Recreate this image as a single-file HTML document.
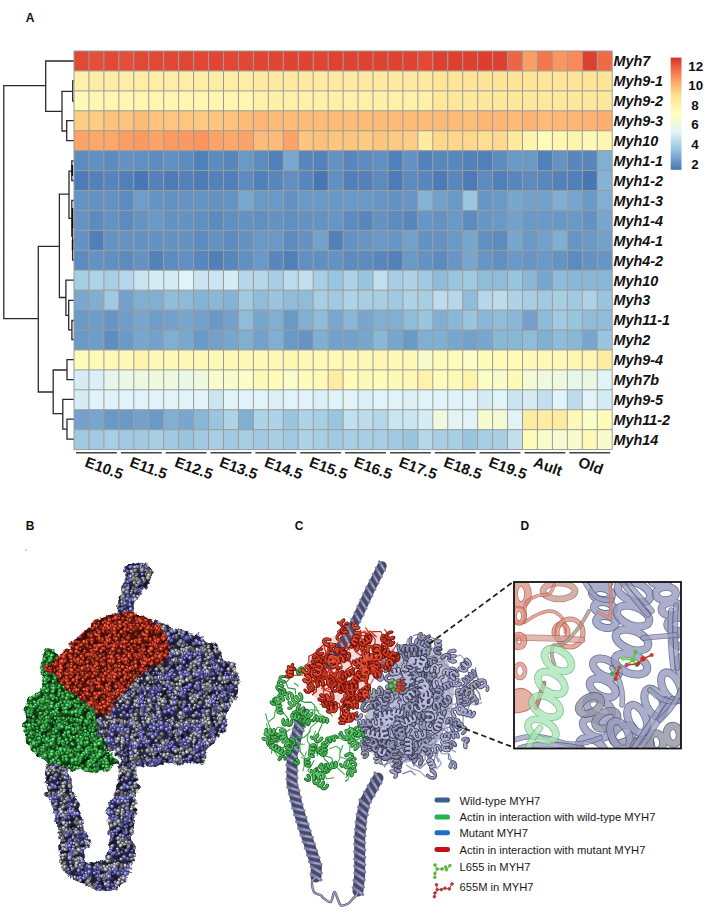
<!DOCTYPE html>
<html><head><meta charset="utf-8"><style>
html,body{margin:0;padding:0;background:#fff;}
body{width:708px;height:918px;overflow:hidden;font-family:"Liberation Sans",sans-serif;}
svg{display:block;}
</style></head><body>
<svg width="708" height="918" viewBox="0 0 708 918">
<rect width="708" height="918" fill="#fff"/>
<path d="M3.8 85.7V318.6 M3.8 85.7H45.7 M3.8 318.6H38.3 M45.7 61V111.3 M45.7 61H74 M45.7 111.3H62 M62 91.4V131 M62 91.4H72.7 M72.7 81V101 M72.7 81H74 M72.7 101H74 M62 131H66.7 M66.7 120.7V140.6 M66.7 120.7H74 M66.7 140.6H74 M38.3 246.4V392 M38.3 246.4H59.4 M59.4 194.2V297.5 M59.4 194.2H69 M69 171.2V218.4 M69 171.2H71.8 M71.8 160.9V180.5 M71.8 160.9H74 M71.8 180.5H74 M69 218.4H71.8 M71.8 200.5V236 M71.8 200.5H74 M72.6 220.2V260 M72.6 240H74 M72.6 260H74 M59.4 297.5H65.9 M65.9 280.2V315.4 M65.9 280.2H74 M65.9 315.4H68.7 M68.7 300.3V329.8 M68.7 300.3H74 M68.7 329.8H71.9 M71.9 320.5V339.5 M71.9 320.5H74 M71.9 339.5H74 M38.3 392H53.2 M53.2 370V413.7 M53.2 370H67 M67 359.7V379.6 M67 359.7H74 M67 379.6H74 M53.2 413.7H62.8 M62.8 399.3V429.2 M62.8 399.3H74 M62.8 429.2H67 M67 419.2V439.1 M67 419.2H74 M67 439.1H74" stroke="#2a2a2a" stroke-width="1.3" fill="none" stroke-linecap="square"/><path d="M72.6 208V228 M72.6 240V250 M72.3 165V176" stroke="#111" stroke-width="1.6"/>
<rect x="74.00" y="51.00" width="14.95" height="19.93" fill="#e14935"/>
<rect x="88.95" y="51.00" width="14.95" height="19.93" fill="#e34f38"/>
<rect x="103.90" y="51.00" width="14.95" height="19.93" fill="#e14935"/>
<rect x="118.85" y="51.00" width="14.95" height="19.93" fill="#e34f38"/>
<rect x="133.80" y="51.00" width="14.95" height="19.93" fill="#e14935"/>
<rect x="148.75" y="51.00" width="14.95" height="19.93" fill="#e14935"/>
<rect x="163.70" y="51.00" width="14.95" height="19.93" fill="#e04734"/>
<rect x="178.65" y="51.00" width="14.95" height="19.93" fill="#e04633"/>
<rect x="193.60" y="51.00" width="14.95" height="19.93" fill="#e04734"/>
<rect x="208.55" y="51.00" width="14.95" height="19.93" fill="#e04633"/>
<rect x="223.50" y="51.00" width="14.95" height="19.93" fill="#e04734"/>
<rect x="238.45" y="51.00" width="14.95" height="19.93" fill="#e04734"/>
<rect x="253.40" y="51.00" width="14.95" height="19.93" fill="#df4532"/>
<rect x="268.35" y="51.00" width="14.95" height="19.93" fill="#df4532"/>
<rect x="283.30" y="51.00" width="14.95" height="19.93" fill="#df4432"/>
<rect x="298.25" y="51.00" width="14.95" height="19.93" fill="#df4432"/>
<rect x="313.20" y="51.00" width="14.95" height="19.93" fill="#df4532"/>
<rect x="328.15" y="51.00" width="14.95" height="19.93" fill="#de4231"/>
<rect x="343.10" y="51.00" width="14.95" height="19.93" fill="#df4432"/>
<rect x="358.05" y="51.00" width="14.95" height="19.93" fill="#de4231"/>
<rect x="373.00" y="51.00" width="14.95" height="19.93" fill="#df4432"/>
<rect x="387.95" y="51.00" width="14.95" height="19.93" fill="#de4231"/>
<rect x="402.90" y="51.00" width="14.95" height="19.93" fill="#df4432"/>
<rect x="417.85" y="51.00" width="14.95" height="19.93" fill="#e14935"/>
<rect x="432.80" y="51.00" width="14.95" height="19.93" fill="#dd402f"/>
<rect x="447.75" y="51.00" width="14.95" height="19.93" fill="#dd402f"/>
<rect x="462.70" y="51.00" width="14.95" height="19.93" fill="#dd402f"/>
<rect x="477.65" y="51.00" width="14.95" height="19.93" fill="#dd3e2f"/>
<rect x="492.60" y="51.00" width="14.95" height="19.93" fill="#dd402f"/>
<rect x="507.55" y="51.00" width="14.95" height="19.93" fill="#ec6544"/>
<rect x="522.50" y="51.00" width="14.95" height="19.93" fill="#fc9e64"/>
<rect x="537.45" y="51.00" width="14.95" height="19.93" fill="#f3764c"/>
<rect x="552.40" y="51.00" width="14.95" height="19.93" fill="#fc965f"/>
<rect x="567.35" y="51.00" width="14.95" height="19.93" fill="#fb8957"/>
<rect x="582.30" y="51.00" width="14.95" height="19.93" fill="#dd402f"/>
<rect x="597.25" y="51.00" width="14.95" height="19.93" fill="#ee6b46"/>
<rect x="74.00" y="70.93" width="14.95" height="19.93" fill="#fff0a8"/>
<rect x="88.95" y="70.93" width="14.95" height="19.93" fill="#feeda4"/>
<rect x="103.90" y="70.93" width="14.95" height="19.93" fill="#feeda4"/>
<rect x="118.85" y="70.93" width="14.95" height="19.93" fill="#feeda4"/>
<rect x="133.80" y="70.93" width="14.95" height="19.93" fill="#feeda4"/>
<rect x="148.75" y="70.93" width="14.95" height="19.93" fill="#feeda4"/>
<rect x="163.70" y="70.93" width="14.95" height="19.93" fill="#feeda4"/>
<rect x="178.65" y="70.93" width="14.95" height="19.93" fill="#feeda4"/>
<rect x="193.60" y="70.93" width="14.95" height="19.93" fill="#feeda4"/>
<rect x="208.55" y="70.93" width="14.95" height="19.93" fill="#feeda4"/>
<rect x="223.50" y="70.93" width="14.95" height="19.93" fill="#feeda4"/>
<rect x="238.45" y="70.93" width="14.95" height="19.93" fill="#feeda4"/>
<rect x="253.40" y="70.93" width="14.95" height="19.93" fill="#feeba1"/>
<rect x="268.35" y="70.93" width="14.95" height="19.93" fill="#feeba1"/>
<rect x="283.30" y="70.93" width="14.95" height="19.93" fill="#feeba1"/>
<rect x="298.25" y="70.93" width="14.95" height="19.93" fill="#feeba1"/>
<rect x="313.20" y="70.93" width="14.95" height="19.93" fill="#feeba1"/>
<rect x="328.15" y="70.93" width="14.95" height="19.93" fill="#feeba1"/>
<rect x="343.10" y="70.93" width="14.95" height="19.93" fill="#feeba1"/>
<rect x="358.05" y="70.93" width="14.95" height="19.93" fill="#feeba1"/>
<rect x="373.00" y="70.93" width="14.95" height="19.93" fill="#feeba1"/>
<rect x="387.95" y="70.93" width="14.95" height="19.93" fill="#feeba1"/>
<rect x="402.90" y="70.93" width="14.95" height="19.93" fill="#feeba1"/>
<rect x="417.85" y="70.93" width="14.95" height="19.93" fill="#feeba1"/>
<rect x="432.80" y="70.93" width="14.95" height="19.93" fill="#fee598"/>
<rect x="447.75" y="70.93" width="14.95" height="19.93" fill="#fee598"/>
<rect x="462.70" y="70.93" width="14.95" height="19.93" fill="#fee598"/>
<rect x="477.65" y="70.93" width="14.95" height="19.93" fill="#fee598"/>
<rect x="492.60" y="70.93" width="14.95" height="19.93" fill="#fee598"/>
<rect x="507.55" y="70.93" width="14.95" height="19.93" fill="#fee598"/>
<rect x="522.50" y="70.93" width="14.95" height="19.93" fill="#fee598"/>
<rect x="537.45" y="70.93" width="14.95" height="19.93" fill="#fee598"/>
<rect x="552.40" y="70.93" width="14.95" height="19.93" fill="#fee598"/>
<rect x="567.35" y="70.93" width="14.95" height="19.93" fill="#fee598"/>
<rect x="582.30" y="70.93" width="14.95" height="19.93" fill="#fee598"/>
<rect x="597.25" y="70.93" width="14.95" height="19.93" fill="#fee598"/>
<rect x="74.00" y="90.86" width="14.95" height="19.93" fill="#fff9b7"/>
<rect x="88.95" y="90.86" width="14.95" height="19.93" fill="#fff6b1"/>
<rect x="103.90" y="90.86" width="14.95" height="19.93" fill="#fff6b1"/>
<rect x="118.85" y="90.86" width="14.95" height="19.93" fill="#fff6b1"/>
<rect x="133.80" y="90.86" width="14.95" height="19.93" fill="#fff6b1"/>
<rect x="148.75" y="90.86" width="14.95" height="19.93" fill="#fff6b1"/>
<rect x="163.70" y="90.86" width="14.95" height="19.93" fill="#fff6b1"/>
<rect x="178.65" y="90.86" width="14.95" height="19.93" fill="#fff6b1"/>
<rect x="193.60" y="90.86" width="14.95" height="19.93" fill="#fff6b1"/>
<rect x="208.55" y="90.86" width="14.95" height="19.93" fill="#fff6b1"/>
<rect x="223.50" y="90.86" width="14.95" height="19.93" fill="#fff6b1"/>
<rect x="238.45" y="90.86" width="14.95" height="19.93" fill="#fff6b1"/>
<rect x="253.40" y="90.86" width="14.95" height="19.93" fill="#fff0a8"/>
<rect x="268.35" y="90.86" width="14.95" height="19.93" fill="#fff0a8"/>
<rect x="283.30" y="90.86" width="14.95" height="19.93" fill="#fff0a8"/>
<rect x="298.25" y="90.86" width="14.95" height="19.93" fill="#fff0a8"/>
<rect x="313.20" y="90.86" width="14.95" height="19.93" fill="#fff0a8"/>
<rect x="328.15" y="90.86" width="14.95" height="19.93" fill="#fff0a8"/>
<rect x="343.10" y="90.86" width="14.95" height="19.93" fill="#fff0a8"/>
<rect x="358.05" y="90.86" width="14.95" height="19.93" fill="#fff0a8"/>
<rect x="373.00" y="90.86" width="14.95" height="19.93" fill="#fff0a8"/>
<rect x="387.95" y="90.86" width="14.95" height="19.93" fill="#fff0a8"/>
<rect x="402.90" y="90.86" width="14.95" height="19.93" fill="#fff0a8"/>
<rect x="417.85" y="90.86" width="14.95" height="19.93" fill="#fff0a8"/>
<rect x="432.80" y="90.86" width="14.95" height="19.93" fill="#fee89c"/>
<rect x="447.75" y="90.86" width="14.95" height="19.93" fill="#fee89c"/>
<rect x="462.70" y="90.86" width="14.95" height="19.93" fill="#fee89c"/>
<rect x="477.65" y="90.86" width="14.95" height="19.93" fill="#fee89c"/>
<rect x="492.60" y="90.86" width="14.95" height="19.93" fill="#fee89c"/>
<rect x="507.55" y="90.86" width="14.95" height="19.93" fill="#fee89c"/>
<rect x="522.50" y="90.86" width="14.95" height="19.93" fill="#fee89c"/>
<rect x="537.45" y="90.86" width="14.95" height="19.93" fill="#fee89c"/>
<rect x="552.40" y="90.86" width="14.95" height="19.93" fill="#fee89c"/>
<rect x="567.35" y="90.86" width="14.95" height="19.93" fill="#fee89c"/>
<rect x="582.30" y="90.86" width="14.95" height="19.93" fill="#fee89c"/>
<rect x="597.25" y="90.86" width="14.95" height="19.93" fill="#fee89c"/>
<rect x="74.00" y="110.79" width="14.95" height="19.93" fill="#fecd83"/>
<rect x="88.95" y="110.79" width="14.95" height="19.93" fill="#fecd83"/>
<rect x="103.90" y="110.79" width="14.95" height="19.93" fill="#fdc37d"/>
<rect x="118.85" y="110.79" width="14.95" height="19.93" fill="#fdc37d"/>
<rect x="133.80" y="110.79" width="14.95" height="19.93" fill="#fdbb78"/>
<rect x="148.75" y="110.79" width="14.95" height="19.93" fill="#fdc37d"/>
<rect x="163.70" y="110.79" width="14.95" height="19.93" fill="#fdc57e"/>
<rect x="178.65" y="110.79" width="14.95" height="19.93" fill="#fdc57e"/>
<rect x="193.60" y="110.79" width="14.95" height="19.93" fill="#fdca82"/>
<rect x="208.55" y="110.79" width="14.95" height="19.93" fill="#fdc57e"/>
<rect x="223.50" y="110.79" width="14.95" height="19.93" fill="#fdc37d"/>
<rect x="238.45" y="110.79" width="14.95" height="19.93" fill="#fdbb78"/>
<rect x="253.40" y="110.79" width="14.95" height="19.93" fill="#fdb674"/>
<rect x="268.35" y="110.79" width="14.95" height="19.93" fill="#fdbb78"/>
<rect x="283.30" y="110.79" width="14.95" height="19.93" fill="#fdbb78"/>
<rect x="298.25" y="110.79" width="14.95" height="19.93" fill="#fdbb78"/>
<rect x="313.20" y="110.79" width="14.95" height="19.93" fill="#fdbb78"/>
<rect x="328.15" y="110.79" width="14.95" height="19.93" fill="#fdbb78"/>
<rect x="343.10" y="110.79" width="14.95" height="19.93" fill="#fdbb78"/>
<rect x="358.05" y="110.79" width="14.95" height="19.93" fill="#fdbb78"/>
<rect x="373.00" y="110.79" width="14.95" height="19.93" fill="#fdbb78"/>
<rect x="387.95" y="110.79" width="14.95" height="19.93" fill="#fdbb78"/>
<rect x="402.90" y="110.79" width="14.95" height="19.93" fill="#fdbb78"/>
<rect x="417.85" y="110.79" width="14.95" height="19.93" fill="#fdbb78"/>
<rect x="432.80" y="110.79" width="14.95" height="19.93" fill="#fdb976"/>
<rect x="447.75" y="110.79" width="14.95" height="19.93" fill="#fdbb78"/>
<rect x="462.70" y="110.79" width="14.95" height="19.93" fill="#fdbe79"/>
<rect x="477.65" y="110.79" width="14.95" height="19.93" fill="#fdb674"/>
<rect x="492.60" y="110.79" width="14.95" height="19.93" fill="#fdb674"/>
<rect x="507.55" y="110.79" width="14.95" height="19.93" fill="#fdbb78"/>
<rect x="522.50" y="110.79" width="14.95" height="19.93" fill="#fdb271"/>
<rect x="537.45" y="110.79" width="14.95" height="19.93" fill="#fdbb78"/>
<rect x="552.40" y="110.79" width="14.95" height="19.93" fill="#fdb674"/>
<rect x="567.35" y="110.79" width="14.95" height="19.93" fill="#fdb674"/>
<rect x="582.30" y="110.79" width="14.95" height="19.93" fill="#fdb271"/>
<rect x="597.25" y="110.79" width="14.95" height="19.93" fill="#fdad6e"/>
<rect x="74.00" y="130.72" width="14.95" height="19.93" fill="#fda367"/>
<rect x="88.95" y="130.72" width="14.95" height="19.93" fill="#fda86b"/>
<rect x="103.90" y="130.72" width="14.95" height="19.93" fill="#fda86b"/>
<rect x="118.85" y="130.72" width="14.95" height="19.93" fill="#fc9e64"/>
<rect x="133.80" y="130.72" width="14.95" height="19.93" fill="#fc9961"/>
<rect x="148.75" y="130.72" width="14.95" height="19.93" fill="#fda367"/>
<rect x="163.70" y="130.72" width="14.95" height="19.93" fill="#fc9961"/>
<rect x="178.65" y="130.72" width="14.95" height="19.93" fill="#fc9961"/>
<rect x="193.60" y="130.72" width="14.95" height="19.93" fill="#fc945d"/>
<rect x="208.55" y="130.72" width="14.95" height="19.93" fill="#fda367"/>
<rect x="223.50" y="130.72" width="14.95" height="19.93" fill="#fda86b"/>
<rect x="238.45" y="130.72" width="14.95" height="19.93" fill="#fda367"/>
<rect x="253.40" y="130.72" width="14.95" height="19.93" fill="#fdbb78"/>
<rect x="268.35" y="130.72" width="14.95" height="19.93" fill="#fdbb78"/>
<rect x="283.30" y="130.72" width="14.95" height="19.93" fill="#fda367"/>
<rect x="298.25" y="130.72" width="14.95" height="19.93" fill="#fdc57e"/>
<rect x="313.20" y="130.72" width="14.95" height="19.93" fill="#fdc07b"/>
<rect x="328.15" y="130.72" width="14.95" height="19.93" fill="#fdc57e"/>
<rect x="343.10" y="130.72" width="14.95" height="19.93" fill="#fdc57e"/>
<rect x="358.05" y="130.72" width="14.95" height="19.93" fill="#fdca82"/>
<rect x="373.00" y="130.72" width="14.95" height="19.93" fill="#fdc57e"/>
<rect x="387.95" y="130.72" width="14.95" height="19.93" fill="#fdca82"/>
<rect x="402.90" y="130.72" width="14.95" height="19.93" fill="#fecd83"/>
<rect x="417.85" y="130.72" width="14.95" height="19.93" fill="#feeba0"/>
<rect x="432.80" y="130.72" width="14.95" height="19.93" fill="#fed78a"/>
<rect x="447.75" y="130.72" width="14.95" height="19.93" fill="#fed78a"/>
<rect x="462.70" y="130.72" width="14.95" height="19.93" fill="#fed98c"/>
<rect x="477.65" y="130.72" width="14.95" height="19.93" fill="#fede8f"/>
<rect x="492.60" y="130.72" width="14.95" height="19.93" fill="#fed98c"/>
<rect x="507.55" y="130.72" width="14.95" height="19.93" fill="#fee99d"/>
<rect x="522.50" y="130.72" width="14.95" height="19.93" fill="#fff4ae"/>
<rect x="537.45" y="130.72" width="14.95" height="19.93" fill="#fffbb9"/>
<rect x="552.40" y="130.72" width="14.95" height="19.93" fill="#fff6b1"/>
<rect x="567.35" y="130.72" width="14.95" height="19.93" fill="#fff4ae"/>
<rect x="582.30" y="130.72" width="14.95" height="19.93" fill="#fff9b7"/>
<rect x="597.25" y="130.72" width="14.95" height="19.93" fill="#fff6b1"/>
<rect x="74.00" y="150.65" width="14.95" height="19.93" fill="#5c8bc0"/>
<rect x="88.95" y="150.65" width="14.95" height="19.93" fill="#6090c2"/>
<rect x="103.90" y="150.65" width="14.95" height="19.93" fill="#5c8bc0"/>
<rect x="118.85" y="150.65" width="14.95" height="19.93" fill="#6392c3"/>
<rect x="133.80" y="150.65" width="14.95" height="19.93" fill="#6090c2"/>
<rect x="148.75" y="150.65" width="14.95" height="19.93" fill="#5c8bc0"/>
<rect x="163.70" y="150.65" width="14.95" height="19.93" fill="#6090c2"/>
<rect x="178.65" y="150.65" width="14.95" height="19.93" fill="#5c8bc0"/>
<rect x="193.60" y="150.65" width="14.95" height="19.93" fill="#5080ba"/>
<rect x="208.55" y="150.65" width="14.95" height="19.93" fill="#5c8bc0"/>
<rect x="223.50" y="150.65" width="14.95" height="19.93" fill="#5787bd"/>
<rect x="238.45" y="150.65" width="14.95" height="19.93" fill="#6999c7"/>
<rect x="253.40" y="150.65" width="14.95" height="19.93" fill="#5c8bc0"/>
<rect x="268.35" y="150.65" width="14.95" height="19.93" fill="#5080ba"/>
<rect x="283.30" y="150.65" width="14.95" height="19.93" fill="#79a8cf"/>
<rect x="298.25" y="150.65" width="14.95" height="19.93" fill="#5787bd"/>
<rect x="313.20" y="150.65" width="14.95" height="19.93" fill="#5382bb"/>
<rect x="328.15" y="150.65" width="14.95" height="19.93" fill="#6392c3"/>
<rect x="343.10" y="150.65" width="14.95" height="19.93" fill="#5787bd"/>
<rect x="358.05" y="150.65" width="14.95" height="19.93" fill="#5c8bc0"/>
<rect x="373.00" y="150.65" width="14.95" height="19.93" fill="#6090c2"/>
<rect x="387.95" y="150.65" width="14.95" height="19.93" fill="#5080ba"/>
<rect x="402.90" y="150.65" width="14.95" height="19.93" fill="#6392c3"/>
<rect x="417.85" y="150.65" width="14.95" height="19.93" fill="#5382bb"/>
<rect x="432.80" y="150.65" width="14.95" height="19.93" fill="#5787bd"/>
<rect x="447.75" y="150.65" width="14.95" height="19.93" fill="#5787bd"/>
<rect x="462.70" y="150.65" width="14.95" height="19.93" fill="#5382bb"/>
<rect x="477.65" y="150.65" width="14.95" height="19.93" fill="#5080ba"/>
<rect x="492.60" y="150.65" width="14.95" height="19.93" fill="#5c8bc0"/>
<rect x="507.55" y="150.65" width="14.95" height="19.93" fill="#6999c7"/>
<rect x="522.50" y="150.65" width="14.95" height="19.93" fill="#6999c7"/>
<rect x="537.45" y="150.65" width="14.95" height="19.93" fill="#5080ba"/>
<rect x="552.40" y="150.65" width="14.95" height="19.93" fill="#6392c3"/>
<rect x="567.35" y="150.65" width="14.95" height="19.93" fill="#5787bd"/>
<rect x="582.30" y="150.65" width="14.95" height="19.93" fill="#5787bd"/>
<rect x="597.25" y="150.65" width="14.95" height="19.93" fill="#80afd2"/>
<rect x="74.00" y="170.58" width="14.95" height="19.93" fill="#4c7cb8"/>
<rect x="88.95" y="170.58" width="14.95" height="19.93" fill="#5382bb"/>
<rect x="103.90" y="170.58" width="14.95" height="19.93" fill="#5585bc"/>
<rect x="118.85" y="170.58" width="14.95" height="19.93" fill="#5080ba"/>
<rect x="133.80" y="170.58" width="14.95" height="19.93" fill="#4777b5"/>
<rect x="148.75" y="170.58" width="14.95" height="19.93" fill="#5382bb"/>
<rect x="163.70" y="170.58" width="14.95" height="19.93" fill="#4c7cb8"/>
<rect x="178.65" y="170.58" width="14.95" height="19.93" fill="#5382bb"/>
<rect x="193.60" y="170.58" width="14.95" height="19.93" fill="#4c7cb8"/>
<rect x="208.55" y="170.58" width="14.95" height="19.93" fill="#5382bb"/>
<rect x="223.50" y="170.58" width="14.95" height="19.93" fill="#5080ba"/>
<rect x="238.45" y="170.58" width="14.95" height="19.93" fill="#5c8bc0"/>
<rect x="253.40" y="170.58" width="14.95" height="19.93" fill="#5080ba"/>
<rect x="268.35" y="170.58" width="14.95" height="19.93" fill="#5787bd"/>
<rect x="283.30" y="170.58" width="14.95" height="19.93" fill="#6090c2"/>
<rect x="298.25" y="170.58" width="14.95" height="19.93" fill="#5787bd"/>
<rect x="313.20" y="170.58" width="14.95" height="19.93" fill="#4777b5"/>
<rect x="328.15" y="170.58" width="14.95" height="19.93" fill="#6090c2"/>
<rect x="343.10" y="170.58" width="14.95" height="19.93" fill="#5080ba"/>
<rect x="358.05" y="170.58" width="14.95" height="19.93" fill="#5382bb"/>
<rect x="373.00" y="170.58" width="14.95" height="19.93" fill="#5c8bc0"/>
<rect x="387.95" y="170.58" width="14.95" height="19.93" fill="#4c7cb8"/>
<rect x="402.90" y="170.58" width="14.95" height="19.93" fill="#5c8bc0"/>
<rect x="417.85" y="170.58" width="14.95" height="19.93" fill="#5787bd"/>
<rect x="432.80" y="170.58" width="14.95" height="19.93" fill="#4c7cb8"/>
<rect x="447.75" y="170.58" width="14.95" height="19.93" fill="#5787bd"/>
<rect x="462.70" y="170.58" width="14.95" height="19.93" fill="#4c7cb8"/>
<rect x="477.65" y="170.58" width="14.95" height="19.93" fill="#5c8bc0"/>
<rect x="492.60" y="170.58" width="14.95" height="19.93" fill="#5080ba"/>
<rect x="507.55" y="170.58" width="14.95" height="19.93" fill="#5787bd"/>
<rect x="522.50" y="170.58" width="14.95" height="19.93" fill="#5c8bc0"/>
<rect x="537.45" y="170.58" width="14.95" height="19.93" fill="#5787bd"/>
<rect x="552.40" y="170.58" width="14.95" height="19.93" fill="#5382bb"/>
<rect x="567.35" y="170.58" width="14.95" height="19.93" fill="#5080ba"/>
<rect x="582.30" y="170.58" width="14.95" height="19.93" fill="#4777b5"/>
<rect x="597.25" y="170.58" width="14.95" height="19.93" fill="#85b3d5"/>
<rect x="74.00" y="190.51" width="14.95" height="19.93" fill="#6594c4"/>
<rect x="88.95" y="190.51" width="14.95" height="19.93" fill="#6392c3"/>
<rect x="103.90" y="190.51" width="14.95" height="19.93" fill="#6392c3"/>
<rect x="118.85" y="190.51" width="14.95" height="19.93" fill="#5c8bc0"/>
<rect x="133.80" y="190.51" width="14.95" height="19.93" fill="#6e9dc9"/>
<rect x="148.75" y="190.51" width="14.95" height="19.93" fill="#6594c4"/>
<rect x="163.70" y="190.51" width="14.95" height="19.93" fill="#6392c3"/>
<rect x="178.65" y="190.51" width="14.95" height="19.93" fill="#6594c4"/>
<rect x="193.60" y="190.51" width="14.95" height="19.93" fill="#6594c4"/>
<rect x="208.55" y="190.51" width="14.95" height="19.93" fill="#6392c3"/>
<rect x="223.50" y="190.51" width="14.95" height="19.93" fill="#6594c4"/>
<rect x="238.45" y="190.51" width="14.95" height="19.93" fill="#79a8cf"/>
<rect x="253.40" y="190.51" width="14.95" height="19.93" fill="#6999c7"/>
<rect x="268.35" y="190.51" width="14.95" height="19.93" fill="#6999c7"/>
<rect x="283.30" y="190.51" width="14.95" height="19.93" fill="#6392c3"/>
<rect x="298.25" y="190.51" width="14.95" height="19.93" fill="#6999c7"/>
<rect x="313.20" y="190.51" width="14.95" height="19.93" fill="#6999c7"/>
<rect x="328.15" y="190.51" width="14.95" height="19.93" fill="#6999c7"/>
<rect x="343.10" y="190.51" width="14.95" height="19.93" fill="#6999c7"/>
<rect x="358.05" y="190.51" width="14.95" height="19.93" fill="#6999c7"/>
<rect x="373.00" y="190.51" width="14.95" height="19.93" fill="#6796c6"/>
<rect x="387.95" y="190.51" width="14.95" height="19.93" fill="#6392c3"/>
<rect x="402.90" y="190.51" width="14.95" height="19.93" fill="#6796c6"/>
<rect x="417.85" y="190.51" width="14.95" height="19.93" fill="#85b3d5"/>
<rect x="432.80" y="190.51" width="14.95" height="19.93" fill="#73a1cb"/>
<rect x="447.75" y="190.51" width="14.95" height="19.93" fill="#6999c7"/>
<rect x="462.70" y="190.51" width="14.95" height="19.93" fill="#9cc6df"/>
<rect x="477.65" y="190.51" width="14.95" height="19.93" fill="#6796c6"/>
<rect x="492.60" y="190.51" width="14.95" height="19.93" fill="#6999c7"/>
<rect x="507.55" y="190.51" width="14.95" height="19.93" fill="#77a6ce"/>
<rect x="522.50" y="190.51" width="14.95" height="19.93" fill="#73a1cb"/>
<rect x="537.45" y="190.51" width="14.95" height="19.93" fill="#73a1cb"/>
<rect x="552.40" y="190.51" width="14.95" height="19.93" fill="#80afd2"/>
<rect x="567.35" y="190.51" width="14.95" height="19.93" fill="#77a6ce"/>
<rect x="582.30" y="190.51" width="14.95" height="19.93" fill="#6999c7"/>
<rect x="597.25" y="190.51" width="14.95" height="19.93" fill="#80afd2"/>
<rect x="74.00" y="210.44" width="14.95" height="19.93" fill="#6594c4"/>
<rect x="88.95" y="210.44" width="14.95" height="19.93" fill="#5c8bc0"/>
<rect x="103.90" y="210.44" width="14.95" height="19.93" fill="#6392c3"/>
<rect x="118.85" y="210.44" width="14.95" height="19.93" fill="#5c8bc0"/>
<rect x="133.80" y="210.44" width="14.95" height="19.93" fill="#6594c4"/>
<rect x="148.75" y="210.44" width="14.95" height="19.93" fill="#6999c7"/>
<rect x="163.70" y="210.44" width="14.95" height="19.93" fill="#6392c3"/>
<rect x="178.65" y="210.44" width="14.95" height="19.93" fill="#6392c3"/>
<rect x="193.60" y="210.44" width="14.95" height="19.93" fill="#6090c2"/>
<rect x="208.55" y="210.44" width="14.95" height="19.93" fill="#5c8bc0"/>
<rect x="223.50" y="210.44" width="14.95" height="19.93" fill="#6090c2"/>
<rect x="238.45" y="210.44" width="14.95" height="19.93" fill="#6392c3"/>
<rect x="253.40" y="210.44" width="14.95" height="19.93" fill="#6090c2"/>
<rect x="268.35" y="210.44" width="14.95" height="19.93" fill="#6392c3"/>
<rect x="283.30" y="210.44" width="14.95" height="19.93" fill="#6090c2"/>
<rect x="298.25" y="210.44" width="14.95" height="19.93" fill="#6392c3"/>
<rect x="313.20" y="210.44" width="14.95" height="19.93" fill="#6392c3"/>
<rect x="328.15" y="210.44" width="14.95" height="19.93" fill="#6796c6"/>
<rect x="343.10" y="210.44" width="14.95" height="19.93" fill="#5c8bc0"/>
<rect x="358.05" y="210.44" width="14.95" height="19.93" fill="#5787bd"/>
<rect x="373.00" y="210.44" width="14.95" height="19.93" fill="#6392c3"/>
<rect x="387.95" y="210.44" width="14.95" height="19.93" fill="#5c8bc0"/>
<rect x="402.90" y="210.44" width="14.95" height="19.93" fill="#5787bd"/>
<rect x="417.85" y="210.44" width="14.95" height="19.93" fill="#6796c6"/>
<rect x="432.80" y="210.44" width="14.95" height="19.93" fill="#6392c3"/>
<rect x="447.75" y="210.44" width="14.95" height="19.93" fill="#6999c7"/>
<rect x="462.70" y="210.44" width="14.95" height="19.93" fill="#5c8bc0"/>
<rect x="477.65" y="210.44" width="14.95" height="19.93" fill="#6796c6"/>
<rect x="492.60" y="210.44" width="14.95" height="19.93" fill="#6999c7"/>
<rect x="507.55" y="210.44" width="14.95" height="19.93" fill="#73a1cb"/>
<rect x="522.50" y="210.44" width="14.95" height="19.93" fill="#6999c7"/>
<rect x="537.45" y="210.44" width="14.95" height="19.93" fill="#6999c7"/>
<rect x="552.40" y="210.44" width="14.95" height="19.93" fill="#6999c7"/>
<rect x="567.35" y="210.44" width="14.95" height="19.93" fill="#6999c7"/>
<rect x="582.30" y="210.44" width="14.95" height="19.93" fill="#6392c3"/>
<rect x="597.25" y="210.44" width="14.95" height="19.93" fill="#77a6ce"/>
<rect x="74.00" y="230.37" width="14.95" height="19.93" fill="#6392c3"/>
<rect x="88.95" y="230.37" width="14.95" height="19.93" fill="#5080ba"/>
<rect x="103.90" y="230.37" width="14.95" height="19.93" fill="#6392c3"/>
<rect x="118.85" y="230.37" width="14.95" height="19.93" fill="#6594c4"/>
<rect x="133.80" y="230.37" width="14.95" height="19.93" fill="#6392c3"/>
<rect x="148.75" y="230.37" width="14.95" height="19.93" fill="#6392c3"/>
<rect x="163.70" y="230.37" width="14.95" height="19.93" fill="#6392c3"/>
<rect x="178.65" y="230.37" width="14.95" height="19.93" fill="#6392c3"/>
<rect x="193.60" y="230.37" width="14.95" height="19.93" fill="#5c8bc0"/>
<rect x="208.55" y="230.37" width="14.95" height="19.93" fill="#6392c3"/>
<rect x="223.50" y="230.37" width="14.95" height="19.93" fill="#5c8bc0"/>
<rect x="238.45" y="230.37" width="14.95" height="19.93" fill="#6392c3"/>
<rect x="253.40" y="230.37" width="14.95" height="19.93" fill="#6999c7"/>
<rect x="268.35" y="230.37" width="14.95" height="19.93" fill="#6999c7"/>
<rect x="283.30" y="230.37" width="14.95" height="19.93" fill="#5c8bc0"/>
<rect x="298.25" y="230.37" width="14.95" height="19.93" fill="#6392c3"/>
<rect x="313.20" y="230.37" width="14.95" height="19.93" fill="#73a1cb"/>
<rect x="328.15" y="230.37" width="14.95" height="19.93" fill="#5080ba"/>
<rect x="343.10" y="230.37" width="14.95" height="19.93" fill="#6392c3"/>
<rect x="358.05" y="230.37" width="14.95" height="19.93" fill="#6796c6"/>
<rect x="373.00" y="230.37" width="14.95" height="19.93" fill="#6999c7"/>
<rect x="387.95" y="230.37" width="14.95" height="19.93" fill="#6796c6"/>
<rect x="402.90" y="230.37" width="14.95" height="19.93" fill="#73a1cb"/>
<rect x="417.85" y="230.37" width="14.95" height="19.93" fill="#6392c3"/>
<rect x="432.80" y="230.37" width="14.95" height="19.93" fill="#6392c3"/>
<rect x="447.75" y="230.37" width="14.95" height="19.93" fill="#6999c7"/>
<rect x="462.70" y="230.37" width="14.95" height="19.93" fill="#77a6ce"/>
<rect x="477.65" y="230.37" width="14.95" height="19.93" fill="#6090c2"/>
<rect x="492.60" y="230.37" width="14.95" height="19.93" fill="#5c8bc0"/>
<rect x="507.55" y="230.37" width="14.95" height="19.93" fill="#77a6ce"/>
<rect x="522.50" y="230.37" width="14.95" height="19.93" fill="#6999c7"/>
<rect x="537.45" y="230.37" width="14.95" height="19.93" fill="#73a1cb"/>
<rect x="552.40" y="230.37" width="14.95" height="19.93" fill="#80afd2"/>
<rect x="567.35" y="230.37" width="14.95" height="19.93" fill="#6796c6"/>
<rect x="582.30" y="230.37" width="14.95" height="19.93" fill="#6999c7"/>
<rect x="597.25" y="230.37" width="14.95" height="19.93" fill="#73a1cb"/>
<rect x="74.00" y="250.30" width="14.95" height="19.93" fill="#5c8bc0"/>
<rect x="88.95" y="250.30" width="14.95" height="19.93" fill="#6392c3"/>
<rect x="103.90" y="250.30" width="14.95" height="19.93" fill="#6090c2"/>
<rect x="118.85" y="250.30" width="14.95" height="19.93" fill="#5c8bc0"/>
<rect x="133.80" y="250.30" width="14.95" height="19.93" fill="#6392c3"/>
<rect x="148.75" y="250.30" width="14.95" height="19.93" fill="#5382bb"/>
<rect x="163.70" y="250.30" width="14.95" height="19.93" fill="#5c8bc0"/>
<rect x="178.65" y="250.30" width="14.95" height="19.93" fill="#6090c2"/>
<rect x="193.60" y="250.30" width="14.95" height="19.93" fill="#5787bd"/>
<rect x="208.55" y="250.30" width="14.95" height="19.93" fill="#5080ba"/>
<rect x="223.50" y="250.30" width="14.95" height="19.93" fill="#5787bd"/>
<rect x="238.45" y="250.30" width="14.95" height="19.93" fill="#6090c2"/>
<rect x="253.40" y="250.30" width="14.95" height="19.93" fill="#6999c7"/>
<rect x="268.35" y="250.30" width="14.95" height="19.93" fill="#5787bd"/>
<rect x="283.30" y="250.30" width="14.95" height="19.93" fill="#5080ba"/>
<rect x="298.25" y="250.30" width="14.95" height="19.93" fill="#6090c2"/>
<rect x="313.20" y="250.30" width="14.95" height="19.93" fill="#6090c2"/>
<rect x="328.15" y="250.30" width="14.95" height="19.93" fill="#6392c3"/>
<rect x="343.10" y="250.30" width="14.95" height="19.93" fill="#5c8bc0"/>
<rect x="358.05" y="250.30" width="14.95" height="19.93" fill="#5c8bc0"/>
<rect x="373.00" y="250.30" width="14.95" height="19.93" fill="#5787bd"/>
<rect x="387.95" y="250.30" width="14.95" height="19.93" fill="#5382bb"/>
<rect x="402.90" y="250.30" width="14.95" height="19.93" fill="#6999c7"/>
<rect x="417.85" y="250.30" width="14.95" height="19.93" fill="#6392c3"/>
<rect x="432.80" y="250.30" width="14.95" height="19.93" fill="#5c8bc0"/>
<rect x="447.75" y="250.30" width="14.95" height="19.93" fill="#6796c6"/>
<rect x="462.70" y="250.30" width="14.95" height="19.93" fill="#77a6ce"/>
<rect x="477.65" y="250.30" width="14.95" height="19.93" fill="#6796c6"/>
<rect x="492.60" y="250.30" width="14.95" height="19.93" fill="#6090c2"/>
<rect x="507.55" y="250.30" width="14.95" height="19.93" fill="#6999c7"/>
<rect x="522.50" y="250.30" width="14.95" height="19.93" fill="#6796c6"/>
<rect x="537.45" y="250.30" width="14.95" height="19.93" fill="#6999c7"/>
<rect x="552.40" y="250.30" width="14.95" height="19.93" fill="#6392c3"/>
<rect x="567.35" y="250.30" width="14.95" height="19.93" fill="#5c8bc0"/>
<rect x="582.30" y="250.30" width="14.95" height="19.93" fill="#6392c3"/>
<rect x="597.25" y="250.30" width="14.95" height="19.93" fill="#6796c6"/>
<rect x="74.00" y="270.23" width="14.95" height="19.93" fill="#a8cee3"/>
<rect x="88.95" y="270.23" width="14.95" height="19.93" fill="#afd3e6"/>
<rect x="103.90" y="270.23" width="14.95" height="19.93" fill="#a8cee3"/>
<rect x="118.85" y="270.23" width="14.95" height="19.93" fill="#b6d7e9"/>
<rect x="133.80" y="270.23" width="14.95" height="19.93" fill="#cbe5f0"/>
<rect x="148.75" y="270.23" width="14.95" height="19.93" fill="#d5ecf4"/>
<rect x="163.70" y="270.23" width="14.95" height="19.93" fill="#d5ecf4"/>
<rect x="178.65" y="270.23" width="14.95" height="19.93" fill="#e0f3f8"/>
<rect x="193.60" y="270.23" width="14.95" height="19.93" fill="#cbe5f0"/>
<rect x="208.55" y="270.23" width="14.95" height="19.93" fill="#cbe5f0"/>
<rect x="223.50" y="270.23" width="14.95" height="19.93" fill="#d5ecf4"/>
<rect x="238.45" y="270.23" width="14.95" height="19.93" fill="#b6d7e9"/>
<rect x="253.40" y="270.23" width="14.95" height="19.93" fill="#b6d7e9"/>
<rect x="268.35" y="270.23" width="14.95" height="19.93" fill="#a8cee3"/>
<rect x="283.30" y="270.23" width="14.95" height="19.93" fill="#bddceb"/>
<rect x="298.25" y="270.23" width="14.95" height="19.93" fill="#c2dfed"/>
<rect x="313.20" y="270.23" width="14.95" height="19.93" fill="#a8cee3"/>
<rect x="328.15" y="270.23" width="14.95" height="19.93" fill="#9ac5de"/>
<rect x="343.10" y="270.23" width="14.95" height="19.93" fill="#afd3e6"/>
<rect x="358.05" y="270.23" width="14.95" height="19.93" fill="#9ac5de"/>
<rect x="373.00" y="270.23" width="14.95" height="19.93" fill="#c2dfed"/>
<rect x="387.95" y="270.23" width="14.95" height="19.93" fill="#a8cee3"/>
<rect x="402.90" y="270.23" width="14.95" height="19.93" fill="#afd3e6"/>
<rect x="417.85" y="270.23" width="14.95" height="19.93" fill="#a1c9e1"/>
<rect x="432.80" y="270.23" width="14.95" height="19.93" fill="#8ebcd9"/>
<rect x="447.75" y="270.23" width="14.95" height="19.93" fill="#9ac5de"/>
<rect x="462.70" y="270.23" width="14.95" height="19.93" fill="#a1c9e1"/>
<rect x="477.65" y="270.23" width="14.95" height="19.93" fill="#8ebcd9"/>
<rect x="492.60" y="270.23" width="14.95" height="19.93" fill="#8ebcd9"/>
<rect x="507.55" y="270.23" width="14.95" height="19.93" fill="#9ac5de"/>
<rect x="522.50" y="270.23" width="14.95" height="19.93" fill="#89b8d7"/>
<rect x="537.45" y="270.23" width="14.95" height="19.93" fill="#77a6ce"/>
<rect x="552.40" y="270.23" width="14.95" height="19.93" fill="#8ebcd9"/>
<rect x="567.35" y="270.23" width="14.95" height="19.93" fill="#89b8d7"/>
<rect x="582.30" y="270.23" width="14.95" height="19.93" fill="#89b8d7"/>
<rect x="597.25" y="270.23" width="14.95" height="19.93" fill="#89b8d7"/>
<rect x="74.00" y="290.16" width="14.95" height="19.93" fill="#79a8cf"/>
<rect x="88.95" y="290.16" width="14.95" height="19.93" fill="#80afd2"/>
<rect x="103.90" y="290.16" width="14.95" height="19.93" fill="#a1c9e1"/>
<rect x="118.85" y="290.16" width="14.95" height="19.93" fill="#73a1cb"/>
<rect x="133.80" y="290.16" width="14.95" height="19.93" fill="#80afd2"/>
<rect x="148.75" y="290.16" width="14.95" height="19.93" fill="#80afd2"/>
<rect x="163.70" y="290.16" width="14.95" height="19.93" fill="#8ebcd9"/>
<rect x="178.65" y="290.16" width="14.95" height="19.93" fill="#8cbad8"/>
<rect x="193.60" y="290.16" width="14.95" height="19.93" fill="#85b3d5"/>
<rect x="208.55" y="290.16" width="14.95" height="19.93" fill="#89b8d7"/>
<rect x="223.50" y="290.16" width="14.95" height="19.93" fill="#85b3d5"/>
<rect x="238.45" y="290.16" width="14.95" height="19.93" fill="#a1c9e1"/>
<rect x="253.40" y="290.16" width="14.95" height="19.93" fill="#8ebcd9"/>
<rect x="268.35" y="290.16" width="14.95" height="19.93" fill="#9ac5de"/>
<rect x="283.30" y="290.16" width="14.95" height="19.93" fill="#8ebcd9"/>
<rect x="298.25" y="290.16" width="14.95" height="19.93" fill="#8ebcd9"/>
<rect x="313.20" y="290.16" width="14.95" height="19.93" fill="#a8cee3"/>
<rect x="328.15" y="290.16" width="14.95" height="19.93" fill="#a1c9e1"/>
<rect x="343.10" y="290.16" width="14.95" height="19.93" fill="#afd3e6"/>
<rect x="358.05" y="290.16" width="14.95" height="19.93" fill="#a8cee3"/>
<rect x="373.00" y="290.16" width="14.95" height="19.93" fill="#a8cee3"/>
<rect x="387.95" y="290.16" width="14.95" height="19.93" fill="#a1c9e1"/>
<rect x="402.90" y="290.16" width="14.95" height="19.93" fill="#afd3e6"/>
<rect x="417.85" y="290.16" width="14.95" height="19.93" fill="#a8cee3"/>
<rect x="432.80" y="290.16" width="14.95" height="19.93" fill="#bddceb"/>
<rect x="447.75" y="290.16" width="14.95" height="19.93" fill="#b6d7e9"/>
<rect x="462.70" y="290.16" width="14.95" height="19.93" fill="#8ebcd9"/>
<rect x="477.65" y="290.16" width="14.95" height="19.93" fill="#b6d7e9"/>
<rect x="492.60" y="290.16" width="14.95" height="19.93" fill="#bddceb"/>
<rect x="507.55" y="290.16" width="14.95" height="19.93" fill="#afd3e6"/>
<rect x="522.50" y="290.16" width="14.95" height="19.93" fill="#a8cee3"/>
<rect x="537.45" y="290.16" width="14.95" height="19.93" fill="#a1c9e1"/>
<rect x="552.40" y="290.16" width="14.95" height="19.93" fill="#a8cee3"/>
<rect x="567.35" y="290.16" width="14.95" height="19.93" fill="#a1c9e1"/>
<rect x="582.30" y="290.16" width="14.95" height="19.93" fill="#afd3e6"/>
<rect x="597.25" y="290.16" width="14.95" height="19.93" fill="#9ac5de"/>
<rect x="74.00" y="310.09" width="14.95" height="19.93" fill="#6999c7"/>
<rect x="88.95" y="310.09" width="14.95" height="19.93" fill="#6e9dc9"/>
<rect x="103.90" y="310.09" width="14.95" height="19.93" fill="#6796c6"/>
<rect x="118.85" y="310.09" width="14.95" height="19.93" fill="#6e9dc9"/>
<rect x="133.80" y="310.09" width="14.95" height="19.93" fill="#77a6ce"/>
<rect x="148.75" y="310.09" width="14.95" height="19.93" fill="#6e9dc9"/>
<rect x="163.70" y="310.09" width="14.95" height="19.93" fill="#73a1cb"/>
<rect x="178.65" y="310.09" width="14.95" height="19.93" fill="#77a6ce"/>
<rect x="193.60" y="310.09" width="14.95" height="19.93" fill="#73a1cb"/>
<rect x="208.55" y="310.09" width="14.95" height="19.93" fill="#6999c7"/>
<rect x="223.50" y="310.09" width="14.95" height="19.93" fill="#73a1cb"/>
<rect x="238.45" y="310.09" width="14.95" height="19.93" fill="#8ebcd9"/>
<rect x="253.40" y="310.09" width="14.95" height="19.93" fill="#77a6ce"/>
<rect x="268.35" y="310.09" width="14.95" height="19.93" fill="#80afd2"/>
<rect x="283.30" y="310.09" width="14.95" height="19.93" fill="#6999c7"/>
<rect x="298.25" y="310.09" width="14.95" height="19.93" fill="#80afd2"/>
<rect x="313.20" y="310.09" width="14.95" height="19.93" fill="#8ebcd9"/>
<rect x="328.15" y="310.09" width="14.95" height="19.93" fill="#77a6ce"/>
<rect x="343.10" y="310.09" width="14.95" height="19.93" fill="#89b8d7"/>
<rect x="358.05" y="310.09" width="14.95" height="19.93" fill="#77a6ce"/>
<rect x="373.00" y="310.09" width="14.95" height="19.93" fill="#80afd2"/>
<rect x="387.95" y="310.09" width="14.95" height="19.93" fill="#80afd2"/>
<rect x="402.90" y="310.09" width="14.95" height="19.93" fill="#8ebcd9"/>
<rect x="417.85" y="310.09" width="14.95" height="19.93" fill="#9ac5de"/>
<rect x="432.80" y="310.09" width="14.95" height="19.93" fill="#80afd2"/>
<rect x="447.75" y="310.09" width="14.95" height="19.93" fill="#89b8d7"/>
<rect x="462.70" y="310.09" width="14.95" height="19.93" fill="#9ac5de"/>
<rect x="477.65" y="310.09" width="14.95" height="19.93" fill="#89b8d7"/>
<rect x="492.60" y="310.09" width="14.95" height="19.93" fill="#8ebcd9"/>
<rect x="507.55" y="310.09" width="14.95" height="19.93" fill="#89b8d7"/>
<rect x="522.50" y="310.09" width="14.95" height="19.93" fill="#73a1cb"/>
<rect x="537.45" y="310.09" width="14.95" height="19.93" fill="#8ebcd9"/>
<rect x="552.40" y="310.09" width="14.95" height="19.93" fill="#a1c9e1"/>
<rect x="567.35" y="310.09" width="14.95" height="19.93" fill="#9ac5de"/>
<rect x="582.30" y="310.09" width="14.95" height="19.93" fill="#8ebcd9"/>
<rect x="597.25" y="310.09" width="14.95" height="19.93" fill="#8ebcd9"/>
<rect x="74.00" y="330.02" width="14.95" height="19.93" fill="#6999c7"/>
<rect x="88.95" y="330.02" width="14.95" height="19.93" fill="#6e9dc9"/>
<rect x="103.90" y="330.02" width="14.95" height="19.93" fill="#5e8dc1"/>
<rect x="118.85" y="330.02" width="14.95" height="19.93" fill="#6999c7"/>
<rect x="133.80" y="330.02" width="14.95" height="19.93" fill="#77a6ce"/>
<rect x="148.75" y="330.02" width="14.95" height="19.93" fill="#73a1cb"/>
<rect x="163.70" y="330.02" width="14.95" height="19.93" fill="#80afd2"/>
<rect x="178.65" y="330.02" width="14.95" height="19.93" fill="#79a8cf"/>
<rect x="193.60" y="330.02" width="14.95" height="19.93" fill="#6999c7"/>
<rect x="208.55" y="330.02" width="14.95" height="19.93" fill="#73a1cb"/>
<rect x="223.50" y="330.02" width="14.95" height="19.93" fill="#77a6ce"/>
<rect x="238.45" y="330.02" width="14.95" height="19.93" fill="#80afd2"/>
<rect x="253.40" y="330.02" width="14.95" height="19.93" fill="#73a1cb"/>
<rect x="268.35" y="330.02" width="14.95" height="19.93" fill="#80afd2"/>
<rect x="283.30" y="330.02" width="14.95" height="19.93" fill="#6999c7"/>
<rect x="298.25" y="330.02" width="14.95" height="19.93" fill="#6594c4"/>
<rect x="313.20" y="330.02" width="14.95" height="19.93" fill="#80afd2"/>
<rect x="328.15" y="330.02" width="14.95" height="19.93" fill="#73a1cb"/>
<rect x="343.10" y="330.02" width="14.95" height="19.93" fill="#73a1cb"/>
<rect x="358.05" y="330.02" width="14.95" height="19.93" fill="#77a6ce"/>
<rect x="373.00" y="330.02" width="14.95" height="19.93" fill="#89b8d7"/>
<rect x="387.95" y="330.02" width="14.95" height="19.93" fill="#77a6ce"/>
<rect x="402.90" y="330.02" width="14.95" height="19.93" fill="#6999c7"/>
<rect x="417.85" y="330.02" width="14.95" height="19.93" fill="#80afd2"/>
<rect x="432.80" y="330.02" width="14.95" height="19.93" fill="#80afd2"/>
<rect x="447.75" y="330.02" width="14.95" height="19.93" fill="#77a6ce"/>
<rect x="462.70" y="330.02" width="14.95" height="19.93" fill="#73a1cb"/>
<rect x="477.65" y="330.02" width="14.95" height="19.93" fill="#77a6ce"/>
<rect x="492.60" y="330.02" width="14.95" height="19.93" fill="#89b8d7"/>
<rect x="507.55" y="330.02" width="14.95" height="19.93" fill="#89b8d7"/>
<rect x="522.50" y="330.02" width="14.95" height="19.93" fill="#8ebcd9"/>
<rect x="537.45" y="330.02" width="14.95" height="19.93" fill="#80afd2"/>
<rect x="552.40" y="330.02" width="14.95" height="19.93" fill="#8ebcd9"/>
<rect x="567.35" y="330.02" width="14.95" height="19.93" fill="#89b8d7"/>
<rect x="582.30" y="330.02" width="14.95" height="19.93" fill="#77a6ce"/>
<rect x="597.25" y="330.02" width="14.95" height="19.93" fill="#9ac5de"/>
<rect x="74.00" y="349.95" width="14.95" height="19.93" fill="#fffbb9"/>
<rect x="88.95" y="349.95" width="14.95" height="19.93" fill="#fff9b7"/>
<rect x="103.90" y="349.95" width="14.95" height="19.93" fill="#fff9b7"/>
<rect x="118.85" y="349.95" width="14.95" height="19.93" fill="#fff9b7"/>
<rect x="133.80" y="349.95" width="14.95" height="19.93" fill="#fff2ab"/>
<rect x="148.75" y="349.95" width="14.95" height="19.93" fill="#fff9b7"/>
<rect x="163.70" y="349.95" width="14.95" height="19.93" fill="#fff9b7"/>
<rect x="178.65" y="349.95" width="14.95" height="19.93" fill="#fff9b7"/>
<rect x="193.60" y="349.95" width="14.95" height="19.93" fill="#fff9b7"/>
<rect x="208.55" y="349.95" width="14.95" height="19.93" fill="#fff9b7"/>
<rect x="223.50" y="349.95" width="14.95" height="19.93" fill="#fff9b7"/>
<rect x="238.45" y="349.95" width="14.95" height="19.93" fill="#fff9b7"/>
<rect x="253.40" y="349.95" width="14.95" height="19.93" fill="#fff9b7"/>
<rect x="268.35" y="349.95" width="14.95" height="19.93" fill="#fff9b7"/>
<rect x="283.30" y="349.95" width="14.95" height="19.93" fill="#fff6b1"/>
<rect x="298.25" y="349.95" width="14.95" height="19.93" fill="#fff9b7"/>
<rect x="313.20" y="349.95" width="14.95" height="19.93" fill="#fff9b7"/>
<rect x="328.15" y="349.95" width="14.95" height="19.93" fill="#fff9b7"/>
<rect x="343.10" y="349.95" width="14.95" height="19.93" fill="#fff9b7"/>
<rect x="358.05" y="349.95" width="14.95" height="19.93" fill="#fff9b7"/>
<rect x="373.00" y="349.95" width="14.95" height="19.93" fill="#fff6b1"/>
<rect x="387.95" y="349.95" width="14.95" height="19.93" fill="#fff9b7"/>
<rect x="402.90" y="349.95" width="14.95" height="19.93" fill="#fff9b7"/>
<rect x="417.85" y="349.95" width="14.95" height="19.93" fill="#f8fccd"/>
<rect x="432.80" y="349.95" width="14.95" height="19.93" fill="#fff9b7"/>
<rect x="447.75" y="349.95" width="14.95" height="19.93" fill="#fffbb9"/>
<rect x="462.70" y="349.95" width="14.95" height="19.93" fill="#fbfec6"/>
<rect x="477.65" y="349.95" width="14.95" height="19.93" fill="#fffbb9"/>
<rect x="492.60" y="349.95" width="14.95" height="19.93" fill="#fffbb9"/>
<rect x="507.55" y="349.95" width="14.95" height="19.93" fill="#fffbb9"/>
<rect x="522.50" y="349.95" width="14.95" height="19.93" fill="#fff9b7"/>
<rect x="537.45" y="349.95" width="14.95" height="19.93" fill="#fff9b7"/>
<rect x="552.40" y="349.95" width="14.95" height="19.93" fill="#fff9b7"/>
<rect x="567.35" y="349.95" width="14.95" height="19.93" fill="#fff6b1"/>
<rect x="582.30" y="349.95" width="14.95" height="19.93" fill="#fff6b1"/>
<rect x="597.25" y="349.95" width="14.95" height="19.93" fill="#feeca3"/>
<rect x="74.00" y="369.88" width="14.95" height="19.93" fill="#d5ecf4"/>
<rect x="88.95" y="369.88" width="14.95" height="19.93" fill="#daeff6"/>
<rect x="103.90" y="369.88" width="14.95" height="19.93" fill="#e7f6eb"/>
<rect x="118.85" y="369.88" width="14.95" height="19.93" fill="#ebf7e5"/>
<rect x="133.80" y="369.88" width="14.95" height="19.93" fill="#ecf8e1"/>
<rect x="148.75" y="369.88" width="14.95" height="19.93" fill="#eef9de"/>
<rect x="163.70" y="369.88" width="14.95" height="19.93" fill="#eef9de"/>
<rect x="178.65" y="369.88" width="14.95" height="19.93" fill="#ebf7e5"/>
<rect x="193.60" y="369.88" width="14.95" height="19.93" fill="#eef9de"/>
<rect x="208.55" y="369.88" width="14.95" height="19.93" fill="#f8fccd"/>
<rect x="223.50" y="369.88" width="14.95" height="19.93" fill="#f8fccd"/>
<rect x="238.45" y="369.88" width="14.95" height="19.93" fill="#fbfec6"/>
<rect x="253.40" y="369.88" width="14.95" height="19.93" fill="#fff9b7"/>
<rect x="268.35" y="369.88" width="14.95" height="19.93" fill="#fffbb9"/>
<rect x="283.30" y="369.88" width="14.95" height="19.93" fill="#f9fdc9"/>
<rect x="298.25" y="369.88" width="14.95" height="19.93" fill="#fffbb9"/>
<rect x="313.20" y="369.88" width="14.95" height="19.93" fill="#fff9b7"/>
<rect x="328.15" y="369.88" width="14.95" height="19.93" fill="#feeca3"/>
<rect x="343.10" y="369.88" width="14.95" height="19.93" fill="#fffbb9"/>
<rect x="358.05" y="369.88" width="14.95" height="19.93" fill="#fff9b7"/>
<rect x="373.00" y="369.88" width="14.95" height="19.93" fill="#fffbb9"/>
<rect x="387.95" y="369.88" width="14.95" height="19.93" fill="#fff9b7"/>
<rect x="402.90" y="369.88" width="14.95" height="19.93" fill="#fff9b7"/>
<rect x="417.85" y="369.88" width="14.95" height="19.93" fill="#fff2ab"/>
<rect x="432.80" y="369.88" width="14.95" height="19.93" fill="#fffbb9"/>
<rect x="447.75" y="369.88" width="14.95" height="19.93" fill="#fff9b7"/>
<rect x="462.70" y="369.88" width="14.95" height="19.93" fill="#fff2ab"/>
<rect x="477.65" y="369.88" width="14.95" height="19.93" fill="#fbfec6"/>
<rect x="492.60" y="369.88" width="14.95" height="19.93" fill="#f8fccd"/>
<rect x="507.55" y="369.88" width="14.95" height="19.93" fill="#fff9b7"/>
<rect x="522.50" y="369.88" width="14.95" height="19.93" fill="#f4fbd4"/>
<rect x="537.45" y="369.88" width="14.95" height="19.93" fill="#eef9de"/>
<rect x="552.40" y="369.88" width="14.95" height="19.93" fill="#eef9de"/>
<rect x="567.35" y="369.88" width="14.95" height="19.93" fill="#e7f6eb"/>
<rect x="582.30" y="369.88" width="14.95" height="19.93" fill="#ebf7e5"/>
<rect x="597.25" y="369.88" width="14.95" height="19.93" fill="#e0f3f7"/>
<rect x="74.00" y="389.81" width="14.95" height="19.93" fill="#d5ecf4"/>
<rect x="88.95" y="389.81" width="14.95" height="19.93" fill="#e0f3f8"/>
<rect x="103.90" y="389.81" width="14.95" height="19.93" fill="#e0f3f8"/>
<rect x="118.85" y="389.81" width="14.95" height="19.93" fill="#e0f3f8"/>
<rect x="133.80" y="389.81" width="14.95" height="19.93" fill="#e0f3f8"/>
<rect x="148.75" y="389.81" width="14.95" height="19.93" fill="#e0f3f8"/>
<rect x="163.70" y="389.81" width="14.95" height="19.93" fill="#e0f3f8"/>
<rect x="178.65" y="389.81" width="14.95" height="19.93" fill="#e0f3f8"/>
<rect x="193.60" y="389.81" width="14.95" height="19.93" fill="#e0f3f8"/>
<rect x="208.55" y="389.81" width="14.95" height="19.93" fill="#cbe5f0"/>
<rect x="223.50" y="389.81" width="14.95" height="19.93" fill="#e0f3f8"/>
<rect x="238.45" y="389.81" width="14.95" height="19.93" fill="#e0f3f8"/>
<rect x="253.40" y="389.81" width="14.95" height="19.93" fill="#e0f3f8"/>
<rect x="268.35" y="389.81" width="14.95" height="19.93" fill="#daeff6"/>
<rect x="283.30" y="389.81" width="14.95" height="19.93" fill="#e0f3f8"/>
<rect x="298.25" y="389.81" width="14.95" height="19.93" fill="#e0f3f8"/>
<rect x="313.20" y="389.81" width="14.95" height="19.93" fill="#daeff6"/>
<rect x="328.15" y="389.81" width="14.95" height="19.93" fill="#e0f3f8"/>
<rect x="343.10" y="389.81" width="14.95" height="19.93" fill="#e0f3f8"/>
<rect x="358.05" y="389.81" width="14.95" height="19.93" fill="#daeff6"/>
<rect x="373.00" y="389.81" width="14.95" height="19.93" fill="#e0f3f8"/>
<rect x="387.95" y="389.81" width="14.95" height="19.93" fill="#e0f3f8"/>
<rect x="402.90" y="389.81" width="14.95" height="19.93" fill="#daeff6"/>
<rect x="417.85" y="389.81" width="14.95" height="19.93" fill="#e0f3f8"/>
<rect x="432.80" y="389.81" width="14.95" height="19.93" fill="#e0f3f8"/>
<rect x="447.75" y="389.81" width="14.95" height="19.93" fill="#e0f3f8"/>
<rect x="462.70" y="389.81" width="14.95" height="19.93" fill="#e0f3f8"/>
<rect x="477.65" y="389.81" width="14.95" height="19.93" fill="#d5ecf4"/>
<rect x="492.60" y="389.81" width="14.95" height="19.93" fill="#e0f3f8"/>
<rect x="507.55" y="389.81" width="14.95" height="19.93" fill="#cbe5f0"/>
<rect x="522.50" y="389.81" width="14.95" height="19.93" fill="#d5ecf4"/>
<rect x="537.45" y="389.81" width="14.95" height="19.93" fill="#c2dfed"/>
<rect x="552.40" y="389.81" width="14.95" height="19.93" fill="#e0f3f8"/>
<rect x="567.35" y="389.81" width="14.95" height="19.93" fill="#bddceb"/>
<rect x="582.30" y="389.81" width="14.95" height="19.93" fill="#e0f3f8"/>
<rect x="597.25" y="389.81" width="14.95" height="19.93" fill="#d5ecf4"/>
<rect x="74.00" y="409.74" width="14.95" height="19.93" fill="#73a1cb"/>
<rect x="88.95" y="409.74" width="14.95" height="19.93" fill="#77a6ce"/>
<rect x="103.90" y="409.74" width="14.95" height="19.93" fill="#6999c7"/>
<rect x="118.85" y="409.74" width="14.95" height="19.93" fill="#6999c7"/>
<rect x="133.80" y="409.74" width="14.95" height="19.93" fill="#73a1cb"/>
<rect x="148.75" y="409.74" width="14.95" height="19.93" fill="#6999c7"/>
<rect x="163.70" y="409.74" width="14.95" height="19.93" fill="#80afd2"/>
<rect x="178.65" y="409.74" width="14.95" height="19.93" fill="#77a6ce"/>
<rect x="193.60" y="409.74" width="14.95" height="19.93" fill="#89b8d7"/>
<rect x="208.55" y="409.74" width="14.95" height="19.93" fill="#9ac5de"/>
<rect x="223.50" y="409.74" width="14.95" height="19.93" fill="#afd3e6"/>
<rect x="238.45" y="409.74" width="14.95" height="19.93" fill="#80afd2"/>
<rect x="253.40" y="409.74" width="14.95" height="19.93" fill="#afd3e6"/>
<rect x="268.35" y="409.74" width="14.95" height="19.93" fill="#afd3e6"/>
<rect x="283.30" y="409.74" width="14.95" height="19.93" fill="#9ac5de"/>
<rect x="298.25" y="409.74" width="14.95" height="19.93" fill="#afd3e6"/>
<rect x="313.20" y="409.74" width="14.95" height="19.93" fill="#a8cee3"/>
<rect x="328.15" y="409.74" width="14.95" height="19.93" fill="#9ac5de"/>
<rect x="343.10" y="409.74" width="14.95" height="19.93" fill="#c2dfed"/>
<rect x="358.05" y="409.74" width="14.95" height="19.93" fill="#bddceb"/>
<rect x="373.00" y="409.74" width="14.95" height="19.93" fill="#b6d7e9"/>
<rect x="387.95" y="409.74" width="14.95" height="19.93" fill="#cbe5f0"/>
<rect x="402.90" y="409.74" width="14.95" height="19.93" fill="#cbe5f0"/>
<rect x="417.85" y="409.74" width="14.95" height="19.93" fill="#d5ecf4"/>
<rect x="432.80" y="409.74" width="14.95" height="19.93" fill="#eef9de"/>
<rect x="447.75" y="409.74" width="14.95" height="19.93" fill="#e3f4f2"/>
<rect x="462.70" y="409.74" width="14.95" height="19.93" fill="#e0f3f8"/>
<rect x="477.65" y="409.74" width="14.95" height="19.93" fill="#f8fccd"/>
<rect x="492.60" y="409.74" width="14.95" height="19.93" fill="#f4fbd4"/>
<rect x="507.55" y="409.74" width="14.95" height="19.93" fill="#e0f3f7"/>
<rect x="522.50" y="409.74" width="14.95" height="19.93" fill="#feeca3"/>
<rect x="537.45" y="409.74" width="14.95" height="19.93" fill="#feeca3"/>
<rect x="552.40" y="409.74" width="14.95" height="19.93" fill="#feeba0"/>
<rect x="567.35" y="409.74" width="14.95" height="19.93" fill="#fff9b7"/>
<rect x="582.30" y="409.74" width="14.95" height="19.93" fill="#fbfec6"/>
<rect x="597.25" y="409.74" width="14.95" height="19.93" fill="#fffbb9"/>
<rect x="74.00" y="429.67" width="14.95" height="19.93" fill="#a1c9e1"/>
<rect x="88.95" y="429.67" width="14.95" height="19.93" fill="#a1c9e1"/>
<rect x="103.90" y="429.67" width="14.95" height="19.93" fill="#a8cee3"/>
<rect x="118.85" y="429.67" width="14.95" height="19.93" fill="#a1c9e1"/>
<rect x="133.80" y="429.67" width="14.95" height="19.93" fill="#a1c9e1"/>
<rect x="148.75" y="429.67" width="14.95" height="19.93" fill="#a8cee3"/>
<rect x="163.70" y="429.67" width="14.95" height="19.93" fill="#a1c9e1"/>
<rect x="178.65" y="429.67" width="14.95" height="19.93" fill="#9ac5de"/>
<rect x="193.60" y="429.67" width="14.95" height="19.93" fill="#a1c9e1"/>
<rect x="208.55" y="429.67" width="14.95" height="19.93" fill="#a8cee3"/>
<rect x="223.50" y="429.67" width="14.95" height="19.93" fill="#a1c9e1"/>
<rect x="238.45" y="429.67" width="14.95" height="19.93" fill="#a8cee3"/>
<rect x="253.40" y="429.67" width="14.95" height="19.93" fill="#a1c9e1"/>
<rect x="268.35" y="429.67" width="14.95" height="19.93" fill="#a8cee3"/>
<rect x="283.30" y="429.67" width="14.95" height="19.93" fill="#a1c9e1"/>
<rect x="298.25" y="429.67" width="14.95" height="19.93" fill="#afd3e6"/>
<rect x="313.20" y="429.67" width="14.95" height="19.93" fill="#a8cee3"/>
<rect x="328.15" y="429.67" width="14.95" height="19.93" fill="#a1c9e1"/>
<rect x="343.10" y="429.67" width="14.95" height="19.93" fill="#a8cee3"/>
<rect x="358.05" y="429.67" width="14.95" height="19.93" fill="#a8cee3"/>
<rect x="373.00" y="429.67" width="14.95" height="19.93" fill="#a8cee3"/>
<rect x="387.95" y="429.67" width="14.95" height="19.93" fill="#a1c9e1"/>
<rect x="402.90" y="429.67" width="14.95" height="19.93" fill="#9ac5de"/>
<rect x="417.85" y="429.67" width="14.95" height="19.93" fill="#b6d7e9"/>
<rect x="432.80" y="429.67" width="14.95" height="19.93" fill="#a8cee3"/>
<rect x="447.75" y="429.67" width="14.95" height="19.93" fill="#a8cee3"/>
<rect x="462.70" y="429.67" width="14.95" height="19.93" fill="#9ac5de"/>
<rect x="477.65" y="429.67" width="14.95" height="19.93" fill="#a8cee3"/>
<rect x="492.60" y="429.67" width="14.95" height="19.93" fill="#a8cee3"/>
<rect x="507.55" y="429.67" width="14.95" height="19.93" fill="#c2dfed"/>
<rect x="522.50" y="429.67" width="14.95" height="19.93" fill="#fffbb9"/>
<rect x="537.45" y="429.67" width="14.95" height="19.93" fill="#f8fccd"/>
<rect x="552.40" y="429.67" width="14.95" height="19.93" fill="#f4fbd4"/>
<rect x="567.35" y="429.67" width="14.95" height="19.93" fill="#f8fccd"/>
<rect x="582.30" y="429.67" width="14.95" height="19.93" fill="#fff9b7"/>
<rect x="597.25" y="429.67" width="14.95" height="19.93" fill="#f8fccd"/>
<path d="M74.00 51.00V449.60 M88.95 51.00V449.60 M103.90 51.00V449.60 M118.85 51.00V449.60 M133.80 51.00V449.60 M148.75 51.00V449.60 M163.70 51.00V449.60 M178.65 51.00V449.60 M193.60 51.00V449.60 M208.55 51.00V449.60 M223.50 51.00V449.60 M238.45 51.00V449.60 M253.40 51.00V449.60 M268.35 51.00V449.60 M283.30 51.00V449.60 M298.25 51.00V449.60 M313.20 51.00V449.60 M328.15 51.00V449.60 M343.10 51.00V449.60 M358.05 51.00V449.60 M373.00 51.00V449.60 M387.95 51.00V449.60 M402.90 51.00V449.60 M417.85 51.00V449.60 M432.80 51.00V449.60 M447.75 51.00V449.60 M462.70 51.00V449.60 M477.65 51.00V449.60 M492.60 51.00V449.60 M507.55 51.00V449.60 M522.50 51.00V449.60 M537.45 51.00V449.60 M552.40 51.00V449.60 M567.35 51.00V449.60 M582.30 51.00V449.60 M597.25 51.00V449.60 M612.20 51.00V449.60 M74.00 51.00H612.20 M74.00 70.93H612.20 M74.00 90.86H612.20 M74.00 110.79H612.20 M74.00 130.72H612.20 M74.00 150.65H612.20 M74.00 170.58H612.20 M74.00 190.51H612.20 M74.00 210.44H612.20 M74.00 230.37H612.20 M74.00 250.30H612.20 M74.00 270.23H612.20 M74.00 290.16H612.20 M74.00 310.09H612.20 M74.00 330.02H612.20 M74.00 349.95H612.20 M74.00 369.88H612.20 M74.00 389.81H612.20 M74.00 409.74H612.20 M74.00 429.67H612.20 M74.00 449.60H612.20" stroke="#9a9a9a" stroke-width="1" fill="none"/>
<g font-family="Liberation Sans" font-weight="bold" font-style="italic" font-size="14.4" fill="#111"><text x="613.5" y="66.27">Myh7</text><text x="613.5" y="86.20">Myh9-1</text><text x="613.5" y="106.12">Myh9-2</text><text x="613.5" y="126.05">Myh9-3</text><text x="613.5" y="145.99">Myh10</text><text x="613.5" y="165.92">Myh1-1</text><text x="613.5" y="185.84">Myh1-2</text><text x="613.5" y="205.78">Myh1-3</text><text x="613.5" y="225.71">Myh1-4</text><text x="613.5" y="245.64">Myh4-1</text><text x="613.5" y="265.56">Myh4-2</text><text x="613.5" y="285.50">Myh10</text><text x="613.5" y="305.42">Myh3</text><text x="613.5" y="325.35">Myh11-1</text><text x="613.5" y="345.28">Myh2</text><text x="613.5" y="365.21">Myh9-4</text><text x="613.5" y="385.14">Myh7b</text><text x="613.5" y="405.07">Myh9-5</text><text x="613.5" y="425.00">Myh11-2</text><text x="613.5" y="444.94">Myh14</text></g>
<defs><linearGradient id="cb" x1="0" y1="0" x2="0" y2="1"><stop offset="0.000" stop-color="#d73027"/><stop offset="0.167" stop-color="#fc8d59"/><stop offset="0.333" stop-color="#fee090"/><stop offset="0.500" stop-color="#ffffbf"/><stop offset="0.667" stop-color="#e0f3f8"/><stop offset="0.833" stop-color="#91bfdb"/><stop offset="1.000" stop-color="#4575b4"/></linearGradient></defs><rect x="670.7" y="57.6" width="10.8" height="112.2" fill="url(#cb)"/>
<g font-family="Liberation Sans" font-weight="bold" font-size="13.4" fill="#111"><text x="688.2" y="70.60">12</text><text x="688.2" y="90.20">10</text><text x="691.2" y="109.80">8</text><text x="691.2" y="129.40">6</text><text x="691.2" y="149.00">4</text><text x="691.2" y="168.60">2</text></g>
<path d="M76.00 452.8H116.85 M120.85 452.8H161.70 M165.70 452.8H206.55 M210.55 452.8H251.40 M255.40 452.8H296.25 M300.25 452.8H341.10 M345.10 452.8H385.95 M389.95 452.8H430.80 M434.80 452.8H475.65 M479.65 452.8H520.50 M524.50 452.8H565.35 M569.35 452.8H610.20" stroke="#444" stroke-width="1.6" fill="none"/>
<g font-family="Liberation Sans" font-weight="bold" font-size="15" fill="#111"><text transform="translate(84.00 466.30) rotate(20)">E10.5</text><text transform="translate(128.85 466.30) rotate(20)">E11.5</text><text transform="translate(173.70 466.30) rotate(20)">E12.5</text><text transform="translate(218.55 466.30) rotate(20)">E13.5</text><text transform="translate(263.40 466.30) rotate(20)">E14.5</text><text transform="translate(308.25 466.30) rotate(20)">E15.5</text><text transform="translate(353.10 466.30) rotate(20)">E16.5</text><text transform="translate(397.95 466.30) rotate(20)">E17.5</text><text transform="translate(442.80 466.30) rotate(20)">E18.5</text><text transform="translate(487.65 466.30) rotate(20)">E19.5</text><text transform="translate(532.50 466.30) rotate(20)">Ault</text><text transform="translate(577.35 466.30) rotate(20)">Old</text></g>
<defs>
  <filter id="blur2" x="-20%" y="-20%" width="140%" height="140%"><feGaussianBlur stdDeviation="2"/></filter>
  <filter id="rough" x="-10%" y="-10%" width="120%" height="120%">
    <feTurbulence type="fractalNoise" baseFrequency="0.04" numOctaves="1" seed="3" result="dn0"/>
    <feDisplacementMap in="SourceGraphic" in2="dn0" scale="12" xChannelSelector="R" yChannelSelector="G" result="d0"/>
    <feTurbulence type="fractalNoise" baseFrequency="0.13" numOctaves="2" seed="1" result="dn"/>
    <feDisplacementMap in="d0" in2="dn" scale="8" xChannelSelector="R" yChannelSelector="G"/>
  </filter>
  <filter id="rough2" x="-10%" y="-10%" width="120%" height="120%">
    <feTurbulence type="fractalNoise" baseFrequency="0.13" numOctaves="2" seed="1" result="dn"/>
    <feDisplacementMap in="SourceGraphic" in2="dn" scale="8" xChannelSelector="R" yChannelSelector="G"/>
  </filter>
<radialGradient id="gR" cx="0.5" cy="0.5" r="0.55" fx="0.35" fy="0.3"><stop offset="0" stop-color="#ff8c68"/><stop offset="0.45" stop-color="#dc4228"/><stop offset="1" stop-color="#4a0a06"/></radialGradient><radialGradient id="gG" cx="0.5" cy="0.5" r="0.55" fx="0.35" fy="0.3"><stop offset="0" stop-color="#98f4a0"/><stop offset="0.45" stop-color="#3cbc50"/><stop offset="1" stop-color="#0c4014"/></radialGradient><radialGradient id="gL" cx="0.5" cy="0.5" r="0.55" fx="0.35" fy="0.3"><stop offset="0" stop-color="#d0d0fa"/><stop offset="0.45" stop-color="#7878cc"/><stop offset="1" stop-color="#22224a"/></radialGradient><radialGradient id="gY" cx="0.5" cy="0.5" r="0.55" fx="0.35" fy="0.3"><stop offset="0" stop-color="#ececec"/><stop offset="0.45" stop-color="#a6a6ac"/><stop offset="1" stop-color="#2c2c34"/></radialGradient><pattern id="pR" width="48" height="48" patternUnits="userSpaceOnUse"><rect width="48" height="48" fill="#5a1008"/><g fill="url(#gR)"><circle cx="14.2" cy="5.6" r="2"/><circle cx="35.7" cy="4" r="1.9"/><circle cx="19.4" cy="7" r="1.9"/><circle cx="43.2" cy="9.6" r="2.4"/><circle cx="13.2" cy="37.6" r="2.3"/><circle cx="4.9" cy="3.1" r="1.6"/><circle cx="11.4" cy="32" r="1.5"/><circle cx="13.8" cy="11.3" r="2"/><circle cx="27.2" cy="10" r="1.9"/><circle cx="12.8" cy="7.4" r="2.6"/><circle cx="33" cy="40.2" r="2.3"/><circle cx="6.8" cy="28.6" r="2.1"/><circle cx="14.9" cy="39.3" r="2"/><circle cx="1.7" cy="49.1" r="2.3"/><circle cx="4.4" cy="16.4" r="2.1"/><circle cx="14.8" cy="21.6" r="2.4"/><circle cx="49.7" cy="49.1" r="2.3"/><circle cx="37.5" cy="43.7" r="1.6"/><circle cx="36.8" cy="44.9" r="2"/><circle cx="14" cy="44.1" r="1.6"/><circle cx="27.5" cy="48.6" r="1.7"/><circle cx="28.5" cy="31" r="2.2"/><circle cx="23.8" cy="-1.8" r="2.5"/><circle cx="33.4" cy="37.9" r="2.1"/><circle cx="-1.6" cy="42.9" r="1.8"/><circle cx="35.1" cy="8.2" r="2.3"/><circle cx="29.3" cy="38.1" r="1.5"/><circle cx="23.6" cy="44.9" r="1.5"/><circle cx="12.2" cy="13.3" r="1.6"/><circle cx="1.4" cy="22.3" r="2.5"/><circle cx="23.6" cy="13.7" r="2"/><circle cx="12.6" cy="39.8" r="2.2"/><circle cx="13.4" cy="45.8" r="2.2"/><circle cx="22.6" cy="10.9" r="1.5"/><circle cx="41.3" cy="49.8" r="2.5"/><circle cx="37.5" cy="20.3" r="2.6"/><circle cx="10.8" cy="3" r="2.1"/><circle cx="-1.5" cy="28.6" r="1.5"/><circle cx="14.4" cy="26.5" r="2.4"/><circle cx="39" cy="30.8" r="1.8"/><circle cx="38.9" cy="0.2" r="2.3"/><circle cx="42.1" cy="23.1" r="1.8"/><circle cx="39.3" cy="38" r="2.2"/><circle cx="33.3" cy="31.9" r="2.3"/><circle cx="21.2" cy="22.7" r="1.5"/><circle cx="41.8" cy="10.1" r="1.7"/><circle cx="32.6" cy="25.1" r="1.7"/><circle cx="2.7" cy="44" r="1.4"/><circle cx="23.1" cy="36.5" r="1.4"/><circle cx="21.8" cy="48" r="2.4"/><circle cx="25.4" cy="18.7" r="2.5"/><circle cx="29.1" cy="46.4" r="1.6"/><circle cx="14.2" cy="16.2" r="2.4"/><circle cx="7.7" cy="38.3" r="1.6"/><circle cx="9.7" cy="1.9" r="2.5"/><circle cx="45.9" cy="24.9" r="2"/><circle cx="-0.8" cy="40.3" r="2.4"/><circle cx="9.8" cy="45.2" r="2.2"/><circle cx="45" cy="-2.4" r="2.6"/><circle cx="49.4" cy="22.3" r="2.5"/><circle cx="31" cy="20.7" r="2.6"/><circle cx="15.1" cy="5.2" r="2.1"/><circle cx="35.1" cy="45.6" r="2.2"/><circle cx="34.4" cy="3.5" r="2.3"/><circle cx="37" cy="20.1" r="2"/><circle cx="-0.8" cy="41.9" r="1.7"/><circle cx="37.8" cy="17.6" r="2.1"/><circle cx="43.4" cy="14.5" r="1.7"/><circle cx="26.6" cy="34.3" r="1.8"/><circle cx="39.2" cy="31.5" r="2.5"/><circle cx="34.9" cy="33.7" r="1.7"/><circle cx="35.8" cy="28.4" r="1.4"/><circle cx="27.9" cy="31.9" r="1.9"/><circle cx="-0.3" cy="10.4" r="1.9"/><circle cx="45.9" cy="-1.5" r="2.1"/><circle cx="49.2" cy="11.1" r="1.5"/><circle cx="12.6" cy="42.1" r="1.9"/><circle cx="10.3" cy="48.8" r="2"/><circle cx="26.1" cy="18.9" r="1.4"/><circle cx="42.6" cy="10.2" r="1.8"/><circle cx="6.7" cy="30" r="1.8"/><circle cx="48.4" cy="2.2" r="1.6"/><circle cx="14" cy="-1.3" r="1.9"/><circle cx="22.6" cy="45.4" r="1.5"/><circle cx="30" cy="34.8" r="2.5"/><circle cx="39.9" cy="31.1" r="2.4"/><circle cx="46.2" cy="25.9" r="2.2"/><circle cx="47.5" cy="24.9" r="1.8"/><circle cx="26.2" cy="16.3" r="2.1"/><circle cx="1.7" cy="29.5" r="1.5"/><circle cx="19.3" cy="25.5" r="1.5"/><circle cx="22.5" cy="11.8" r="2.1"/><circle cx="22" cy="3.5" r="1.9"/><circle cx="12.5" cy="-0.9" r="2"/><circle cx="1.7" cy="1.1" r="2.3"/><circle cx="23.3" cy="36.9" r="2.2"/><circle cx="25.4" cy="22.3" r="1.8"/><circle cx="35.2" cy="34.5" r="1.6"/><circle cx="32.1" cy="14" r="2.2"/><circle cx="10.8" cy="5.6" r="1.8"/><circle cx="-0.1" cy="33.7" r="1.5"/><circle cx="45.2" cy="35.5" r="2.5"/><circle cx="28.4" cy="27.5" r="2.3"/><circle cx="-2.1" cy="46.5" r="2.1"/><circle cx="-1.1" cy="1.6" r="2.1"/><circle cx="-0.8" cy="39.1" r="2.5"/><circle cx="27.6" cy="35.6" r="2.5"/><circle cx="4.2" cy="37.1" r="2.4"/><circle cx="26.2" cy="35.1" r="1.6"/><circle cx="17.4" cy="33.8" r="1.7"/><circle cx="19.5" cy="13.4" r="1.9"/><circle cx="33.6" cy="2.3" r="1.6"/><circle cx="14.5" cy="8" r="2.5"/><circle cx="38.9" cy="48.2" r="2.3"/><circle cx="1.5" cy="44.4" r="1.8"/><circle cx="19.3" cy="46.7" r="1.8"/><circle cx="24.9" cy="2.4" r="1.9"/><circle cx="5.7" cy="36.5" r="1.8"/><circle cx="41.3" cy="1.8" r="2.5"/><circle cx="34.6" cy="49.3" r="1.6"/><circle cx="4.5" cy="3.4" r="2.5"/><circle cx="17.8" cy="25.4" r="2.3"/><circle cx="44.1" cy="16.3" r="2.5"/><circle cx="6.9" cy="-1.6" r="1.7"/><circle cx="22.9" cy="4.8" r="1.6"/><circle cx="11.8" cy="4" r="1.9"/><circle cx="50.6" cy="10.5" r="2.6"/><circle cx="11" cy="33.4" r="2.4"/><circle cx="11.5" cy="32.3" r="2.5"/><circle cx="2.4" cy="6.2" r="1.8"/><circle cx="47.2" cy="40.3" r="2.4"/><circle cx="5.5" cy="39.9" r="1.8"/><circle cx="21.4" cy="45" r="2.4"/><circle cx="39.8" cy="16.8" r="2.4"/><circle cx="15.9" cy="48.6" r="2.1"/><circle cx="-0.7" cy="26" r="1.9"/><circle cx="2.6" cy="10.5" r="2.6"/><circle cx="39.2" cy="31.1" r="2.4"/><circle cx="-1.8" cy="25.9" r="2.2"/><circle cx="21.2" cy="31.2" r="1.7"/><circle cx="2.9" cy="4.2" r="1.8"/><circle cx="49.3" cy="15" r="1.9"/><circle cx="25.6" cy="16.1" r="1.8"/><circle cx="37.4" cy="20.9" r="2.1"/><circle cx="20" cy="20.4" r="2"/><circle cx="15.9" cy="0.6" r="2.1"/><circle cx="43.9" cy="18.2" r="2.6"/><circle cx="-2.2" cy="9.4" r="2.3"/><circle cx="49.2" cy="34.7" r="2.6"/><circle cx="10.3" cy="0.8" r="2"/><circle cx="35" cy="7.8" r="1.6"/><circle cx="38.3" cy="17.4" r="2.1"/><circle cx="13.1" cy="37.5" r="2.4"/><circle cx="29.3" cy="19.9" r="1.6"/><circle cx="18.3" cy="13.9" r="2"/><circle cx="48.3" cy="2.9" r="2.3"/><circle cx="31" cy="29" r="2.3"/><circle cx="8.5" cy="3.8" r="1.6"/><circle cx="5.7" cy="15.2" r="2.5"/><circle cx="36" cy="24.8" r="1.6"/><circle cx="9.7" cy="49.9" r="2.5"/><circle cx="19.9" cy="15.3" r="2.6"/><circle cx="3.7" cy="21.5" r="2.3"/><circle cx="17" cy="35.4" r="2.5"/><circle cx="6.6" cy="16.8" r="2"/><circle cx="8.1" cy="4.7" r="2.3"/><circle cx="32.2" cy="-2.1" r="2.5"/><circle cx="49.5" cy="44.4" r="1.8"/><circle cx="23.1" cy="33.9" r="1.4"/><circle cx="14.1" cy="37.5" r="2.4"/><circle cx="1.3" cy="15" r="1.9"/><circle cx="13.4" cy="-2.2" r="2.2"/><circle cx="-0.5" cy="24.9" r="1.8"/><circle cx="1.5" cy="5.5" r="2.1"/><circle cx="24" cy="49.8" r="1.9"/><circle cx="45.9" cy="46.5" r="2.1"/><circle cx="44.9" cy="37.5" r="1.7"/><circle cx="2.9" cy="12.3" r="1.9"/><circle cx="23.8" cy="46.2" r="2.5"/><circle cx="12.8" cy="29.9" r="2.5"/><circle cx="33.1" cy="-0.2" r="1.6"/><circle cx="12" cy="32.2" r="2"/><circle cx="17.3" cy="37.7" r="2.3"/><circle cx="7.5" cy="4.5" r="1.6"/><circle cx="0.3" cy="2.9" r="2.3"/><circle cx="45.7" cy="34.2" r="1.6"/><circle cx="29.7" cy="19.2" r="1.6"/><circle cx="7.3" cy="24.9" r="2.6"/><circle cx="1.2" cy="11.1" r="1.5"/><circle cx="29.6" cy="5" r="2.3"/><circle cx="38.2" cy="1.4" r="2.3"/><circle cx="16.6" cy="1" r="1.8"/><circle cx="39.9" cy="23.5" r="1.4"/><circle cx="27" cy="17.1" r="2.3"/><circle cx="25.5" cy="8.2" r="2.3"/><circle cx="29.1" cy="-1.6" r="1.6"/><circle cx="7.4" cy="7.6" r="1.8"/><circle cx="34.6" cy="1.3" r="1.6"/><circle cx="0.5" cy="24.6" r="2.1"/><circle cx="19.5" cy="11.4" r="2.1"/><circle cx="6" cy="28.5" r="1.7"/><circle cx="48.5" cy="24.6" r="2.1"/><circle cx="33.7" cy="4.3" r="1.5"/><circle cx="8.9" cy="20.6" r="1.7"/><circle cx="34" cy="30.3" r="2"/><circle cx="21.8" cy="-0" r="2.4"/><circle cx="17.3" cy="0.8" r="1.7"/><circle cx="14" cy="46.7" r="1.9"/><circle cx="5.9" cy="29.8" r="1.9"/><circle cx="1.2" cy="34.7" r="2.6"/><circle cx="8" cy="40.2" r="2.5"/><circle cx="14.1" cy="45.4" r="2.2"/><circle cx="40.1" cy="45.9" r="1.8"/><circle cx="46.1" cy="43.9" r="2.1"/><circle cx="20.2" cy="15.1" r="2.3"/><circle cx="41.3" cy="45.6" r="2.1"/><circle cx="46.7" cy="31.9" r="2.4"/><circle cx="32.7" cy="10.7" r="1.5"/><circle cx="32" cy="5.9" r="1.6"/><circle cx="43.1" cy="42.5" r="1.6"/><circle cx="18.7" cy="30.2" r="1.7"/><circle cx="12.6" cy="26.5" r="1.7"/><circle cx="0.4" cy="2.2" r="1.6"/><circle cx="47.4" cy="46.1" r="2.2"/><circle cx="47.2" cy="39.1" r="2.5"/><circle cx="33.1" cy="47.8" r="1.6"/><circle cx="46.5" cy="28.6" r="1.5"/><circle cx="46" cy="39.3" r="1.9"/><circle cx="48.6" cy="25.6" r="1.7"/><circle cx="17.3" cy="8" r="1.6"/><circle cx="10.3" cy="13.3" r="1.6"/><circle cx="29.9" cy="37.2" r="2.2"/><circle cx="37.4" cy="20.5" r="2.1"/><circle cx="20.8" cy="40.9" r="2"/><circle cx="36" cy="40.6" r="1.4"/><circle cx="2.6" cy="7.2" r="2.5"/><circle cx="40.8" cy="31" r="2.5"/><circle cx="15.9" cy="7.4" r="2.1"/><circle cx="47.9" cy="33.7" r="1.5"/><circle cx="27.5" cy="0.6" r="1.7"/><circle cx="18" cy="20.7" r="1.7"/><circle cx="35" cy="23" r="1.7"/><circle cx="46.4" cy="42.9" r="1.8"/><circle cx="6.8" cy="30.2" r="2.5"/><circle cx="0.6" cy="25.6" r="1.7"/><circle cx="6.9" cy="46.4" r="1.7"/><circle cx="16.9" cy="42.9" r="1.4"/><circle cx="42.6" cy="26.2" r="1.4"/><circle cx="22.1" cy="20.8" r="1.9"/><circle cx="36.5" cy="27.6" r="1.9"/><circle cx="45" cy="33" r="2.2"/><circle cx="26.1" cy="18" r="1.5"/><circle cx="15.2" cy="23.1" r="2.2"/><circle cx="39.7" cy="34.9" r="1.5"/><circle cx="29.6" cy="6.1" r="1.4"/><circle cx="11.4" cy="43.4" r="1.4"/><circle cx="0.9" cy="39.8" r="2.6"/><circle cx="18" cy="2.7" r="2.2"/><circle cx="44.6" cy="45.2" r="1.8"/><circle cx="43" cy="11.5" r="2.6"/><circle cx="36.3" cy="42.8" r="1.6"/><circle cx="24" cy="1.8" r="1.9"/><circle cx="14.7" cy="44.6" r="1.7"/><circle cx="29.9" cy="2.1" r="1.5"/><circle cx="28.7" cy="6.5" r="1.7"/><circle cx="11.3" cy="17.8" r="2.3"/><circle cx="27.9" cy="36.5" r="2.3"/><circle cx="-1.3" cy="31.9" r="2.4"/><circle cx="14.7" cy="2.5" r="1.4"/><circle cx="37.8" cy="5.1" r="1.9"/><circle cx="40.9" cy="9.4" r="1.8"/><circle cx="11.3" cy="16" r="2.1"/><circle cx="6.4" cy="15.2" r="1.6"/><circle cx="15" cy="22.5" r="1.7"/><circle cx="2.7" cy="-1.2" r="1.4"/><circle cx="18.3" cy="29.4" r="2.1"/><circle cx="40.4" cy="10.5" r="2.2"/><circle cx="7.2" cy="40.5" r="1.8"/><circle cx="23.7" cy="40.2" r="1.6"/><circle cx="16.7" cy="18.5" r="1.6"/><circle cx="44.2" cy="45" r="1.4"/><circle cx="-0.6" cy="-1.9" r="2.2"/><circle cx="2.3" cy="-0.6" r="2"/><circle cx="39.1" cy="20.1" r="1.5"/><circle cx="33.3" cy="20.8" r="1.7"/><circle cx="22" cy="18.4" r="2"/><circle cx="18.5" cy="42.3" r="1.6"/><circle cx="3.5" cy="36.5" r="2.3"/><circle cx="24.4" cy="2.5" r="1.9"/><circle cx="18" cy="22" r="2.2"/><circle cx="-1.2" cy="21.8" r="2"/><circle cx="18.2" cy="3.5" r="1.5"/><circle cx="8.6" cy="34.2" r="2.2"/><circle cx="12.1" cy="21.9" r="2.5"/><circle cx="32.2" cy="45.9" r="2.5"/><circle cx="44.2" cy="28.7" r="2.4"/><circle cx="11.6" cy="27.3" r="1.7"/><circle cx="14.1" cy="29.2" r="2"/><circle cx="29.3" cy="10" r="2"/><circle cx="47.3" cy="26" r="1.9"/><circle cx="36.2" cy="17.9" r="2.3"/><circle cx="35.3" cy="39.2" r="2.4"/><circle cx="46.9" cy="1.6" r="2.1"/><circle cx="43.2" cy="43.7" r="2.1"/><circle cx="23" cy="26.4" r="2"/><circle cx="15" cy="6.2" r="1.5"/><circle cx="16.7" cy="30.9" r="2.3"/><circle cx="13.4" cy="44" r="2.3"/><circle cx="19" cy="4.7" r="1.4"/><circle cx="8" cy="30.4" r="2.3"/><circle cx="26.7" cy="43" r="2.2"/><circle cx="11.6" cy="16.9" r="1.7"/><circle cx="32.9" cy="30.3" r="1.5"/><circle cx="-1.1" cy="49.6" r="2.1"/><circle cx="27.9" cy="48.6" r="2.1"/><circle cx="-2.1" cy="-1.5" r="2.1"/><circle cx="9.3" cy="1.7" r="2"/><circle cx="19.7" cy="2.2" r="2.1"/><circle cx="29.9" cy="38.4" r="1.9"/><circle cx="28.7" cy="18" r="2.2"/><circle cx="27.7" cy="11.8" r="1.5"/><circle cx="23.4" cy="27.4" r="1.9"/><circle cx="26.2" cy="15" r="1.8"/><circle cx="22.6" cy="42.7" r="2.1"/><circle cx="41.8" cy="33" r="2.6"/><circle cx="2.3" cy="47.4" r="2"/><circle cx="32.4" cy="13.7" r="1.5"/><circle cx="5.2" cy="27.2" r="2.1"/><circle cx="30.9" cy="18" r="1.8"/><circle cx="4.1" cy="32.1" r="1.5"/><circle cx="39.8" cy="3.2" r="2.4"/><circle cx="-1.9" cy="43.9" r="2.1"/><circle cx="22.9" cy="33.2" r="2.3"/><circle cx="19.3" cy="-1.3" r="1.8"/><circle cx="11.1" cy="20.6" r="1.8"/><circle cx="23.1" cy="42.3" r="1.9"/><circle cx="17.3" cy="48.8" r="1.7"/><circle cx="15.6" cy="32.8" r="2.4"/><circle cx="38.2" cy="49.4" r="2.3"/><circle cx="29.9" cy="35.6" r="2.4"/><circle cx="28.8" cy="23.5" r="2.5"/><circle cx="6.4" cy="20.7" r="1.8"/><circle cx="39" cy="18.4" r="1.6"/><circle cx="43.8" cy="18.5" r="1.9"/><circle cx="43.7" cy="26.6" r="2.1"/><circle cx="11.7" cy="2.4" r="1.9"/><circle cx="47.4" cy="-1.9" r="2.2"/><circle cx="39" cy="3.3" r="1.7"/><circle cx="49.7" cy="1.1" r="2.3"/><circle cx="13" cy="4.6" r="2"/><circle cx="5.2" cy="35.9" r="2.4"/><circle cx="3.7" cy="4.2" r="1.8"/><circle cx="8.9" cy="18.7" r="1.8"/><circle cx="21.6" cy="31.4" r="2.5"/><circle cx="7.3" cy="30.3" r="2"/><circle cx="36.7" cy="26.7" r="1.4"/><circle cx="17" cy="25.2" r="2.3"/><circle cx="0.2" cy="32.5" r="1.8"/><circle cx="39.7" cy="21.9" r="1.9"/><circle cx="29" cy="8.8" r="1.6"/><circle cx="19.8" cy="42" r="2.4"/><circle cx="45.8" cy="9.4" r="2.3"/><circle cx="48.9" cy="39.8" r="2.6"/><circle cx="46.8" cy="21.8" r="2"/><circle cx="13" cy="22.6" r="1.7"/><circle cx="33.3" cy="32.2" r="2"/><circle cx="12.5" cy="47.1" r="2"/><circle cx="39.9" cy="42.2" r="2.3"/><circle cx="30" cy="46.3" r="1.5"/><circle cx="13.7" cy="17.9" r="1.5"/><circle cx="45" cy="45.6" r="2.6"/><circle cx="22.9" cy="33.8" r="1.9"/><circle cx="22.9" cy="27.9" r="2.6"/><circle cx="46.6" cy="8.6" r="2"/><circle cx="-0.6" cy="46.1" r="2.2"/><circle cx="-1.4" cy="8.6" r="2"/><circle cx="49.5" cy="5.5" r="2.1"/><circle cx="47.2" cy="41.9" r="1.7"/><circle cx="3.1" cy="14.5" r="2.1"/><circle cx="44.8" cy="4.4" r="1.8"/><circle cx="43.3" cy="31" r="2.2"/><circle cx="46.9" cy="49.6" r="2.1"/><circle cx="34.2" cy="44.4" r="2.5"/><circle cx="47.7" cy="10.4" r="1.9"/><circle cx="48.2" cy="32.5" r="1.8"/><circle cx="3.2" cy="8.1" r="1.7"/><circle cx="31.2" cy="43.2" r="1.5"/><circle cx="24" cy="16.2" r="1.5"/><circle cx="18.7" cy="8.6" r="2.2"/><circle cx="20.6" cy="22.3" r="1.5"/><circle cx="16.6" cy="49" r="1.8"/><circle cx="2.7" cy="46.8" r="1.4"/><circle cx="18.6" cy="5.2" r="2.2"/><circle cx="27.9" cy="0.6" r="2.1"/><circle cx="35" cy="2.9" r="2"/><circle cx="9.3" cy="49.7" r="2"/></g></pattern><pattern id="pG" width="48" height="48" patternUnits="userSpaceOnUse"><rect width="48" height="48" fill="#104016"/><g fill="url(#gG)"><circle cx="44.4" cy="15.3" r="1.7"/><circle cx="3.5" cy="42.8" r="2.5"/><circle cx="40.6" cy="-0.5" r="2.3"/><circle cx="9.4" cy="49.6" r="2"/><circle cx="-1.3" cy="3.8" r="1.5"/><circle cx="20.7" cy="31.2" r="1.9"/><circle cx="30.2" cy="37.4" r="2.5"/><circle cx="-0.2" cy="27.1" r="1.9"/><circle cx="30.3" cy="29.7" r="2.4"/><circle cx="29.3" cy="40.4" r="2.5"/><circle cx="23.4" cy="17.6" r="2.6"/><circle cx="10.6" cy="21.1" r="1.8"/><circle cx="15.6" cy="39.8" r="2"/><circle cx="47.9" cy="17.8" r="1.9"/><circle cx="43.6" cy="21.1" r="1.5"/><circle cx="23.5" cy="38.7" r="1.5"/><circle cx="0.4" cy="-0.5" r="1.6"/><circle cx="12.8" cy="7.8" r="1.8"/><circle cx="36.4" cy="15.7" r="1.5"/><circle cx="45.2" cy="33" r="2.5"/><circle cx="2.7" cy="35.8" r="2.3"/><circle cx="25.9" cy="38.1" r="1.7"/><circle cx="9.4" cy="1.6" r="2"/><circle cx="14.9" cy="1.7" r="1.9"/><circle cx="16.4" cy="2.1" r="2.3"/><circle cx="39.6" cy="43.2" r="2.1"/><circle cx="25.2" cy="9.7" r="2.2"/><circle cx="45.3" cy="10.5" r="2.2"/><circle cx="34" cy="20.8" r="2.4"/><circle cx="-0.7" cy="45.1" r="1.5"/><circle cx="38.8" cy="18.6" r="2.4"/><circle cx="48.2" cy="7.1" r="2.3"/><circle cx="26.3" cy="30.3" r="2.3"/><circle cx="10.6" cy="-1.5" r="2.1"/><circle cx="3" cy="1" r="1.8"/><circle cx="39.9" cy="28.3" r="1.5"/><circle cx="47" cy="31.6" r="2.4"/><circle cx="3.9" cy="12.5" r="2.4"/><circle cx="7.1" cy="15.8" r="2.2"/><circle cx="40.4" cy="43.2" r="2.3"/><circle cx="1.1" cy="32.2" r="2.3"/><circle cx="45.4" cy="2.2" r="1.8"/><circle cx="11.2" cy="19.9" r="1.7"/><circle cx="43.6" cy="-1.5" r="1.5"/><circle cx="-1" cy="19.5" r="2.5"/><circle cx="-0.2" cy="38.4" r="2.6"/><circle cx="22.4" cy="22.2" r="1.4"/><circle cx="18.2" cy="40.2" r="2.4"/><circle cx="17.8" cy="3.4" r="2.5"/><circle cx="38.8" cy="3.2" r="1.9"/><circle cx="40.5" cy="48.9" r="1.6"/><circle cx="10.8" cy="44.7" r="2.4"/><circle cx="28.5" cy="11.2" r="1.5"/><circle cx="5.2" cy="33.3" r="1.5"/><circle cx="32.7" cy="22.8" r="2.4"/><circle cx="32.2" cy="22.5" r="1.5"/><circle cx="37.7" cy="1.4" r="2.4"/><circle cx="49.8" cy="37.7" r="1.9"/><circle cx="33.9" cy="45.5" r="2.3"/><circle cx="34.7" cy="17.7" r="2.5"/><circle cx="-0.4" cy="5.3" r="2.1"/><circle cx="0.4" cy="47.5" r="1.6"/><circle cx="49.1" cy="29.6" r="1.9"/><circle cx="30.7" cy="9.7" r="2.2"/><circle cx="14.9" cy="49.7" r="1.9"/><circle cx="0.1" cy="14.1" r="2.5"/><circle cx="31.1" cy="27.5" r="2.4"/><circle cx="32.1" cy="1.3" r="1.5"/><circle cx="42.6" cy="32.2" r="1.5"/><circle cx="23.2" cy="47.8" r="1.9"/><circle cx="26.3" cy="12.2" r="2.6"/><circle cx="14.2" cy="49.3" r="2.2"/><circle cx="11.8" cy="48.4" r="2.6"/><circle cx="7.8" cy="40.3" r="2.2"/><circle cx="15.3" cy="33.5" r="1.6"/><circle cx="43.6" cy="46.5" r="1.5"/><circle cx="5.5" cy="19.3" r="1.9"/><circle cx="3.1" cy="15.9" r="1.6"/><circle cx="4" cy="31.4" r="1.8"/><circle cx="43.1" cy="43.5" r="1.7"/><circle cx="21.4" cy="6.7" r="1.8"/><circle cx="44.7" cy="28.6" r="2.5"/><circle cx="8.3" cy="37.8" r="2.1"/><circle cx="44.3" cy="27.2" r="2.3"/><circle cx="40.4" cy="28" r="1.9"/><circle cx="37.7" cy="49.4" r="2.4"/><circle cx="30.8" cy="24.4" r="1.9"/><circle cx="48.7" cy="0.9" r="2.3"/><circle cx="2.7" cy="21.1" r="2.4"/><circle cx="9.2" cy="32.3" r="2"/><circle cx="47.6" cy="48.7" r="1.4"/><circle cx="11.6" cy="-1.8" r="2.4"/><circle cx="21.2" cy="11.8" r="2.6"/><circle cx="-1" cy="29.5" r="2.3"/><circle cx="11.2" cy="20.3" r="2.4"/><circle cx="20.9" cy="15.1" r="2.3"/><circle cx="9.8" cy="44.2" r="2.6"/><circle cx="-0.8" cy="48.5" r="2.2"/><circle cx="30.2" cy="8.7" r="2.5"/><circle cx="36.5" cy="8.1" r="2.1"/><circle cx="40.7" cy="44.4" r="1.6"/><circle cx="38.7" cy="50" r="2.5"/><circle cx="16.7" cy="40.7" r="1.4"/><circle cx="21.2" cy="8.8" r="1.5"/><circle cx="21.8" cy="34.5" r="1.8"/><circle cx="23.6" cy="30.3" r="1.7"/><circle cx="49.7" cy="13.7" r="1.9"/><circle cx="32.6" cy="6.7" r="1.5"/><circle cx="-1.4" cy="24.8" r="2.5"/><circle cx="18.8" cy="4.2" r="1.5"/><circle cx="41.6" cy="2.2" r="2.4"/><circle cx="45.3" cy="38.7" r="1.9"/><circle cx="46.6" cy="7.7" r="2.2"/><circle cx="28.1" cy="34.7" r="1.7"/><circle cx="23.3" cy="17.6" r="2.2"/><circle cx="43.1" cy="34.9" r="2.5"/><circle cx="4.7" cy="23.3" r="2.2"/><circle cx="49.7" cy="-1.6" r="2.2"/><circle cx="12.2" cy="28.6" r="2.1"/><circle cx="18.9" cy="-0.8" r="1.7"/><circle cx="3.2" cy="13.5" r="2.2"/><circle cx="32.7" cy="4.1" r="2"/><circle cx="24.1" cy="8.4" r="1.9"/><circle cx="44.3" cy="14.2" r="1.8"/><circle cx="39.6" cy="35.3" r="2.3"/><circle cx="47.5" cy="28.3" r="1.9"/><circle cx="16.8" cy="36.9" r="1.5"/><circle cx="32" cy="39.3" r="2.2"/><circle cx="7.9" cy="7.7" r="2.3"/><circle cx="23.8" cy="23.7" r="1.9"/><circle cx="30" cy="20.3" r="2.6"/><circle cx="42.7" cy="36.7" r="2.4"/><circle cx="48.8" cy="23.1" r="1.5"/><circle cx="4.7" cy="25" r="1.5"/><circle cx="19.5" cy="33.2" r="2.5"/><circle cx="15.1" cy="26.9" r="1.6"/><circle cx="40.3" cy="14.9" r="1.8"/><circle cx="22.2" cy="32.1" r="1.8"/><circle cx="24.7" cy="37.3" r="2"/><circle cx="32.4" cy="0.7" r="2.2"/><circle cx="13.1" cy="3.6" r="1.5"/><circle cx="47.8" cy="38.4" r="2.6"/><circle cx="17.7" cy="47.9" r="1.6"/><circle cx="26.3" cy="-0.6" r="1.9"/><circle cx="15.4" cy="31.5" r="1.7"/><circle cx="33.7" cy="8.6" r="1.9"/><circle cx="28.4" cy="30" r="1.4"/><circle cx="44.3" cy="21.2" r="1.4"/><circle cx="46.2" cy="41.6" r="1.7"/><circle cx="29.5" cy="40.2" r="2.1"/><circle cx="29.5" cy="0.3" r="2.2"/><circle cx="40.4" cy="32.5" r="2.3"/><circle cx="48.1" cy="14.1" r="2.5"/><circle cx="46.6" cy="24.8" r="2.5"/><circle cx="28.3" cy="33.6" r="1.5"/><circle cx="21" cy="40.1" r="1.9"/><circle cx="25.5" cy="30.2" r="1.5"/><circle cx="30.9" cy="43.3" r="1.4"/><circle cx="16.3" cy="10.8" r="1.6"/><circle cx="47.2" cy="39.5" r="2"/><circle cx="17" cy="12.9" r="1.7"/><circle cx="4.2" cy="21" r="1.7"/><circle cx="25" cy="9.7" r="2.3"/><circle cx="-0.4" cy="48.7" r="1.4"/><circle cx="7.1" cy="46.1" r="1.7"/><circle cx="7.2" cy="42.4" r="1.7"/><circle cx="17.7" cy="40.1" r="2"/><circle cx="3" cy="49" r="1.8"/><circle cx="17.8" cy="37.7" r="2.4"/><circle cx="17.5" cy="47.8" r="2.4"/><circle cx="33.9" cy="18.6" r="2.3"/><circle cx="28.7" cy="9.2" r="2.6"/><circle cx="19" cy="7.7" r="2.1"/><circle cx="40.6" cy="47.5" r="2.3"/><circle cx="48.6" cy="30.5" r="1.7"/><circle cx="37.3" cy="14.7" r="1.9"/><circle cx="21.8" cy="16" r="1.6"/><circle cx="43.5" cy="17.4" r="1.9"/><circle cx="48.4" cy="47.5" r="1.6"/><circle cx="10.1" cy="29" r="2.2"/><circle cx="1.6" cy="36.1" r="1.9"/><circle cx="16.8" cy="16.2" r="1.9"/><circle cx="7.6" cy="4.8" r="2.3"/><circle cx="47.6" cy="0.7" r="1.4"/><circle cx="16.7" cy="29.7" r="2.5"/><circle cx="32.8" cy="17.1" r="2"/><circle cx="0.8" cy="33.5" r="2.3"/><circle cx="24.5" cy="0.8" r="2"/><circle cx="46.1" cy="22.5" r="2.1"/><circle cx="1.7" cy="-1.6" r="2.2"/><circle cx="45.1" cy="5.2" r="1.4"/><circle cx="29.1" cy="47.1" r="1.7"/><circle cx="32.9" cy="37.2" r="1.9"/><circle cx="9.4" cy="35" r="2.5"/><circle cx="1.8" cy="37.7" r="1.9"/><circle cx="47.8" cy="27.1" r="1.9"/><circle cx="3.5" cy="32.3" r="2"/><circle cx="0.8" cy="23.1" r="1.5"/><circle cx="18.9" cy="47.2" r="1.7"/><circle cx="40.2" cy="12.8" r="1.5"/><circle cx="38.4" cy="28.7" r="1.5"/><circle cx="3.7" cy="41.8" r="1.6"/><circle cx="8.7" cy="34.2" r="2.5"/><circle cx="11.4" cy="16.9" r="1.4"/><circle cx="24.7" cy="31.6" r="1.8"/><circle cx="42.1" cy="1.8" r="2.1"/><circle cx="-0.5" cy="25" r="2.3"/><circle cx="-1.7" cy="37.2" r="1.7"/><circle cx="15.5" cy="37" r="2.1"/><circle cx="33.6" cy="22.4" r="2.4"/><circle cx="-0.4" cy="0.7" r="1.4"/><circle cx="10.7" cy="45.4" r="2.6"/><circle cx="1.7" cy="13.7" r="1.9"/><circle cx="17.9" cy="36.6" r="2.3"/><circle cx="46.7" cy="3.8" r="1.5"/><circle cx="37.7" cy="38.3" r="1.5"/><circle cx="25.2" cy="24.6" r="1.5"/><circle cx="5.1" cy="17.3" r="1.6"/><circle cx="28.2" cy="11.3" r="1.6"/><circle cx="24.5" cy="42.4" r="1.9"/><circle cx="47.3" cy="45.1" r="1.5"/><circle cx="11.4" cy="18.4" r="2.2"/><circle cx="9.7" cy="37" r="1.7"/><circle cx="15.8" cy="15.1" r="1.8"/><circle cx="36.2" cy="33.2" r="2.6"/><circle cx="23.2" cy="-0.2" r="1.9"/><circle cx="47.4" cy="19.1" r="2.1"/><circle cx="26.6" cy="4.8" r="1.8"/><circle cx="46.3" cy="37.2" r="1.7"/><circle cx="29.1" cy="-0.9" r="1.7"/><circle cx="6" cy="35.4" r="1.8"/><circle cx="29.2" cy="37.2" r="1.7"/><circle cx="23.8" cy="5.3" r="1.6"/><circle cx="23" cy="35.4" r="2.6"/><circle cx="3.3" cy="40.8" r="1.8"/><circle cx="43.1" cy="40.7" r="2"/><circle cx="21.3" cy="7.8" r="1.8"/><circle cx="27.9" cy="42.9" r="2"/><circle cx="41.9" cy="8.3" r="2"/><circle cx="27.6" cy="33.6" r="2.3"/><circle cx="14.2" cy="33.3" r="2"/><circle cx="20.7" cy="11.1" r="1.9"/><circle cx="20.4" cy="29.6" r="2.1"/><circle cx="39.3" cy="22.8" r="2.5"/><circle cx="5.4" cy="11.7" r="2.1"/><circle cx="47" cy="29.5" r="2.3"/><circle cx="37.4" cy="11.2" r="1.6"/><circle cx="30.2" cy="9.4" r="2.5"/><circle cx="7" cy="5.9" r="1.9"/><circle cx="18.3" cy="19.7" r="2.1"/><circle cx="20.5" cy="12.2" r="2.4"/><circle cx="29.2" cy="5.5" r="2.5"/><circle cx="19.9" cy="25.3" r="2.4"/><circle cx="36.3" cy="24.7" r="2.2"/><circle cx="-1.4" cy="45.5" r="2.1"/><circle cx="-0.8" cy="39.5" r="2"/><circle cx="27.1" cy="18.1" r="1.8"/><circle cx="29.5" cy="48.3" r="2.2"/><circle cx="-1" cy="31.6" r="2.4"/><circle cx="23" cy="20.2" r="1.7"/><circle cx="15.5" cy="24.4" r="2.4"/><circle cx="22.5" cy="31.2" r="1.4"/><circle cx="12.7" cy="6.9" r="2.4"/><circle cx="11.6" cy="46.2" r="2.4"/><circle cx="11.1" cy="42.9" r="2.5"/><circle cx="42.2" cy="10.4" r="1.8"/><circle cx="32.4" cy="48.7" r="2.2"/><circle cx="10.9" cy="23.4" r="1.7"/><circle cx="1" cy="37.8" r="1.9"/><circle cx="47.2" cy="0.5" r="2.2"/><circle cx="47" cy="19.5" r="2.5"/><circle cx="14.2" cy="1.3" r="2.2"/><circle cx="48.7" cy="48.9" r="2.3"/><circle cx="18.2" cy="9.3" r="1.6"/><circle cx="44.8" cy="42.4" r="1.5"/><circle cx="15.4" cy="6.1" r="2.1"/><circle cx="10.6" cy="15.6" r="1.6"/><circle cx="31.2" cy="26" r="2.2"/><circle cx="3" cy="37.9" r="1.5"/><circle cx="48.1" cy="45.4" r="2"/><circle cx="48.8" cy="33.5" r="2.3"/><circle cx="6" cy="3" r="1.8"/><circle cx="31.7" cy="13.6" r="2.6"/><circle cx="15.8" cy="46.5" r="1.9"/><circle cx="5.5" cy="22.5" r="1.5"/><circle cx="24.5" cy="48.8" r="2"/><circle cx="44" cy="6.2" r="2.6"/><circle cx="5.3" cy="21.5" r="1.5"/><circle cx="20" cy="23" r="2.4"/><circle cx="-0.5" cy="28.3" r="1.9"/><circle cx="36.7" cy="8" r="1.6"/><circle cx="40.8" cy="46.4" r="2.1"/><circle cx="0.7" cy="0.9" r="2.3"/><circle cx="18.9" cy="26.8" r="2.6"/><circle cx="-1.4" cy="7.7" r="2.2"/><circle cx="0.7" cy="48.9" r="2.3"/><circle cx="6.9" cy="14.7" r="2.1"/><circle cx="48.6" cy="21.2" r="1.6"/><circle cx="43" cy="28.1" r="2.5"/><circle cx="30.1" cy="8.7" r="2.1"/><circle cx="1.7" cy="46.4" r="2.2"/><circle cx="10.9" cy="7.5" r="1.8"/><circle cx="47.5" cy="25" r="2.3"/><circle cx="8.5" cy="38.9" r="2"/><circle cx="28.1" cy="39.6" r="1.7"/><circle cx="12.7" cy="27.4" r="2.5"/><circle cx="40.8" cy="-1.6" r="2.1"/><circle cx="26.7" cy="29" r="1.7"/><circle cx="35.9" cy="4.8" r="2"/><circle cx="5.7" cy="13.7" r="2.6"/><circle cx="32" cy="41.5" r="1.5"/><circle cx="5.5" cy="25.2" r="2.2"/><circle cx="41.6" cy="50.2" r="2.4"/><circle cx="32.9" cy="28.4" r="1.6"/><circle cx="20.2" cy="40.1" r="1.7"/><circle cx="32.1" cy="49.3" r="1.5"/><circle cx="5" cy="26.8" r="1.7"/><circle cx="11.8" cy="0.4" r="2.6"/><circle cx="18.4" cy="39.6" r="2.4"/><circle cx="14.9" cy="22.1" r="2.5"/><circle cx="15.8" cy="-1.5" r="1.9"/><circle cx="16.4" cy="50.1" r="2.3"/><circle cx="50.2" cy="36.6" r="2.4"/><circle cx="34.1" cy="23.8" r="2.5"/><circle cx="5.4" cy="9.4" r="1.8"/><circle cx="43.7" cy="24.8" r="1.5"/><circle cx="17.5" cy="-0.2" r="2.4"/><circle cx="41.8" cy="7.2" r="1.8"/><circle cx="43.7" cy="27.1" r="1.5"/><circle cx="40.5" cy="0.9" r="1.6"/><circle cx="26" cy="17.2" r="1.6"/><circle cx="42.1" cy="49.8" r="2.1"/><circle cx="49" cy="37.8" r="1.9"/><circle cx="39.7" cy="18.5" r="1.6"/><circle cx="8.7" cy="26.2" r="1.6"/><circle cx="34.4" cy="13.3" r="2.4"/><circle cx="8.3" cy="11.2" r="2"/><circle cx="10.9" cy="5.3" r="2.5"/><circle cx="29.1" cy="16.2" r="1.6"/><circle cx="14.7" cy="24.9" r="2.3"/><circle cx="43.9" cy="36.7" r="2.6"/><circle cx="47.2" cy="48.5" r="2.2"/><circle cx="44.2" cy="16.3" r="2.2"/><circle cx="24.6" cy="40.7" r="2.5"/><circle cx="3.2" cy="23.8" r="2.5"/><circle cx="9.7" cy="27.9" r="2.3"/><circle cx="43.2" cy="30.4" r="2.3"/><circle cx="2.2" cy="36.6" r="2.4"/><circle cx="30.7" cy="34.4" r="2.6"/><circle cx="12.8" cy="29.5" r="2.6"/><circle cx="34.2" cy="35.2" r="2.1"/><circle cx="-0.8" cy="0.5" r="2.2"/><circle cx="1.1" cy="29.6" r="1.9"/><circle cx="3.9" cy="15.6" r="1.6"/><circle cx="5.9" cy="16.4" r="2.3"/><circle cx="0.2" cy="7.1" r="2.3"/><circle cx="47.6" cy="5.3" r="2.1"/><circle cx="4" cy="31.8" r="2.6"/><circle cx="42.1" cy="44.7" r="2"/><circle cx="17.7" cy="-0.1" r="1.6"/><circle cx="21" cy="46.2" r="1.4"/><circle cx="33.3" cy="3.8" r="1.8"/><circle cx="34.6" cy="30.1" r="1.8"/><circle cx="27.8" cy="39.7" r="2.2"/><circle cx="-0.6" cy="19.1" r="2.1"/><circle cx="49.6" cy="36.1" r="1.9"/><circle cx="15.1" cy="9.4" r="1.6"/><circle cx="11.3" cy="34.1" r="1.7"/><circle cx="46.2" cy="5.8" r="2.3"/><circle cx="43.7" cy="20.5" r="2"/><circle cx="-1.8" cy="5.8" r="2.3"/><circle cx="46.6" cy="45.5" r="2.1"/><circle cx="11" cy="32.1" r="1.9"/><circle cx="41.8" cy="17.1" r="1.5"/><circle cx="3.8" cy="34.6" r="2.4"/><circle cx="41.4" cy="30.3" r="1.6"/><circle cx="0.6" cy="30.5" r="1.7"/><circle cx="0.1" cy="45.4" r="2"/><circle cx="30.7" cy="27.2" r="2.5"/><circle cx="0.6" cy="21.2" r="1.6"/><circle cx="48.4" cy="-0.5" r="1.6"/><circle cx="5.5" cy="40.1" r="2"/><circle cx="36.8" cy="22.6" r="1.7"/><circle cx="10.5" cy="40.4" r="1.6"/><circle cx="26.3" cy="47.4" r="1.9"/><circle cx="-0.1" cy="17.8" r="1.9"/><circle cx="11.4" cy="13.8" r="1.7"/><circle cx="13" cy="30.7" r="1.8"/><circle cx="5" cy="19.6" r="2.2"/><circle cx="33.1" cy="12.6" r="1.6"/><circle cx="11.4" cy="22.2" r="1.4"/><circle cx="43" cy="19.8" r="1.5"/><circle cx="45.3" cy="35.5" r="2.2"/><circle cx="49.7" cy="46.4" r="2.2"/><circle cx="40.7" cy="41.5" r="2.1"/><circle cx="38.4" cy="31.2" r="2.2"/><circle cx="-1.9" cy="22.5" r="2.1"/><circle cx="49.1" cy="32.2" r="2.3"/><circle cx="44.8" cy="7.5" r="1.9"/><circle cx="23.9" cy="46.4" r="1.5"/><circle cx="18.1" cy="19.9" r="1.6"/><circle cx="38.7" cy="2" r="2.5"/><circle cx="10.6" cy="46.5" r="2.1"/><circle cx="14.4" cy="7" r="2.5"/><circle cx="38.8" cy="32.5" r="1.6"/></g></pattern><pattern id="pL" width="72" height="72" patternUnits="userSpaceOnUse"><rect width="72" height="72" fill="#242444"/><g fill="url(#gY)"><circle cx="37.9" cy="58.4" r="2.5"/><circle cx="33" cy="11.5" r="2.4"/></g><g fill="url(#gL)"><circle cx="30.6" cy="27.5" r="2.4"/><circle cx="26.1" cy="34.3" r="1.6"/></g><g fill="url(#gY)"><circle cx="62.3" cy="42.1" r="1.9"/></g><g fill="url(#gL)"><circle cx="23.2" cy="35.3" r="2"/><circle cx="45.4" cy="8.5" r="1.5"/><circle cx="11.1" cy="44.3" r="1.5"/></g><g fill="url(#gY)"><circle cx="4.9" cy="-0.7" r="2.5"/></g><g fill="url(#gL)"><circle cx="14.6" cy="47.2" r="1.7"/></g><g fill="url(#gY)"><circle cx="28.6" cy="70.8" r="2.3"/></g><g fill="url(#gL)"><circle cx="25.5" cy="25.9" r="2.3"/><circle cx="4.8" cy="51.6" r="2.3"/><circle cx="21.1" cy="35.2" r="1.9"/></g><g fill="url(#gY)"><circle cx="73.1" cy="45.5" r="1.7"/><circle cx="37.8" cy="31.6" r="2.2"/></g><g fill="url(#gL)"><circle cx="35.4" cy="14.1" r="2.1"/><circle cx="50.6" cy="31.5" r="1.6"/><circle cx="69.5" cy="47.7" r="2.6"/><circle cx="37.8" cy="20.5" r="1.4"/><circle cx="67.4" cy="51.4" r="2.6"/></g><g fill="url(#gY)"><circle cx="28" cy="36.1" r="2.5"/></g><g fill="url(#gL)"><circle cx="30" cy="42.6" r="2.1"/></g><g fill="url(#gY)"><circle cx="64.5" cy="52.8" r="2.4"/><circle cx="38.5" cy="65.5" r="2.3"/><circle cx="38" cy="29.2" r="1.6"/></g><g fill="url(#gL)"><circle cx="-1" cy="17.7" r="2.3"/><circle cx="56.5" cy="45.2" r="2.2"/><circle cx="66.4" cy="22.8" r="2.1"/></g><g fill="url(#gY)"><circle cx="3.6" cy="50.5" r="2.4"/></g><g fill="url(#gL)"><circle cx="51.3" cy="28.1" r="2.1"/></g><g fill="url(#gY)"><circle cx="20" cy="41.2" r="1.8"/></g><g fill="url(#gL)"><circle cx="25.7" cy="60.7" r="1.8"/><circle cx="68.8" cy="11" r="2.3"/></g><g fill="url(#gY)"><circle cx="65.7" cy="63.2" r="2.4"/></g><g fill="url(#gL)"><circle cx="22.4" cy="23.5" r="2.1"/><circle cx="66.4" cy="52.4" r="1.4"/><circle cx="47.3" cy="8.3" r="2.3"/><circle cx="55.7" cy="52.9" r="1.5"/></g><g fill="url(#gY)"><circle cx="51" cy="14.2" r="2.4"/></g><g fill="url(#gL)"><circle cx="54.5" cy="33.7" r="1.4"/></g><g fill="url(#gY)"><circle cx="53.2" cy="1.8" r="2.5"/></g><g fill="url(#gL)"><circle cx="46.3" cy="37.1" r="2.5"/><circle cx="50.5" cy="28.5" r="2.3"/><circle cx="16.8" cy="39.1" r="1.8"/><circle cx="39.8" cy="40.1" r="1.8"/></g><g fill="url(#gY)"><circle cx="18" cy="20.9" r="2.3"/><circle cx="3.4" cy="22.6" r="2.3"/><circle cx="50.4" cy="50.9" r="1.9"/><circle cx="47" cy="28.7" r="1.6"/></g><g fill="url(#gL)"><circle cx="14.4" cy="8.8" r="1.9"/><circle cx="27.8" cy="23.7" r="2.4"/><circle cx="38.4" cy="59.4" r="2.5"/></g><g fill="url(#gY)"><circle cx="49.3" cy="32.9" r="2"/><circle cx="5.5" cy="0.9" r="1.9"/><circle cx="59.7" cy="14.5" r="1.4"/><circle cx="27.2" cy="14.4" r="2.6"/><circle cx="36" cy="38.6" r="2.3"/></g><g fill="url(#gL)"><circle cx="23.2" cy="28.5" r="1.7"/><circle cx="23.5" cy="5.5" r="2.5"/><circle cx="23.4" cy="20.3" r="1.7"/></g><g fill="url(#gY)"><circle cx="38.5" cy="55.7" r="2.4"/><circle cx="37.5" cy="4.5" r="2.3"/></g><g fill="url(#gL)"><circle cx="15.9" cy="4.1" r="2.6"/><circle cx="44.9" cy="2.5" r="2.5"/></g><g fill="url(#gY)"><circle cx="20.2" cy="27.5" r="2.5"/></g><g fill="url(#gL)"><circle cx="6" cy="41.4" r="2.4"/></g><g fill="url(#gY)"><circle cx="6.3" cy="55.3" r="2.2"/><circle cx="42.7" cy="72.6" r="2.5"/></g><g fill="url(#gL)"><circle cx="40.1" cy="45.4" r="2.4"/><circle cx="55" cy="58.2" r="1.7"/></g><g fill="url(#gY)"><circle cx="6.3" cy="34.4" r="1.5"/><circle cx="62.4" cy="29.6" r="2.4"/><circle cx="61.3" cy="35.2" r="1.4"/><circle cx="50.4" cy="18.1" r="2.1"/><circle cx="18.9" cy="3.7" r="1.4"/></g><g fill="url(#gL)"><circle cx="9.6" cy="51.4" r="1.9"/></g><g fill="url(#gY)"><circle cx="47.9" cy="53.8" r="1.6"/><circle cx="54.5" cy="15.5" r="2.5"/></g><g fill="url(#gL)"><circle cx="11.7" cy="43.4" r="2.4"/><circle cx="40.8" cy="27.3" r="1.7"/></g><g fill="url(#gY)"><circle cx="60.7" cy="72" r="1.5"/></g><g fill="url(#gL)"><circle cx="64.8" cy="42.4" r="2.1"/><circle cx="22.6" cy="4.2" r="2.6"/><circle cx="15.4" cy="-0.5" r="1.7"/><circle cx="25.8" cy="0.8" r="2.5"/><circle cx="41.2" cy="42.3" r="1.8"/></g><g fill="url(#gY)"><circle cx="49.9" cy="13.1" r="2.6"/><circle cx="47.4" cy="32.3" r="2"/><circle cx="51" cy="47.4" r="2.5"/><circle cx="60.5" cy="48.2" r="1.6"/><circle cx="16.6" cy="26.6" r="2.4"/><circle cx="39.3" cy="67.7" r="2.6"/></g><g fill="url(#gL)"><circle cx="-1.6" cy="57.9" r="2.6"/></g><g fill="url(#gY)"><circle cx="19.8" cy="35" r="2.6"/><circle cx="60.8" cy="2.5" r="1.4"/></g><g fill="url(#gL)"><circle cx="37.3" cy="29.5" r="1.5"/><circle cx="14.6" cy="25.7" r="2"/></g><g fill="url(#gY)"><circle cx="64" cy="38.7" r="2.6"/><circle cx="17.9" cy="3" r="2.4"/></g><g fill="url(#gL)"><circle cx="18.1" cy="8.7" r="2.3"/><circle cx="12.8" cy="24.6" r="1.6"/><circle cx="70.4" cy="70.3" r="1.8"/></g><g fill="url(#gY)"><circle cx="38.5" cy="32" r="1.6"/></g><g fill="url(#gL)"><circle cx="15.3" cy="42" r="1.8"/><circle cx="70.4" cy="57.9" r="2.6"/></g><g fill="url(#gY)"><circle cx="30.2" cy="52.9" r="1.9"/><circle cx="46.2" cy="71.8" r="2.2"/></g><g fill="url(#gL)"><circle cx="15.4" cy="71.5" r="1.7"/><circle cx="47.1" cy="9.9" r="1.7"/><circle cx="55.9" cy="55.9" r="1.9"/><circle cx="12.5" cy="-0.1" r="1.8"/></g><g fill="url(#gY)"><circle cx="43" cy="72.5" r="2.1"/><circle cx="35.1" cy="68.5" r="1.8"/></g><g fill="url(#gL)"><circle cx="67.7" cy="8.9" r="2.1"/><circle cx="39.5" cy="47.2" r="2.3"/></g><g fill="url(#gY)"><circle cx="5" cy="73.4" r="2.3"/><circle cx="64.8" cy="38.3" r="2.6"/><circle cx="28.6" cy="5.2" r="1.8"/></g><g fill="url(#gL)"><circle cx="-1.1" cy="40.7" r="1.6"/></g><g fill="url(#gY)"><circle cx="7.7" cy="66.1" r="2"/><circle cx="57.8" cy="51" r="2.5"/><circle cx="42.7" cy="0.6" r="2.5"/><circle cx="4.3" cy="14.2" r="1.8"/></g><g fill="url(#gL)"><circle cx="40.3" cy="2.1" r="1.5"/></g><g fill="url(#gY)"><circle cx="44.7" cy="72.4" r="1.6"/></g><g fill="url(#gL)"><circle cx="44.2" cy="39.1" r="2"/></g><g fill="url(#gY)"><circle cx="34.3" cy="67.5" r="1.9"/><circle cx="47.5" cy="1.2" r="2.2"/></g><g fill="url(#gL)"><circle cx="72.1" cy="59.1" r="1.5"/></g><g fill="url(#gY)"><circle cx="33.9" cy="53.5" r="2.3"/><circle cx="14.9" cy="1.7" r="2.2"/><circle cx="8.1" cy="31.2" r="2.3"/></g><g fill="url(#gL)"><circle cx="57.8" cy="72.3" r="2.3"/></g><g fill="url(#gY)"><circle cx="9.2" cy="34.3" r="1.9"/><circle cx="38.8" cy="55.7" r="1.8"/></g><g fill="url(#gL)"><circle cx="36.1" cy="24.9" r="2.1"/></g><g fill="url(#gY)"><circle cx="35.6" cy="54.4" r="2.2"/></g><g fill="url(#gL)"><circle cx="68.8" cy="25.7" r="2"/><circle cx="55.6" cy="4.6" r="1.5"/></g><g fill="url(#gY)"><circle cx="5" cy="65.2" r="1.8"/></g><g fill="url(#gL)"><circle cx="58" cy="0.5" r="1.5"/><circle cx="8.2" cy="13.4" r="1.9"/><circle cx="71" cy="17.7" r="2.3"/><circle cx="24.5" cy="10" r="2"/><circle cx="67.8" cy="15.1" r="2.1"/></g><g fill="url(#gY)"><circle cx="30.3" cy="53.5" r="1.9"/></g><g fill="url(#gL)"><circle cx="69" cy="21.8" r="1.9"/><circle cx="4.4" cy="10.1" r="2"/><circle cx="32.8" cy="29.4" r="2.4"/></g><g fill="url(#gY)"><circle cx="6.1" cy="67.1" r="2.6"/><circle cx="16.8" cy="-1.1" r="1.9"/></g><g fill="url(#gL)"><circle cx="66.1" cy="25.7" r="2.3"/></g><g fill="url(#gY)"><circle cx="18.6" cy="57.2" r="2.1"/></g><g fill="url(#gL)"><circle cx="57.8" cy="0.3" r="2.3"/></g><g fill="url(#gY)"><circle cx="63.5" cy="52.3" r="2.1"/></g><g fill="url(#gL)"><circle cx="18.8" cy="6.3" r="2.2"/></g><g fill="url(#gY)"><circle cx="67.4" cy="5.4" r="2.2"/></g><g fill="url(#gL)"><circle cx="17" cy="13" r="1.8"/></g><g fill="url(#gY)"><circle cx="16.8" cy="70.9" r="1.9"/></g><g fill="url(#gL)"><circle cx="15.9" cy="66.2" r="2.2"/></g><g fill="url(#gY)"><circle cx="36.5" cy="28.3" r="1.7"/></g><g fill="url(#gL)"><circle cx="26.5" cy="40.3" r="2.6"/><circle cx="57.9" cy="43.7" r="1.4"/><circle cx="23.2" cy="57.7" r="2.4"/></g><g fill="url(#gY)"><circle cx="1.3" cy="54.8" r="1.9"/></g><g fill="url(#gL)"><circle cx="26.1" cy="35.7" r="1.4"/><circle cx="6.1" cy="50.1" r="1.9"/><circle cx="71.4" cy="62.3" r="2.5"/></g><g fill="url(#gY)"><circle cx="6.4" cy="1" r="2.1"/></g><g fill="url(#gL)"><circle cx="8.9" cy="74.2" r="2.6"/></g><g fill="url(#gY)"><circle cx="69.8" cy="30.6" r="1.6"/></g><g fill="url(#gL)"><circle cx="-1.3" cy="19.7" r="2.6"/></g><g fill="url(#gY)"><circle cx="29.2" cy="1.6" r="2.3"/><circle cx="64" cy="41" r="1.9"/><circle cx="62.5" cy="45.7" r="1.8"/></g><g fill="url(#gL)"><circle cx="44" cy="62.4" r="1.6"/><circle cx="-2.5" cy="47.7" r="2.6"/><circle cx="72.8" cy="42.5" r="1.8"/><circle cx="56.9" cy="21.4" r="2.3"/><circle cx="40.1" cy="62" r="1.4"/><circle cx="41" cy="53.3" r="1.6"/></g><g fill="url(#gY)"><circle cx="61.2" cy="34.8" r="1.5"/><circle cx="63.8" cy="27" r="1.9"/></g><g fill="url(#gL)"><circle cx="14.9" cy="11" r="2.5"/></g><g fill="url(#gY)"><circle cx="60.1" cy="64.5" r="1.8"/></g><g fill="url(#gL)"><circle cx="54.4" cy="40.2" r="2"/><circle cx="58" cy="72.5" r="1.5"/></g><g fill="url(#gY)"><circle cx="59.4" cy="31.9" r="1.7"/><circle cx="14.6" cy="17.8" r="2.1"/></g><g fill="url(#gL)"><circle cx="51.4" cy="37.5" r="1.8"/><circle cx="41.9" cy="6.8" r="1.8"/><circle cx="72" cy="22.6" r="1.8"/></g><g fill="url(#gY)"><circle cx="72.4" cy="18.6" r="2"/></g><g fill="url(#gL)"><circle cx="68.9" cy="43.4" r="2.1"/><circle cx="67.3" cy="13" r="1.7"/><circle cx="25" cy="30" r="1.9"/></g><g fill="url(#gY)"><circle cx="46.9" cy="19.1" r="2"/></g><g fill="url(#gL)"><circle cx="10" cy="71.9" r="2.5"/></g><g fill="url(#gY)"><circle cx="70.4" cy="37.4" r="1.7"/></g><g fill="url(#gL)"><circle cx="8.9" cy="6.2" r="1.9"/></g><g fill="url(#gY)"><circle cx="8" cy="2.2" r="1.8"/><circle cx="64.2" cy="50.9" r="2.1"/><circle cx="53.2" cy="40.2" r="2.4"/><circle cx="40.3" cy="54.1" r="2.1"/></g><g fill="url(#gL)"><circle cx="27.2" cy="27.2" r="2"/><circle cx="57.4" cy="27.7" r="2"/></g><g fill="url(#gY)"><circle cx="60" cy="17.3" r="2.4"/></g><g fill="url(#gL)"><circle cx="36" cy="9.1" r="2.2"/><circle cx="15.4" cy="39.9" r="2.5"/><circle cx="38.6" cy="45.8" r="1.7"/></g><g fill="url(#gY)"><circle cx="64.4" cy="70.7" r="2.1"/><circle cx="35.3" cy="57.6" r="1.6"/></g><g fill="url(#gL)"><circle cx="9" cy="41.5" r="2.2"/><circle cx="15.5" cy="69.4" r="1.7"/><circle cx="19.9" cy="60.7" r="2.4"/><circle cx="54.8" cy="54.5" r="1.5"/><circle cx="14.8" cy="37.5" r="1.5"/></g><g fill="url(#gY)"><circle cx="53.7" cy="16.1" r="1.9"/></g><g fill="url(#gL)"><circle cx="26.9" cy="53.3" r="1.5"/><circle cx="59.6" cy="44.4" r="1.5"/></g><g fill="url(#gY)"><circle cx="1.6" cy="19" r="2"/><circle cx="21.9" cy="69.9" r="1.5"/></g><g fill="url(#gL)"><circle cx="66.2" cy="63.7" r="1.5"/></g><g fill="url(#gY)"><circle cx="43" cy="0.5" r="2.1"/><circle cx="14.1" cy="48.8" r="2.3"/></g><g fill="url(#gL)"><circle cx="39" cy="47.8" r="2.6"/></g><g fill="url(#gY)"><circle cx="39.8" cy="73.9" r="2.2"/></g><g fill="url(#gL)"><circle cx="69.3" cy="61.8" r="2.2"/><circle cx="29" cy="53.5" r="2.5"/><circle cx="25.7" cy="4.8" r="1.5"/><circle cx="40.2" cy="14.5" r="2.3"/><circle cx="70.7" cy="52.7" r="1.5"/><circle cx="35.5" cy="10.7" r="2.5"/><circle cx="44" cy="25.6" r="1.8"/><circle cx="53.3" cy="8.1" r="2.1"/><circle cx="23" cy="37.5" r="2.1"/></g><g fill="url(#gY)"><circle cx="15.7" cy="65.6" r="2.2"/><circle cx="15.2" cy="56.1" r="1.7"/><circle cx="61.8" cy="52.2" r="1.6"/></g><g fill="url(#gL)"><circle cx="37.5" cy="45.7" r="2"/></g><g fill="url(#gY)"><circle cx="63.6" cy="49.4" r="2.5"/><circle cx="61.3" cy="20.1" r="2.6"/></g><g fill="url(#gL)"><circle cx="20.4" cy="23.9" r="1.9"/><circle cx="-1.6" cy="-1.7" r="1.8"/><circle cx="71.6" cy="39.9" r="1.8"/></g><g fill="url(#gY)"><circle cx="59.1" cy="0.9" r="2.2"/></g><g fill="url(#gL)"><circle cx="40.2" cy="56.1" r="1.9"/><circle cx="17.4" cy="7.9" r="2.4"/></g><g fill="url(#gY)"><circle cx="48.9" cy="47.5" r="1.6"/><circle cx="17.3" cy="26.2" r="2.4"/><circle cx="31" cy="39.6" r="2.2"/><circle cx="47.7" cy="48.7" r="2.2"/><circle cx="36.8" cy="33.2" r="2.5"/></g><g fill="url(#gL)"><circle cx="9.6" cy="25" r="1.4"/></g><g fill="url(#gY)"><circle cx="65.8" cy="20.5" r="2.1"/><circle cx="5.5" cy="72.9" r="1.9"/></g><g fill="url(#gL)"><circle cx="36.1" cy="22" r="2.4"/></g><g fill="url(#gY)"><circle cx="63.4" cy="71.8" r="1.8"/><circle cx="26.7" cy="53.8" r="2.4"/><circle cx="63.9" cy="31.1" r="2.5"/><circle cx="61.2" cy="1.4" r="2.2"/><circle cx="55.9" cy="51" r="1.6"/></g><g fill="url(#gL)"><circle cx="55.6" cy="68" r="1.4"/><circle cx="0.1" cy="59.1" r="1.5"/></g><g fill="url(#gY)"><circle cx="64.4" cy="53" r="2.1"/><circle cx="31.9" cy="3" r="2.5"/><circle cx="69.2" cy="19.2" r="2.5"/></g><g fill="url(#gL)"><circle cx="71.6" cy="12.5" r="1.7"/></g><g fill="url(#gY)"><circle cx="14.6" cy="53.4" r="2.2"/></g><g fill="url(#gL)"><circle cx="62.1" cy="52.6" r="1.6"/><circle cx="-0.4" cy="12.5" r="1.7"/></g><g fill="url(#gY)"><circle cx="0.5" cy="4" r="2.2"/></g><g fill="url(#gL)"><circle cx="37.1" cy="10.9" r="2.1"/><circle cx="14.2" cy="59.2" r="1.9"/><circle cx="0" cy="22.6" r="1.8"/></g><g fill="url(#gY)"><circle cx="52.4" cy="24" r="2.1"/></g><g fill="url(#gL)"><circle cx="27.3" cy="14.3" r="1.5"/></g><g fill="url(#gY)"><circle cx="48.6" cy="5" r="1.7"/><circle cx="30.9" cy="30.7" r="1.8"/></g><g fill="url(#gL)"><circle cx="29.7" cy="50.2" r="1.4"/></g><g fill="url(#gY)"><circle cx="42.8" cy="29.6" r="1.7"/></g><g fill="url(#gL)"><circle cx="13.6" cy="64" r="1.8"/></g><g fill="url(#gY)"><circle cx="64.2" cy="72.1" r="1.9"/><circle cx="24" cy="46.1" r="2.1"/></g><g fill="url(#gL)"><circle cx="49.6" cy="6.5" r="2.5"/></g><g fill="url(#gY)"><circle cx="18.7" cy="51.4" r="2"/></g><g fill="url(#gL)"><circle cx="14.7" cy="46.6" r="2.1"/></g><g fill="url(#gY)"><circle cx="50.3" cy="21.6" r="2.1"/></g><g fill="url(#gL)"><circle cx="70.9" cy="40.7" r="1.6"/></g><g fill="url(#gY)"><circle cx="59.5" cy="2" r="1.6"/><circle cx="20.2" cy="56.3" r="2.1"/></g><g fill="url(#gL)"><circle cx="50" cy="7.9" r="1.8"/></g><g fill="url(#gY)"><circle cx="54.2" cy="37.8" r="1.4"/><circle cx="58.3" cy="34.8" r="1.8"/></g><g fill="url(#gL)"><circle cx="5.8" cy="53.5" r="1.9"/></g><g fill="url(#gY)"><circle cx="1.1" cy="16.8" r="1.5"/></g><g fill="url(#gL)"><circle cx="6.6" cy="45.3" r="2.3"/><circle cx="15.4" cy="64.1" r="2.4"/></g><g fill="url(#gY)"><circle cx="3.2" cy="13.1" r="2.1"/></g><g fill="url(#gL)"><circle cx="8.1" cy="4.4" r="2.6"/></g><g fill="url(#gY)"><circle cx="2.2" cy="70.3" r="2"/><circle cx="38.7" cy="29.3" r="1.8"/></g><g fill="url(#gL)"><circle cx="24.3" cy="60.4" r="1.4"/></g><g fill="url(#gY)"><circle cx="-2.2" cy="65.8" r="2.6"/><circle cx="11.5" cy="69.4" r="1.7"/><circle cx="21" cy="40.9" r="1.5"/><circle cx="65.5" cy="51.7" r="1.8"/></g><g fill="url(#gL)"><circle cx="35.6" cy="13.7" r="2"/><circle cx="7.1" cy="46.8" r="1.8"/><circle cx="42.4" cy="39.1" r="1.7"/><circle cx="57.3" cy="45.9" r="1.5"/><circle cx="24.8" cy="11.9" r="2.2"/><circle cx="59.4" cy="22.3" r="1.8"/></g><g fill="url(#gY)"><circle cx="15" cy="51.9" r="2.4"/></g><g fill="url(#gL)"><circle cx="-0.6" cy="62.3" r="2.5"/><circle cx="53.5" cy="67.7" r="1.4"/><circle cx="39.7" cy="60" r="1.6"/></g><g fill="url(#gY)"><circle cx="60.7" cy="0" r="1.5"/><circle cx="62.8" cy="5.7" r="2.3"/><circle cx="24.3" cy="44.6" r="2.5"/></g><g fill="url(#gL)"><circle cx="10.7" cy="28.4" r="1.8"/></g><g fill="url(#gY)"><circle cx="3.9" cy="68.5" r="1.9"/></g><g fill="url(#gL)"><circle cx="3.2" cy="25.4" r="2.2"/><circle cx="21.9" cy="60.2" r="1.5"/><circle cx="64.8" cy="13.7" r="1.8"/><circle cx="12.2" cy="14.2" r="2.6"/></g><g fill="url(#gY)"><circle cx="46.3" cy="60.9" r="1.6"/><circle cx="39.8" cy="1.9" r="2.2"/><circle cx="3.8" cy="37.8" r="2"/></g><g fill="url(#gL)"><circle cx="13.3" cy="66.7" r="1.8"/><circle cx="25.5" cy="18.6" r="1.6"/></g><g fill="url(#gY)"><circle cx="71" cy="2.2" r="1.9"/></g><g fill="url(#gL)"><circle cx="14.8" cy="46.5" r="1.5"/><circle cx="24.6" cy="34.8" r="1.7"/><circle cx="23.4" cy="28.2" r="2.2"/></g><g fill="url(#gY)"><circle cx="28.6" cy="-1.2" r="2.3"/></g><g fill="url(#gL)"><circle cx="46.2" cy="46.4" r="1.8"/></g><g fill="url(#gY)"><circle cx="63.2" cy="66.3" r="2.5"/><circle cx="5" cy="1.4" r="2.3"/><circle cx="19.9" cy="50.9" r="2.2"/><circle cx="62.4" cy="7" r="2.1"/><circle cx="2.8" cy="39.7" r="2.2"/></g><g fill="url(#gL)"><circle cx="32.3" cy="61.3" r="2"/></g><g fill="url(#gY)"><circle cx="15.2" cy="55.5" r="2.1"/><circle cx="7.4" cy="70.7" r="1.6"/><circle cx="64.8" cy="48.6" r="1.7"/><circle cx="49.5" cy="72.9" r="2.1"/><circle cx="73.1" cy="16.8" r="1.5"/><circle cx="37" cy="12.6" r="2.3"/></g><g fill="url(#gL)"><circle cx="29.8" cy="59.7" r="1.8"/><circle cx="0.8" cy="42.5" r="1.8"/><circle cx="48.4" cy="43.3" r="2.3"/></g><g fill="url(#gY)"><circle cx="51" cy="20.5" r="2.5"/><circle cx="9.1" cy="66.8" r="2"/></g><g fill="url(#gL)"><circle cx="52" cy="66.6" r="2.5"/></g><g fill="url(#gY)"><circle cx="21.2" cy="47.9" r="1.6"/><circle cx="33.9" cy="38.1" r="1.4"/><circle cx="50.7" cy="23.4" r="1.6"/></g><g fill="url(#gL)"><circle cx="10.5" cy="60.9" r="1.6"/><circle cx="55.4" cy="23.1" r="2"/><circle cx="55.3" cy="34.7" r="1.4"/></g><g fill="url(#gY)"><circle cx="5" cy="52.8" r="2.4"/></g><g fill="url(#gL)"><circle cx="28.1" cy="13" r="1.8"/><circle cx="55.7" cy="55.3" r="2.6"/><circle cx="9.1" cy="59.2" r="2.4"/></g><g fill="url(#gY)"><circle cx="0.4" cy="18.6" r="2"/><circle cx="67.5" cy="41.2" r="1.7"/></g><g fill="url(#gL)"><circle cx="27.7" cy="64.5" r="2.2"/></g><g fill="url(#gY)"><circle cx="63.3" cy="56.4" r="2.4"/><circle cx="38.1" cy="65.7" r="1.8"/></g><g fill="url(#gL)"><circle cx="36.7" cy="18.9" r="2.6"/></g><g fill="url(#gY)"><circle cx="50.3" cy="2" r="1.6"/></g><g fill="url(#gL)"><circle cx="20.9" cy="29.5" r="1.6"/><circle cx="33.6" cy="45.7" r="2.4"/></g><g fill="url(#gY)"><circle cx="35" cy="38.9" r="1.9"/></g><g fill="url(#gL)"><circle cx="69.3" cy="14.7" r="2.2"/></g><g fill="url(#gY)"><circle cx="51.9" cy="13.9" r="2.5"/></g><g fill="url(#gL)"><circle cx="39.1" cy="65.8" r="2"/><circle cx="29.4" cy="29.4" r="2.1"/><circle cx="7.2" cy="42.1" r="2.5"/></g><g fill="url(#gY)"><circle cx="52.6" cy="10.9" r="1.9"/><circle cx="8.2" cy="31.3" r="2"/></g><g fill="url(#gL)"><circle cx="29.2" cy="4.6" r="1.5"/><circle cx="52.2" cy="39.9" r="1.8"/></g><g fill="url(#gY)"><circle cx="61.6" cy="46.4" r="1.4"/><circle cx="7.1" cy="14.3" r="1.9"/><circle cx="12.9" cy="0.1" r="1.8"/><circle cx="66.5" cy="9.6" r="2"/><circle cx="63.7" cy="15" r="1.6"/></g><g fill="url(#gL)"><circle cx="9.8" cy="56.5" r="2.3"/></g><g fill="url(#gY)"><circle cx="-1" cy="2.2" r="1.9"/></g><g fill="url(#gL)"><circle cx="27.9" cy="11.8" r="1.9"/></g><g fill="url(#gY)"><circle cx="4.9" cy="47.9" r="2.2"/></g><g fill="url(#gL)"><circle cx="63.4" cy="22.7" r="2.2"/></g><g fill="url(#gY)"><circle cx="44.7" cy="0.4" r="1.6"/><circle cx="17" cy="33.8" r="1.6"/></g><g fill="url(#gL)"><circle cx="28.8" cy="2.2" r="2.3"/></g><g fill="url(#gY)"><circle cx="36.3" cy="38.7" r="2.1"/><circle cx="63.5" cy="41.1" r="1.7"/><circle cx="7.1" cy="2.5" r="1.6"/></g><g fill="url(#gL)"><circle cx="70.2" cy="15.9" r="1.6"/></g><g fill="url(#gY)"><circle cx="61.5" cy="39.2" r="2"/><circle cx="7.4" cy="0.2" r="1.8"/><circle cx="1.4" cy="66.4" r="1.8"/><circle cx="44.7" cy="21.4" r="2.1"/><circle cx="13.2" cy="71.8" r="1.5"/></g><g fill="url(#gL)"><circle cx="53" cy="35.5" r="2.3"/><circle cx="63.6" cy="11.6" r="2.4"/><circle cx="54.8" cy="53.3" r="1.8"/><circle cx="69.8" cy="17.1" r="1.6"/><circle cx="63.4" cy="48.7" r="1.8"/></g><g fill="url(#gY)"><circle cx="3.9" cy="73.9" r="2.5"/></g><g fill="url(#gL)"><circle cx="53" cy="30.6" r="1.5"/></g><g fill="url(#gY)"><circle cx="27.9" cy="74.1" r="2.1"/></g><g fill="url(#gL)"><circle cx="38.5" cy="8.9" r="2.4"/><circle cx="8.5" cy="43" r="1.4"/></g><g fill="url(#gY)"><circle cx="4.2" cy="68.7" r="1.5"/></g><g fill="url(#gL)"><circle cx="65.9" cy="43.4" r="1.7"/><circle cx="21" cy="24.1" r="1.8"/></g><g fill="url(#gY)"><circle cx="5.1" cy="-2.3" r="2.6"/><circle cx="3.5" cy="22.1" r="2.6"/></g><g fill="url(#gL)"><circle cx="56.1" cy="2.5" r="2"/><circle cx="44.4" cy="28.5" r="1.4"/><circle cx="70" cy="62.8" r="1.8"/></g><g fill="url(#gY)"><circle cx="50.4" cy="22.1" r="2.4"/></g><g fill="url(#gL)"><circle cx="53" cy="5.7" r="1.9"/><circle cx="12.6" cy="58.3" r="1.7"/><circle cx="14.1" cy="9.2" r="1.7"/></g><g fill="url(#gY)"><circle cx="35.8" cy="66.2" r="2.1"/></g><g fill="url(#gL)"><circle cx="55.9" cy="19.9" r="2.2"/></g><g fill="url(#gY)"><circle cx="7.4" cy="72.2" r="1.8"/><circle cx="8" cy="1.4" r="2"/></g><g fill="url(#gL)"><circle cx="24.3" cy="58.2" r="2.4"/><circle cx="69.1" cy="8.4" r="2.1"/><circle cx="23.7" cy="23.7" r="2"/><circle cx="25.8" cy="72.8" r="2.5"/><circle cx="28.3" cy="22.4" r="2.1"/></g><g fill="url(#gY)"><circle cx="5.1" cy="69.7" r="2.6"/></g><g fill="url(#gL)"><circle cx="-1.6" cy="70.3" r="1.8"/><circle cx="67.3" cy="58.6" r="1.4"/></g><g fill="url(#gY)"><circle cx="63" cy="12.8" r="1.8"/></g><g fill="url(#gL)"><circle cx="60.4" cy="58.8" r="1.5"/></g><g fill="url(#gY)"><circle cx="9.9" cy="37.8" r="1.7"/><circle cx="6.4" cy="73" r="2.1"/><circle cx="12.4" cy="21.1" r="2.1"/><circle cx="62.9" cy="53.4" r="2.1"/></g><g fill="url(#gL)"><circle cx="18.5" cy="28.5" r="1.9"/></g><g fill="url(#gY)"><circle cx="13.2" cy="-0.2" r="1.5"/></g><g fill="url(#gL)"><circle cx="8.7" cy="16.9" r="2.4"/></g><g fill="url(#gY)"><circle cx="18.3" cy="12.8" r="1.7"/><circle cx="64.2" cy="0.1" r="1.9"/><circle cx="54.1" cy="48.2" r="2.2"/><circle cx="67.3" cy="55" r="2.1"/></g><g fill="url(#gL)"><circle cx="39.9" cy="26.7" r="2.5"/></g><g fill="url(#gY)"><circle cx="30" cy="36.7" r="1.5"/><circle cx="62.8" cy="15.2" r="1.8"/></g><g fill="url(#gL)"><circle cx="70.6" cy="64.6" r="2.6"/><circle cx="8.9" cy="2.2" r="2.6"/><circle cx="70.6" cy="38.7" r="1.9"/></g><g fill="url(#gY)"><circle cx="23.5" cy="72.8" r="1.4"/></g><g fill="url(#gL)"><circle cx="55.4" cy="28.2" r="2.3"/><circle cx="51.2" cy="43.8" r="1.7"/><circle cx="22.3" cy="27.5" r="1.5"/><circle cx="55.1" cy="26" r="2.2"/></g><g fill="url(#gY)"><circle cx="53.1" cy="49.4" r="2.3"/><circle cx="53.2" cy="73.8" r="2.5"/><circle cx="19.3" cy="55.5" r="2.4"/><circle cx="44.7" cy="25.7" r="2.1"/><circle cx="61.2" cy="73.4" r="2.2"/><circle cx="42.4" cy="2.9" r="2.2"/></g><g fill="url(#gL)"><circle cx="26.3" cy="23.3" r="1.7"/><circle cx="20.8" cy="63.5" r="2.4"/></g><g fill="url(#gY)"><circle cx="59.7" cy="36.1" r="2.6"/><circle cx="49.7" cy="3.2" r="2"/></g><g fill="url(#gL)"><circle cx="71.9" cy="5.7" r="1.5"/><circle cx="17.8" cy="3.7" r="2.4"/><circle cx="51.4" cy="9.5" r="1.4"/></g><g fill="url(#gY)"><circle cx="32.1" cy="17.5" r="1.4"/></g><g fill="url(#gL)"><circle cx="12.9" cy="41.5" r="1.5"/></g><g fill="url(#gY)"><circle cx="14.7" cy="64.5" r="2.3"/><circle cx="73.6" cy="19" r="2"/></g><g fill="url(#gL)"><circle cx="68.3" cy="42.9" r="2.5"/></g><g fill="url(#gY)"><circle cx="66.8" cy="31.2" r="1.4"/></g><g fill="url(#gL)"><circle cx="9.1" cy="27.4" r="1.5"/><circle cx="-0.1" cy="5.7" r="1.5"/><circle cx="6.3" cy="57.6" r="2.1"/><circle cx="8.8" cy="29.2" r="2.5"/></g><g fill="url(#gY)"><circle cx="33.3" cy="53.2" r="1.4"/></g><g fill="url(#gL)"><circle cx="37.9" cy="8.1" r="2.1"/><circle cx="68.2" cy="8.2" r="1.5"/></g><g fill="url(#gY)"><circle cx="15.9" cy="31.6" r="1.6"/></g><g fill="url(#gL)"><circle cx="40.8" cy="20.9" r="2.1"/></g><g fill="url(#gY)"><circle cx="59.1" cy="72.9" r="2.2"/><circle cx="65.4" cy="57.3" r="2.3"/><circle cx="28.4" cy="46.2" r="1.6"/></g><g fill="url(#gL)"><circle cx="-1.4" cy="64.6" r="2.6"/><circle cx="71.2" cy="50.8" r="1.8"/></g><g fill="url(#gY)"><circle cx="20.7" cy="55" r="1.8"/></g><g fill="url(#gL)"><circle cx="36.7" cy="13.3" r="1.6"/><circle cx="51.5" cy="64.3" r="1.5"/></g><g fill="url(#gY)"><circle cx="27.9" cy="2.1" r="2.1"/></g><g fill="url(#gL)"><circle cx="44.1" cy="32.1" r="1.6"/><circle cx="27.6" cy="25.6" r="1.8"/></g><g fill="url(#gY)"><circle cx="8.1" cy="73.1" r="1.6"/><circle cx="55.7" cy="17.6" r="1.5"/></g><g fill="url(#gL)"><circle cx="2" cy="24.6" r="1.5"/></g><g fill="url(#gY)"><circle cx="9.7" cy="67.6" r="1.7"/><circle cx="4.3" cy="27.5" r="1.5"/></g><g fill="url(#gL)"><circle cx="-1.3" cy="52.7" r="1.5"/></g><g fill="url(#gY)"><circle cx="49.5" cy="0.9" r="2.1"/><circle cx="32" cy="45.5" r="2.1"/><circle cx="32" cy="60.3" r="2.6"/></g><g fill="url(#gL)"><circle cx="28.2" cy="2.7" r="1.5"/></g><g fill="url(#gY)"><circle cx="32.9" cy="13.6" r="2.2"/></g><g fill="url(#gL)"><circle cx="70.7" cy="19.7" r="2.6"/></g><g fill="url(#gY)"><circle cx="69.8" cy="65.8" r="2.6"/><circle cx="46.5" cy="50.3" r="2.2"/><circle cx="21.2" cy="53.8" r="2.1"/><circle cx="63.5" cy="48.8" r="1.7"/></g><g fill="url(#gL)"><circle cx="7.6" cy="42" r="2"/><circle cx="62.1" cy="27" r="2.4"/><circle cx="38.9" cy="6.7" r="2"/></g><g fill="url(#gY)"><circle cx="29.2" cy="73.6" r="2.3"/><circle cx="15.5" cy="49.9" r="1.8"/><circle cx="34" cy="29.9" r="2.2"/></g><g fill="url(#gL)"><circle cx="62.1" cy="25.3" r="1.6"/></g><g fill="url(#gY)"><circle cx="14.8" cy="29.5" r="2.3"/><circle cx="6.2" cy="29" r="2"/></g><g fill="url(#gL)"><circle cx="61" cy="25" r="1.7"/></g><g fill="url(#gY)"><circle cx="18" cy="30.4" r="2.5"/><circle cx="31.4" cy="44.1" r="2"/></g><g fill="url(#gL)"><circle cx="51.7" cy="26.4" r="1.9"/><circle cx="20.9" cy="30" r="2.3"/></g><g fill="url(#gY)"><circle cx="7" cy="57.3" r="2.2"/><circle cx="11.8" cy="56.5" r="1.8"/></g><g fill="url(#gL)"><circle cx="28.1" cy="53.2" r="1.4"/></g><g fill="url(#gY)"><circle cx="62" cy="6.6" r="1.6"/><circle cx="1.1" cy="45.5" r="1.7"/><circle cx="3.9" cy="1.9" r="2.5"/></g><g fill="url(#gL)"><circle cx="41.2" cy="5.6" r="2.2"/></g><g fill="url(#gY)"><circle cx="73.4" cy="66.4" r="1.8"/><circle cx="35.8" cy="69.3" r="2.1"/></g><g fill="url(#gL)"><circle cx="43.1" cy="18.1" r="2.1"/><circle cx="14.9" cy="41.6" r="2.1"/><circle cx="8.6" cy="44.7" r="2.4"/></g><g fill="url(#gY)"><circle cx="45.4" cy="56.9" r="1.6"/></g><g fill="url(#gL)"><circle cx="56.7" cy="5.7" r="2"/></g><g fill="url(#gY)"><circle cx="32.1" cy="45.4" r="1.5"/><circle cx="37.3" cy="22.1" r="2.6"/></g><g fill="url(#gL)"><circle cx="23.4" cy="30.4" r="1.9"/><circle cx="68.6" cy="44.3" r="2.2"/><circle cx="67.8" cy="43.3" r="2"/></g><g fill="url(#gY)"><circle cx="65.9" cy="33.5" r="1.9"/><circle cx="60.9" cy="69.8" r="1.7"/><circle cx="62.1" cy="74" r="2.3"/><circle cx="33.5" cy="41.1" r="1.9"/></g><g fill="url(#gL)"><circle cx="-0.4" cy="39.9" r="1.8"/><circle cx="6.5" cy="48.3" r="2.4"/></g><g fill="url(#gY)"><circle cx="37.5" cy="73.1" r="1.9"/><circle cx="56.2" cy="54.7" r="2.1"/><circle cx="72.9" cy="35.8" r="1.5"/></g><g fill="url(#gL)"><circle cx="10.4" cy="50.3" r="2"/><circle cx="19.6" cy="26.8" r="2"/></g><g fill="url(#gY)"><circle cx="4.8" cy="9.1" r="1.7"/><circle cx="13.8" cy="60.7" r="2.4"/></g><g fill="url(#gL)"><circle cx="6.2" cy="59.8" r="1.7"/><circle cx="9.9" cy="69.4" r="1.8"/><circle cx="45.1" cy="46.4" r="2.2"/></g><g fill="url(#gY)"><circle cx="12.9" cy="72.1" r="1.8"/><circle cx="11.1" cy="33.8" r="1.5"/></g><g fill="url(#gL)"><circle cx="56.9" cy="5.2" r="1.5"/><circle cx="14.1" cy="11.9" r="2.3"/></g><g fill="url(#gY)"><circle cx="7.4" cy="-1.3" r="1.6"/></g><g fill="url(#gL)"><circle cx="30.7" cy="5.3" r="2.4"/><circle cx="55.8" cy="24.8" r="2.4"/></g><g fill="url(#gY)"><circle cx="55.8" cy="54.2" r="2.6"/><circle cx="45.7" cy="28.2" r="1.4"/><circle cx="14.9" cy="73.7" r="2.2"/></g><g fill="url(#gL)"><circle cx="52.5" cy="57.5" r="1.6"/></g><g fill="url(#gY)"><circle cx="73.3" cy="54.8" r="1.9"/><circle cx="1.9" cy="51.1" r="1.4"/><circle cx="28.8" cy="3.6" r="2"/></g><g fill="url(#gL)"><circle cx="10.3" cy="3.8" r="2"/></g><g fill="url(#gY)"><circle cx="17.5" cy="29.9" r="1.9"/></g><g fill="url(#gL)"><circle cx="73.1" cy="57.3" r="2.2"/></g><g fill="url(#gY)"><circle cx="37" cy="36.8" r="1.5"/></g><g fill="url(#gL)"><circle cx="45.1" cy="42" r="1.5"/><circle cx="38.6" cy="25.8" r="1.8"/></g><g fill="url(#gY)"><circle cx="16.8" cy="46.5" r="1.5"/><circle cx="4.9" cy="71.3" r="2.5"/></g><g fill="url(#gL)"><circle cx="25.9" cy="44" r="1.4"/><circle cx="43.9" cy="30.9" r="2"/><circle cx="71.7" cy="40.8" r="2"/></g><g fill="url(#gY)"><circle cx="28.2" cy="49" r="1.9"/></g><g fill="url(#gL)"><circle cx="10" cy="-0.1" r="2.5"/><circle cx="17.4" cy="3" r="2.5"/></g><g fill="url(#gY)"><circle cx="60.4" cy="36.6" r="1.5"/></g><g fill="url(#gL)"><circle cx="16.7" cy="28.3" r="1.7"/></g><g fill="url(#gY)"><circle cx="64.8" cy="49.1" r="1.8"/></g><g fill="url(#gL)"><circle cx="52.5" cy="65" r="2"/></g><g fill="url(#gY)"><circle cx="35.9" cy="36.4" r="2.3"/></g><g fill="url(#gL)"><circle cx="39.2" cy="59.2" r="1.5"/></g><g fill="url(#gY)"><circle cx="59.4" cy="67.2" r="2.4"/><circle cx="31.6" cy="12.3" r="2.4"/></g><g fill="url(#gL)"><circle cx="54.7" cy="66" r="1.7"/><circle cx="55.9" cy="9.2" r="1.9"/></g><g fill="url(#gY)"><circle cx="33.8" cy="5.2" r="2.6"/><circle cx="3.9" cy="58.6" r="2"/><circle cx="36.8" cy="65.3" r="2.5"/><circle cx="35.4" cy="3" r="1.9"/><circle cx="8.1" cy="1.1" r="1.6"/><circle cx="30.6" cy="10.8" r="1.6"/><circle cx="11.6" cy="31.5" r="2.5"/></g><g fill="url(#gL)"><circle cx="66.5" cy="43.3" r="2.4"/></g><g fill="url(#gY)"><circle cx="3.8" cy="30.6" r="2.6"/></g><g fill="url(#gL)"><circle cx="47.6" cy="10.4" r="2.5"/><circle cx="66.5" cy="54.3" r="2.5"/><circle cx="55.9" cy="67.2" r="2.1"/><circle cx="59.6" cy="63.3" r="2.5"/><circle cx="61.4" cy="24.2" r="2.3"/><circle cx="68.8" cy="49.2" r="1.7"/><circle cx="6" cy="40.3" r="2.4"/><circle cx="53.7" cy="29.8" r="1.7"/></g><g fill="url(#gY)"><circle cx="19.3" cy="30.9" r="2.2"/></g><g fill="url(#gL)"><circle cx="9.5" cy="26.6" r="1.5"/></g><g fill="url(#gY)"><circle cx="68" cy="39.7" r="1.5"/><circle cx="27.8" cy="55.1" r="2.5"/><circle cx="35" cy="41.3" r="2.3"/></g><g fill="url(#gL)"><circle cx="66.6" cy="43.8" r="1.6"/></g><g fill="url(#gY)"><circle cx="6.6" cy="58" r="2.4"/><circle cx="38.4" cy="69.7" r="1.7"/><circle cx="42.9" cy="23.9" r="1.5"/><circle cx="23.5" cy="0.8" r="1.4"/></g><g fill="url(#gL)"><circle cx="43" cy="68.5" r="1.4"/><circle cx="5.7" cy="21.9" r="1.6"/></g><g fill="url(#gY)"><circle cx="35.5" cy="46.2" r="1.9"/><circle cx="8.5" cy="30.1" r="2.5"/><circle cx="55.5" cy="12" r="2.4"/></g><g fill="url(#gL)"><circle cx="25.3" cy="11.6" r="1.5"/></g><g fill="url(#gY)"><circle cx="33" cy="39.7" r="2"/><circle cx="4" cy="40.6" r="1.8"/><circle cx="66.1" cy="37.9" r="2.2"/><circle cx="72.5" cy="4" r="2.2"/><circle cx="61.1" cy="41.1" r="2.5"/></g><g fill="url(#gL)"><circle cx="41" cy="10.2" r="1.5"/></g><g fill="url(#gY)"><circle cx="37.5" cy="1.1" r="1.9"/><circle cx="4.1" cy="26.2" r="1.9"/></g><g fill="url(#gL)"><circle cx="58.2" cy="51.3" r="1.8"/><circle cx="64.9" cy="23.5" r="1.7"/><circle cx="-1.4" cy="38.7" r="1.9"/><circle cx="38" cy="41.3" r="1.9"/><circle cx="3.2" cy="21.7" r="2.4"/></g><g fill="url(#gY)"><circle cx="19" cy="25.5" r="1.5"/><circle cx="48.8" cy="73.3" r="2.5"/><circle cx="64.9" cy="62.9" r="2.2"/><circle cx="60.7" cy="39.5" r="1.7"/><circle cx="49.9" cy="25.8" r="1.8"/><circle cx="65" cy="63.3" r="1.5"/></g><g fill="url(#gL)"><circle cx="12.1" cy="11.6" r="1.5"/><circle cx="2.1" cy="25.4" r="1.6"/><circle cx="48.3" cy="5.8" r="2"/><circle cx="6.4" cy="8.3" r="1.9"/><circle cx="38.3" cy="22.5" r="2.3"/></g><g fill="url(#gY)"><circle cx="49.4" cy="67.7" r="2.2"/></g><g fill="url(#gL)"><circle cx="54.3" cy="47.2" r="2.2"/><circle cx="25.9" cy="26.7" r="2"/></g><g fill="url(#gY)"><circle cx="65.7" cy="43" r="1.5"/></g><g fill="url(#gL)"><circle cx="38.1" cy="42.8" r="2.2"/><circle cx="53.2" cy="27.3" r="2.6"/></g><g fill="url(#gY)"><circle cx="63.4" cy="23.7" r="2.4"/></g><g fill="url(#gL)"><circle cx="-0.3" cy="40.8" r="2"/><circle cx="37.5" cy="45.6" r="2"/></g><g fill="url(#gY)"><circle cx="62.1" cy="2" r="2.3"/><circle cx="31.6" cy="31.3" r="2.2"/></g><g fill="url(#gL)"><circle cx="36.4" cy="25.2" r="2.4"/><circle cx="39.8" cy="20.4" r="2.3"/></g><g fill="url(#gY)"><circle cx="61.2" cy="11.7" r="2"/><circle cx="46.1" cy="46.1" r="2"/><circle cx="62.9" cy="63.3" r="1.9"/><circle cx="64.3" cy="53.1" r="1.5"/><circle cx="65.3" cy="3" r="2.5"/></g><g fill="url(#gL)"><circle cx="12.9" cy="58.7" r="1.8"/></g><g fill="url(#gY)"><circle cx="51.3" cy="20.8" r="1.4"/><circle cx="63.4" cy="-0.2" r="1.8"/></g><g fill="url(#gL)"><circle cx="43.9" cy="61.3" r="2.5"/><circle cx="29.4" cy="60.9" r="2.3"/><circle cx="70.4" cy="-1.7" r="1.8"/><circle cx="6.9" cy="6.9" r="2.4"/><circle cx="36.6" cy="47.4" r="2.1"/></g><g fill="url(#gY)"><circle cx="51.2" cy="57.3" r="1.8"/></g><g fill="url(#gL)"><circle cx="58" cy="28.7" r="1.8"/><circle cx="26.2" cy="8.2" r="2.4"/><circle cx="10.5" cy="8.5" r="2.1"/><circle cx="21.9" cy="29.6" r="1.6"/><circle cx="55" cy="16.2" r="2.6"/><circle cx="44.8" cy="5.9" r="2.3"/></g><g fill="url(#gY)"><circle cx="53.5" cy="48.7" r="2.1"/></g><g fill="url(#gL)"><circle cx="40.8" cy="62.3" r="2.4"/><circle cx="7.3" cy="9.8" r="1.5"/><circle cx="43.3" cy="26.7" r="2.4"/></g><g fill="url(#gY)"><circle cx="66.2" cy="6.6" r="1.5"/></g><g fill="url(#gL)"><circle cx="46" cy="59" r="1.7"/></g><g fill="url(#gY)"><circle cx="17.2" cy="51.9" r="2.2"/><circle cx="48.8" cy="1.3" r="2.5"/></g><g fill="url(#gL)"><circle cx="15.9" cy="68.3" r="1.8"/><circle cx="25" cy="38.6" r="1.8"/><circle cx="57.7" cy="24.4" r="1.8"/><circle cx="42.4" cy="7.3" r="1.4"/><circle cx="51" cy="7" r="2.5"/><circle cx="10.1" cy="8.1" r="2.2"/></g><g fill="url(#gY)"><circle cx="-1.6" cy="37.4" r="1.7"/></g><g fill="url(#gL)"><circle cx="22.1" cy="23.9" r="2"/><circle cx="5.7" cy="21.6" r="2.3"/><circle cx="58.8" cy="3.8" r="2.3"/></g><g fill="url(#gY)"><circle cx="59.3" cy="39.2" r="2.1"/><circle cx="3.6" cy="67.8" r="2.3"/></g><g fill="url(#gL)"><circle cx="55.7" cy="5.9" r="2"/></g><g fill="url(#gY)"><circle cx="53.8" cy="51.1" r="1.9"/><circle cx="48.8" cy="53.6" r="2.2"/><circle cx="23.7" cy="34" r="1.9"/><circle cx="19.5" cy="23.1" r="2.6"/></g><g fill="url(#gL)"><circle cx="47.1" cy="61.5" r="1.9"/><circle cx="1.1" cy="57.3" r="2.2"/></g><g fill="url(#gY)"><circle cx="19.5" cy="57.3" r="2.1"/></g><g fill="url(#gL)"><circle cx="25.9" cy="47" r="2.2"/><circle cx="13.3" cy="41.7" r="2.4"/></g><g fill="url(#gY)"><circle cx="31.6" cy="15.4" r="1.5"/></g><g fill="url(#gL)"><circle cx="55.2" cy="22.8" r="2.4"/></g><g fill="url(#gY)"><circle cx="46.3" cy="29.9" r="2.5"/><circle cx="23.3" cy="21.1" r="2.5"/></g><g fill="url(#gL)"><circle cx="62.7" cy="26.7" r="1.6"/><circle cx="8.5" cy="46.9" r="2"/><circle cx="11.2" cy="39" r="1.8"/><circle cx="68.8" cy="63.1" r="1.5"/><circle cx="28.8" cy="74.2" r="2.3"/></g><g fill="url(#gY)"><circle cx="33.6" cy="20.1" r="2.1"/></g><g fill="url(#gL)"><circle cx="2.8" cy="62.4" r="2.5"/><circle cx="11.5" cy="29.9" r="2.4"/><circle cx="50" cy="9.2" r="1.7"/><circle cx="39.6" cy="56.7" r="1.9"/></g><g fill="url(#gY)"><circle cx="64.4" cy="-1.3" r="2.1"/><circle cx="47.2" cy="15.8" r="1.8"/><circle cx="64.6" cy="9.8" r="2"/><circle cx="52.9" cy="52.7" r="2.1"/><circle cx="2.2" cy="-1.7" r="2"/><circle cx="60.4" cy="3.5" r="1.5"/></g><g fill="url(#gL)"><circle cx="11.9" cy="40.8" r="2.4"/><circle cx="24.2" cy="8.4" r="1.5"/></g><g fill="url(#gY)"><circle cx="31.5" cy="49.6" r="1.6"/></g><g fill="url(#gL)"><circle cx="25" cy="62.6" r="2.1"/><circle cx="53.6" cy="9.7" r="2.3"/></g><g fill="url(#gY)"><circle cx="21.9" cy="20.6" r="1.7"/><circle cx="63.9" cy="36.3" r="2.4"/><circle cx="39" cy="33.5" r="2.3"/></g><g fill="url(#gL)"><circle cx="46" cy="9.7" r="2.3"/></g><g fill="url(#gY)"><circle cx="46.2" cy="-0.2" r="2.2"/></g><g fill="url(#gL)"><circle cx="37" cy="20.9" r="2.3"/></g><g fill="url(#gY)"><circle cx="3.4" cy="60.3" r="2.4"/><circle cx="15.9" cy="18.1" r="2.5"/></g><g fill="url(#gL)"><circle cx="2.9" cy="48.5" r="1.4"/><circle cx="58.4" cy="63.3" r="2.3"/><circle cx="65" cy="25.5" r="1.6"/><circle cx="6.5" cy="48.1" r="1.8"/></g><g fill="url(#gY)"><circle cx="47.5" cy="73.2" r="2.2"/><circle cx="4.5" cy="61.3" r="2.2"/><circle cx="46.1" cy="19" r="2.3"/></g><g fill="url(#gL)"><circle cx="16.6" cy="28.8" r="1.5"/></g><g fill="url(#gY)"><circle cx="37.2" cy="29.1" r="2.3"/></g><g fill="url(#gL)"><circle cx="12.5" cy="71.9" r="1.8"/><circle cx="69.6" cy="53.8" r="2.1"/></g><g fill="url(#gY)"><circle cx="43" cy="32.2" r="2.4"/><circle cx="0.9" cy="35.8" r="1.5"/></g><g fill="url(#gL)"><circle cx="54.3" cy="58.6" r="1.8"/><circle cx="51.2" cy="38.4" r="2.1"/></g><g fill="url(#gY)"><circle cx="17.2" cy="14.5" r="2.5"/></g><g fill="url(#gL)"><circle cx="9.9" cy="40.2" r="1.8"/></g><g fill="url(#gY)"><circle cx="16" cy="16.8" r="2.2"/></g><g fill="url(#gL)"><circle cx="19" cy="30.1" r="1.4"/><circle cx="42.8" cy="8.3" r="2.1"/></g><g fill="url(#gY)"><circle cx="33.4" cy="40.2" r="2.4"/><circle cx="8" cy="73.4" r="2"/></g><g fill="url(#gL)"><circle cx="22.7" cy="9.4" r="2.2"/></g><g fill="url(#gY)"><circle cx="49.9" cy="59.8" r="1.5"/></g><g fill="url(#gL)"><circle cx="13" cy="5" r="2.2"/><circle cx="58.9" cy="33.3" r="2.4"/></g><g fill="url(#gY)"><circle cx="18.9" cy="53.4" r="2.6"/></g><g fill="url(#gL)"><circle cx="5.7" cy="14" r="1.8"/></g><g fill="url(#gY)"><circle cx="32.9" cy="36.6" r="2"/></g><g fill="url(#gL)"><circle cx="30.7" cy="54.7" r="2.4"/><circle cx="-0.8" cy="50.8" r="1.8"/><circle cx="66" cy="43.8" r="1.4"/></g><g fill="url(#gY)"><circle cx="29.7" cy="12.2" r="1.8"/><circle cx="54.3" cy="50" r="1.8"/></g><g fill="url(#gL)"><circle cx="42.1" cy="61.6" r="2.5"/><circle cx="41.5" cy="24.2" r="1.9"/></g></pattern>
  <filter id="soft" x="-2%" y="-2%" width="104%" height="104%"><feGaussianBlur stdDeviation="0.35"/></filter>
  <filter id="cs" x="0" y="0" width="100%" height="100%" color-interpolation-filters="sRGB">
    <feTurbulence type="fractalNoise" baseFrequency="0.15" numOctaves="2" seed="8" result="n"/>
    <feDiffuseLighting in="n" surfaceScale="2.6" diffuseConstant="1.2" lighting-color="#fff" result="l"><feDistantLight azimuth="225" elevation="48"/></feDiffuseLighting>
    <feComposite in="SourceGraphic" in2="l" operator="arithmetic" k1="1.08" k2="0" k3="0" k4="0" result="m"/>
    <feGaussianBlur in="m" stdDeviation="0.35"/>
  </filter>
</defs>

<!-- Panel B -->
<g id="panelB">
<mask id="mL" maskUnits="userSpaceOnUse" x="0" y="540" width="270" height="370"><g filter="url(#rough)" fill="#fff"><path d="M126 566 L138 561 L150 565 L153 576 L149 587 L140 594 L134 605 L131 622 L115 624 L116 608 L121 596 L123 582 Z"/><path d="M45 763 L44 783 L48 798 L54 811 L57 823 L59 838 L61 853 L63 864 L72 877 L83 886 L100 890 L115 888 L124 880 L133 868 L137 860 L135 838 L135 820 L138 805 L140 787 L138 760 L125 750 L120 763 L116 778 L111 796 L103 812 L107 827 L109 846 L107 858 L96 864 L87 862 L85 853 L91 842 L85 831 L83 818 L78 801 L70 781 L67 760 L50 755 Z"/><path d="M150 622 L176 628 L195 633 L208 639 L221 652 L234 665 L241 682 L238 695 L231 708 L228 724 L221 737 L208 750 L202 763 L189 766 L173 763 L156 766 L137 763 L124 763 L108 750 L98 730 L92 712 L110 700 L130 680 L150 660 L160 640 Z"/></g></mask>
<mask id="mG" maskUnits="userSpaceOnUse" x="0" y="540" width="270" height="370"><g filter="url(#rough2)" fill="#fff"><path d="M44 648 L53 649 L60 656 L66 668 L80 690 L95 705 L98 712 L95 717 L98 730 L108 750 L121 763 L111 769 L92 773 L69 769 L49 763 L36 756 L27 743 L23 727 L25 708 L30 695 L40 692 L44 675 L40 666 Z"/></g></mask>
<mask id="mR" maskUnits="userSpaceOnUse" x="0" y="540" width="270" height="370"><g filter="url(#rough2)" fill="#fff"><path d="M108 615 L131 612 L150 620 L163 628 L168 640 L169 653 L166 661 L150 669 L140 675 L131 685 L121 695 L114 704 L111 714 L101 716 L92 708 L79 698 L69 692 L62 685 L56 675 L46 672 L43 666 L53 662 L62 653 L72 643 L85 630 L95 620 Z"/></g></mask>
<g mask="url(#mL)"><rect x="0" y="540" width="270" height="370" fill="url(#pL)" filter="url(#cs)"/></g>
<g mask="url(#mG)"><rect x="0" y="540" width="270" height="370" fill="url(#pG)" filter="url(#cs)"/></g>
<path d="M96 716 C105 700 118 688 135 676 C148 668 160 662 169 655" fill="none" stroke="#1a1020" stroke-width="5" stroke-opacity="0.45" filter="url(#blur2)"/>
<path d="M56 674 C66 686 80 698 95 710" fill="none" stroke="#0a200a" stroke-width="4" stroke-opacity="0.35" filter="url(#blur2)"/>
<g mask="url(#mR)"><rect x="0" y="540" width="270" height="370" fill="url(#pR)" filter="url(#cs)"/></g>
</g>
<!-- Panel C -->
<g id="panelC"><path d="M382 566l-12 24-12 26-9 18-9 14" fill="none" stroke="#4a4c5e" stroke-width="9.4" stroke-linecap="round" stroke-linejoin="round"/><path d="M379.3 561.6L384.7 570.4M376.1 567.9L381.5 576.8M373 574.2L378.3 583.1M369.8 580.6L375.2 589.5M366.5 587L372.2 595.8M363.5 593.5L369.2 602.2M360.6 599.9L366.2 608.7M357.6 606.4L363.3 615.1M354.7 612.7L360.1 621.6M351.6 619.1L356.9 627.9M348.4 625.4L353.8 634.3M345.5 631.4L349.9 640.8M341.6 637.3L346 646.7M337.8 643.3L342.2 652.7" stroke="#7c7eb8" stroke-width="2.6" stroke-linecap="round"/><path d="M381.5 565.1L383.9 569.1M378.3 571.5L380.7 575.5M375.1 577.8L377.5 581.8M371.9 584.1L374.4 588.2M368.8 590.5L371.3 594.5M365.8 597L368.4 600.9M362.8 603.4L365.4 607.3M359.9 609.9L362.4 613.8M356.9 616.3L359.3 620.3M353.7 622.6L356.1 626.6M350.5 629L353 633M347.2 635.1L349.2 639.4M343.4 641.1L345.4 645.3M339.6 647.1L341.5 651.3" stroke="#a4a6d8" stroke-width="1.3" stroke-linecap="round"/><path d="M303 713l-6 21-5 21 0 28 5 22 6.7 22.5 6.8 20.3 5.9 18.6-.4 10.6" fill="none" stroke="#4a4c5e" stroke-width="11.0" stroke-linecap="round" stroke-linejoin="round"/><path d="M298.8 708.7L307.2 717.3M296.9 715.5L305.3 724M294.9 722.3L303.3 730.8M293 729.1L301.4 737.6M291.2 736.1L299.9 744.2M289.5 742.9L298.3 751.1M287.9 749.8L296.7 757.9M286.8 757.9L297.2 763.8M286.8 765L297.2 770.8M286.8 772L297.2 777.9M286.8 779L297.2 784.9M287.6 787.2L299.1 790.6M289.2 794L300.6 797.5M290.7 800.9L302.2 804.3M292.5 808.1L304.1 810.7M294.5 814.8L306.1 817.5M296.5 821.6L308.2 824.2M298.5 828.5L310.3 830.8M300.8 835.2L312.5 837.4M303 841.8L314.7 844.1M305.2 848.4L316.9 850.9M307.4 855.1L319.1 857.6M309.5 861.9L321.2 864.3M311.2 866.8L321.4 873.1M310.9 873.9L321.1 880.1" stroke="#7c7eb8" stroke-width="2.9" stroke-linecap="round"/><path d="M302.2 712.1L305.9 716M300.2 718.9L304 722.7M298.3 725.7L302.1 729.5M296.4 732.5L300.1 736.3M294.7 739.3L298.6 743M293 746.2L297 749.8M291.4 753L295.3 756.7M291 760.3L295.6 762.9M291 767.3L295.6 770M291 774.4L295.6 777M291 781.4L295.6 784M292.2 788.5L297.3 790.1M293.8 795.4L298.9 796.9M295.3 802.3L300.5 803.8M297.1 809.1L302.4 810.3M299.2 815.9L304.4 817.1M301.2 822.6L306.4 823.8M303.2 829.4L308.5 830.4M305.5 836.1L310.8 837.1M307.7 842.7L313 843.8M309.9 849.4L315.2 850.5M312.1 856.1L317.3 857.2M314.2 862.8L319.4 863.9M315.2 869.3L319.8 872.2M315 876.4L319.6 879.2" stroke="#a4a6d8" stroke-width="1.4" stroke-linecap="round"/><path d="M378 778l-6.5 12-6.8 12-3.3 17-1.7 19 0 18 0 19-1.7 16" fill="none" stroke="#4a4c5e" stroke-width="11.0" stroke-linecap="round" stroke-linejoin="round"/><path d="M374.8 772.9L381.2 783.1M371.3 779.4L377.7 789.5M367.9 785.7L374.1 796M364.3 792.1L370.5 802.3M359.8 799.9L368.9 807.6M358.4 807.1L367.5 814.8M357 814.2L366.1 822M355.9 822L365.7 828.8M355.3 829.3L365.1 836M354.5 837L364.9 842.9M354.5 844.3L364.9 850.2M354.5 851.6L364.9 857.5M354.5 858.9L364.9 864.8M354.5 866.2L364.9 872.1M354.7 873L364.4 879.9M353.9 880.3L363.6 887.2M353.1 887.5L362.9 894.5" stroke="#7c7eb8" stroke-width="2.9" stroke-linecap="round"/><path d="M377.4 777L380.2 781.5M373.9 783.4L376.7 788M370.4 789.8L373.2 794.4M366.8 796.2L369.6 800.8M363.4 803L367.5 806.5M362.1 810.2L366.1 813.6M360.7 817.3L364.8 820.8M359.8 824.7L364.3 827.7M359.2 832L363.6 835M358.7 839.3L363.3 842M358.7 846.7L363.3 849.3M358.7 854L363.3 856.6M358.7 861.3L363.3 863.9M358.7 868.6L363.3 871.2M358.6 875.8L362.9 878.9M357.8 883L362.2 886.2M357 890.3L361.4 893.4" stroke="#a4a6d8" stroke-width="1.4" stroke-linecap="round"/><path d="M316.0 877.0 C315.3 877.8 312.3 879.5 312.0 882.0 C311.7 884.5 312.6 889.8 314.0 892.0 C315.4 894.2 319.0 894.2 320.7 895.3 C322.4 896.4 322.3 897.5 324.0 898.6 C325.7 899.7 329.1 903.1 330.8 902.0 C332.5 900.9 333.1 892.6 334.2 892.0 C335.3 891.4 336.5 896.4 337.6 898.6 C338.7 900.8 339.3 904.5 341.0 905.4 C342.7 906.2 345.8 904.8 347.8 903.7 C349.8 902.6 351.5 900.0 352.9 898.6 C354.3 897.2 355.4 896.6 356.3 895.3 C357.2 894.0 357.7 891.7 358.0 891.0" fill="none" stroke="#4a4c66" stroke-width="2.4" stroke-linejoin="round"/><path d="M316.0 877.0 C315.3 877.8 312.3 879.5 312.0 882.0 C311.7 884.5 312.6 889.8 314.0 892.0 C315.4 894.2 319.0 894.2 320.7 895.3 C322.4 896.4 322.3 897.5 324.0 898.6 C325.7 899.7 329.1 903.1 330.8 902.0 C332.5 900.9 333.1 892.6 334.2 892.0 C335.3 891.4 336.5 896.4 337.6 898.6 C338.7 900.8 339.3 904.5 341.0 905.4 C342.7 906.2 345.8 904.8 347.8 903.7 C349.8 902.6 351.5 900.0 352.9 898.6 C354.3 897.2 355.4 896.6 356.3 895.3 C357.2 894.0 357.7 891.7 358.0 891.0" fill="none" stroke="#a4a6cc" stroke-width="1.2" stroke-linejoin="round"/><path d="M398 645l27-3 20 13 10 25-3 32-12 28-20 20-25 5-25-13-8-27 8-20 15-13 7-22z" fill="#7e809e" opacity="0.5"/><g fill="none" stroke-linecap="round" stroke-linejoin="round"><path d="M356 714.2l-.4 5.9M361.9 723.9l-1.6-5.3-6 .3M393.1 761.2l-6.4 2.9-4.1 .9M407.5 668.4l6.9-.5 2.6-5.2 8.9-.1 6.8 3 3.7 2.9M404.4 739.3l-6.1-2.6-5.9-2.9-4.5 .3-1.3 8.7 6.3 4.7 2.9 5.8M413.4 635.6l7.7-2.3 2.2 4 6.6-.1 5.5 2M424.5 747.5l-.1 4.4 1 6.6-3.7 5.3M414 766.4l-2.1-6-6.1-1.2-4-7.5-2.9-4.7-7-1.1-1.1-4.5M384.3 738.1l1.1 8.6 0 7.5 5.3 4.8M428.9 709.8l-7.2 2.2-8.1-3.8-4.4 5.6-5.1 1.2-3.7 2-1.3 5.8M431.1 724.4l1.4 5.4 3.5 5.9-.4 5.6-4.1 3.1-5.2 .2-3.3-2.6M457.9 723.2l-6.4 4.2-5 .1-4.1 3.1-5.3-3.8-2.5-4.3M389.6 742.3l6.5-2.8 4.7-4.4 0-5.7 5.2-6.3M409.7 685.9l3.7-2.4 6-2.4 5.4 .7 2.8 3.4 7.2 .7M401.7 689l7.8 .5 2.3 4.9 6.4-1.3 6.8-.6M374.8 740.9l4.3-1.7 4.6 2.9-.4 5.1-2.4 7.9 3.7 5.6" stroke="#8a8eb8" stroke-width="1.3"/><path d="M456.3 680l4 3.2 2 3.5 5.5 4.5M421.2 669.3l-5.5-6-2.5-4.9-7.5-1.4-2.7 4.4-5.4 6.2-4.7 2.8M476.7 701.3l-3.8-1.6-4.5-4.5-.9-5.5 4.2-1.4 7.6-1.4M401.7 652.9l-.9-5.6 5.6-3.3 1.9-5.7M470.8 688.1l-4.4 1.4-6.5 5.5 1.8 3.9-6.5 4.9 1.1 6.3M381.5 758.7l-1.2 5.5M438.2 709.3l-.9-7.6 5.9-6.2 1.3-5.4 5-.8M432.9 705.6l3.5-3 4.8-.2 1.8 4.3 5.1 4.2 5.9 2M386.9 672.3l-6.5-2.1 .9-7.2 3.6-2.4 7.5-2.3-.1-8.7M467.5 711.1l1.7-5.8 2.5-6.6-.1-5.4 2.7-6.2-1.4-7.5-2.8-2.9M460.3 697.3l2.3-7.4-.1-4.7-6.8-4.6-3.5-4.1M439.9 749.4l1.6 4.2 7.7 .3 1.7 4 .2 4.7M373.2 679l-3.9 8.1 1.4 6.5 7.3 2.9 4.3-6.9M443.5 735.4l6.2-1 4.2 1.7 5.5-7 3.6-7 .3-8.1 4.4-1.6M455.5 751.9l-6.3-3.2-3.3-6.3-6.6-4.4-8.8 1.1-5.3 .2M398.2 727l5.6-.9 3.3-3 5.3-.8 5.4-.1 5.1-5 5.1-4.6M356.5 709.1l6.5-1.2 4.6-5 1.9-7M384.7 759.5l6.2 2.4 5.2-2 4.1-3.1-2.4-8.2 6.2-3.8 5.4 2.8M381.9 741l-6 5.2 1.2 6.5-3.5 1.9" stroke="#9a9cc6" stroke-width="1.3"/><path d="M440.3 721.9l-1.5 4 6.9 4.9 4.9 6.2M411.5 755l-7.3-.9-5.4 0-1.6-8.8 5.3-5.4 1.3-5M399.5 732l3.4 2.4 3.3 2.4 2.8 5.2 4.2-1.2 .6-4.6-3.2-5.2M440.1 705.4l2.4-6.9-3.6-6.7 2.8-6.6 4.3-2.7 7.5 4.7M480.5 699.5l-1.3-6-3-4.1-5.9-4.1-3.9 3.2-3.4 4.7M415.2 774.9l-4.5-4.1-7.8 2.8M411.8 729.5l-7.4-.8-7.4 2-3.8-2.7-4.7-.1-6.5 .2M445.8 704.2l-2.3-4.1-6.1-4.6-4.4-1.3-4.4-5.2 3.9-7.7M475.6 667.9l.2 5.6 2.3 6.2 6.9 4.7M439.5 745.3l-1.1 3.9-1.7 7.9 1.6 4.7M448.6 754l-.1 5 4.7 2.1M387.9 760.9l-3.5 5.9" stroke="#7c80ac" stroke-width="1.3"/><path d="M481.5 702.6l-4.4 2-6-5.4-5-.1-6.7-5.6-8.6 1.4-4.3-5.6M406.8 737.5l4.5-.5 5 7.4-2.2 3.7 .9 8.7 3.2 4M448.1 703.4l5.9 1 8.5-2.6 6.4 1.2 7.2 2.2M403 645l-7.4 1.2M406.3 765l5.4 3.6 8.3 2.8 5.6 5.4M460.2 688.2l-2.4-3.6 4.7-7 8.6 .7 5.2-.4M388.4 736.6l1.8 4-1.8 6.5-1.2 3.9 2.7 4.2 .6 7.9 .9 4M423 655l0-6 1.4-8.9 2.5-3.5M443.2 741l2.5-3.2 2.2-7.2-2.8-6.2M436.7 768.9l4.5-5.2-2.1-4.4-3.3-3.2-5.2-1.3-7.1-1.2M413.3 690.9l-2.4-7 2-5.5 4.4-6.7-3.4-3.6M406.4 704.6l6.6 2.8 4.7 6.2-.4 6.4-8.1 1.1-3.9-4.7M478.8 680.2l-1.7-5.3-7.7-.1-3.2-7-1.3-7.6-4.5-5.3-4.3 1.5" stroke="#a4a6c8" stroke-width="1.3"/><path d="M413.1 713.7l6.7-4.7 .8-8 .1-7.1-4.7-4.1-6.4 1.9-4.9-5.1M417.7 731.6l-6.5 4.4-4 4.4-3.9 8 6.8 4.9M464.2 687.9l-6.1-5.5-2.7-5 2.3-4.9 4.9-5.5 .7-5.7M444.4 661.1l-7-3.3-3.6-2.2-7.7 1.8-8.7 1M435 742.4l2.1 8.4-1.6 4.3-1.7 7-5.8 1M422 731l-7.4 1.1-5.2-3.3-6.1-5.5-3-3.7-5-7-7.1-1.9M380.1 756.2l5 0 6.5 .7 3.8 1.7-.9 6.5 1 7.9M449.7 667.7l-3.7-2.8-4.1-3.2-6.6 1.2-5.5 2-5.5 3.7-.1 5.1M365 715.2l2.5 6-2 6.2-3.7 3.3 1.6 4.2 6.7-.5M406.7 660.5l3.8 2.3 .6 8.3-7.7 4.2M411.1 749.2l3.8 8.1-1.4 6.4 6.7 4.7 5.5-4.9 7.1-3.7" stroke="#8c8c98" stroke-width="1.3"/><g stroke="#3c3e54" stroke-width="3.3"><path id="cl1" d="M379.7 725.4l-1.2 .6-.9 .1-.1-.3 .7-.5 1.3-.3 1.5 0 1.1 .6 .4 1-.5 1.2-1 1-1.2 .6-.9 .1-.1-.3 .7-.5 1.4-.3 1.4 0 1.1 .6 .4 1-.5 1.2-1 1-1.2 .6-.9 .1-.1-.3 .8-.5 1.3-.3 1.4 0 1.1 .6 .4 1.1-.5 1.1-1 1-1.2 .6-.9 .1 0-.3 .7-.5 1.3-.3 1.5 .1 1.1 .6 .3 1-.5 1.1-1 1.1-1.2 .5-.8 .1-.1-.3 .7-.5 1.3-.3 1.5 .1M368.1 729.9l-.7-2.1 0-1.4 .7 .1 .6 1.6 .1 2.5-.8 2.2-1.5 1.3-1.9-.3-1.7-1.7-1.1-2.2-.2-1.8 .5-.4 .7 1 .3 2.3M361.9 744.6l1.1 1.4 .4 1.1-.5 .2-.8-.9-.8-1.7-.2-1.9 .6-1.5 1.3-.6 1.7 .5 1.5 1.2 1 1.4 .1 .8-.5 0-.9-1.1-.7-1.8 0-1.9 .8-1.3 1.4-.3 1.7 .6 1.4 1.4 .8 1.3 0 .7-.7-.3M380.3 716.7l-.2-1.9 .3-1.1 .5 .1 .2 1.3-.3 1.9-.9 1.9-1.4 .9-1.5-.3-1.3-1.4-.6-2 0-1.8 .4-.7 .4 .5 .1 1.6-.5 2-1.1 1.6M460.6 704.4l1.3-.3 .9 0 0 .4-.8 .3-1.3 .1-1.4-.4-.9-.7-.2-1.1 .6-1 1.2-.8 1.3-.4 .9 .1 0 .3-.8 .4-1.3 0-1.4-.3-1-.8-.1-1 .6-1.1 1.3-.8 1.2-.3 .9 0 0 .4-.8 .3-1.3 .1-1.4-.4-1-.8-.1-1 .6-1 1.3-.8 1.2-.4 .9 .1 0 .3-.8 .4-1.3 0-1.4-.3-1-.8-.1-1 .6-1.1 1.3-.8 1.2-.3 .9 0 0 .4-.8 .3-1.3 .1-1.4-.4M455 720.8l-1.2 1.4-1.1 .5-.2-.4 .7-1 1.6-1 1.9-.5 1.6 .3 .8 1.3-.2 1.7-1 1.8-1.2 1.2-.9 .2 0-.6 1-1 1.7-1 1.9-.3 1.4 .6 .6 1.4-.5 1.8-1.1 1.7-1.2 .9-.7 .1 .3-.8 1.2-1.1 1.8-.8 1.9-.1 1.2 .8 .3 1.6-.7 1.8-1.2 1.5-1.1 .8M421.2 644.7l.6-2.2 .8-1.1 .5 .3-.3 1.5-1.1 2-1.7 1.7-1.9 .5-1.6-.8-.8-2.1 0-2.4 .7-2 .8-.8 .3 .6-.4 1.7-1.3 2-1.8 1.5-1.9 .2-1.4-1.2-.6-2.2 .2-2.4 .7-1.7M445.1 736.5l.4 1.5-.1 1-.4 .1-.4-1 0-1.5 .4-1.7 1-1.1 1.2-.2 1.2 .8 .9 1.5 .4 1.5-.1 1-.4 0-.3-.9-.1-1.6 .5-1.6 .9-1.2 1.2-.1 1.3 .8 .9 1.4 .4 1.6-.1 .9-.4 .1-.4-1-.1-1.5 .5-1.7 .9-1.1 1.3-.2 1.2 .8 .9 1.5 .4 1.5-.1 1-.4 0M451.1 764.6l-.1 1.7-.4 1-.4-.2-.1-1.2 .5-1.7 1.1-1.5 1.4-.6 1.3 .5 .9 1.4 .3 1.9-.2 1.5-.5 .5M406.7 667.2l-.3 1.9-.6 1-.4-.3 .1-1.3 .9-1.9 1.4-1.5 1.6-.4 1.4 .8 .7 1.8 0 2.1-.5 1.6-.5 .4-.3-.8 .5-1.7 1.1-1.8 1.6-1.1 1.5 .2 1.2 1.3M425.1 698.7l-1.1 1.2-.9 .4-.3-.3 .7-.9 1.5-1 1.7-.4 1.5 .3 .7 1.2-.2 1.6-.9 1.6-1.2 1-.8 .3 0-.6 .9-.9 1.6-.9 1.7-.3 1.3 .6 .5 1.3-.4 1.6-1 1.5-1.1 .9-.7 0 .2-.6 1.1-1 1.7-.8 1.7 0 1.1 .7 .3 1.4-.6 1.7M433.9 772.8l-1.9-1.3-.8-1.2 .6-.3 1.4 .9 1.5 1.9 .8 2.3-.4 1.9-1.6 1-2.4-.2-2.2-1.1-1.3-1.4M438.3 689.5l.7 1.1 .1 .9-.3 .1-.5-.7-.4-1.3 0-1.4 .5-1.2 1-.4 1.2 .4 1 1 .7 1.2 .1 .8-.3 .1-.5-.7-.4-1.3 0-1.4 .5-1.2 1-.4 1.2 .4 1.1 1 .6 1.2 .2 .8-.4 .1-.5-.7-.4-1.3 0-1.4 .6-1.2 1-.3 1.2 .4 1 1 .7 1.1 .1 .8-.3 .1-.6-.7-.4-1.3 .1-1.4 .5-1.1 1-.4 1.2 .4 1.1 1 .6 1.2 .1 .8-.3 .1-.5-.8-.4-1.3 0-1.4 .6-1.1 1-.4 1.2 .4M427.4 715l-1.5 1.4-1.2 .4-.2-.5 1.1-1.1 2-1 2.3-.2 1.6 .8 .5 1.7-.7 2-1.5 1.8-1.5 .9-.7-.1 .5-.9 1.6-1.1M465.1 738.9l-1.3 .9-.9 .1 0-.4 .8-.6 1.5-.5 1.7 .1 1.1 .7 .2 1.2-.7 1.4-1.2 1.1"/></g><use href="#cl1" stroke="#8a8eb8" stroke-width="1.8"/><use href="#cl1" stroke="#e4e6f8" stroke-width="0.6" stroke-opacity="0.45" transform="translate(-0.4 -0.5)"/><g stroke="#3c3e54" stroke-width="3.3"><path id="cl2" d="M381.9 677.1l-.7-1.6 0-1 .5 .1 .5 1.1 .2 1.8-.5 1.8-1.1 .9-1.4-.1-1.3-1.2-.9-1.6-.2-1.3 .3-.4M415.3 663.9l-2.2-.4-1.1-.7 .2-.5 1.5 .1 2 .9 1.8 1.6 .7 1.9-.8 1.6-1.8 .9-2.4 .1-2-.5-.9-.7 .5-.4 1.6 .3 2.1 1.1 1.6 1.7 .4 1.8-1 1.5-2.1 .8-2.4 0-1.8-.6-.6-.7 .8-.3 1.8 .5 2.1 1.2 1.3 1.7 .2 1.8-1.3 1.4-2.2 .6M394.7 751l.6 1.7 0 1-.4 .1-.5-1-.2-1.8 .3-1.8 1-1.2 1.3-.2 1.4 .8 1.1 1.6 .5 1.6-.1 .9-.5-.1-.4-1.2-.2-1.8 .5-1.7 1-1.1 1.4-.1 1.4 1.1 1 1.6 .4 1.5-.2 .8-.5-.3M457.9 685l1.5-1.1 1.1-.4 .2 .5-.9 .8-1.7 .8-2 .3-1.6-.6-.7-1.4 .4-1.7 1.3-1.6 1.4-1.1 1.1-.2 0 .5-1 .9-1.9 .7-2 .1-1.5-.7-.5-1.4 .6-1.7 1.3-1.6 1.5-1 .9-.1-.1 .6-1.2 .9-1.9 .7-2 0-1.3-.8-.4-1.5 .7-1.8 1.4-1.5 1.4-.8 .8 0-.3 .7M453.8 669.1l-1.5-.1-.9-.4 .2-.3 1-.1 1.4 .5 1.3 1 .6 1.2-.3 1.1-1.3 .8-1.6 .3-1.4-.2-.6-.4 .3-.4 1.1 .1 1.5 .6 1.2 1.1 .4 1.2-.6 1.1-1.3 .6-1.7 .2-1.2-.3-.5-.4 .6-.3 1.2 .2 1.5 .7 1.1 1.1 .1 1.3-.7 1-1.5 .5-1.6 .1-1.1-.3-.3-.5 .8-.1M413.2 742.6l-1.3-1.2-.5-1 .3-.3 .9 .6 1 1.5 .6 1.8-.2 1.6-1 1-1.7 0-1.7-.8-1.3-1.2-.5-1 .3-.3 .9 .6 1.1 1.5 .5 1.8-.2 1.6-1 1-1.7-.1-1.7-.8-1.3-1.2-.5-1 .3-.2 1 .6 1 1.5 .6 1.8-.3 1.6-1 .9-1.7 0-1.7-.8-1.3-1.2-.5-1 .3-.3 1 .7 1 1.5 .6 1.8M473.2 714.7l.3-1.5 .5-.8 .3 .1 0 1-.6 1.5-1.1 1.2-1.3 .6-1.2-.5-.7-1.3-.1-1.6 .3-1.5 .5-.7 .3 .3-.1 1.1-.7 1.5-1.2 1.1-1.3 .5-1.1-.6-.6-1.4-.1-1.7 .4-1.4 .5-.5 .2 .4-.2 1.2-.7 1.4-1.2 1.2-1.3 .2-1.1-.7-.5-1.4 0-1.7 .4-1.3 .4-.4 .3 .5-.3 1.3-.9 1.4-1.2 1-1.3 .2-1-.9M453.1 713.9l1.4 1.7 .4 1.3-.5 .3-1.1-1.1-.9-2.1-.2-2.4 .7-1.8 1.6-.7 2.1 .5 1.9 1.6 1.2 1.7 .1 1.1-.6-.1-1.1-1.3-.8-2.2 0-2.3 .9-1.7 1.8-.4 2.1 .8 1.7 1.7 1 1.6 0 .9-.8-.3-1.1-1.6-.7-2.3 .2-2.3 1.1-1.4 1.9-.1M415.4 687.9l1.8 1 .9 .9-.3 .4-1.3-.5-1.6-1.4-1.2-1.9-.1-1.8 1.1-1.3 1.9-.3 2.2 .5 1.7 1 .7 .9-.6 .2-1.4-.7-1.5-1.5-1-1.9 .1-1.8 1.2-1.1 2.1-.2 2.2 .6 1.5 1.1M380.3 702.1l-2.2-.6-1.2-.9 .3-.5 1.6 .3 2 1.2 1.7 1.8 .5 2-1 1.5-2.1 .8-2.5-.1-2-.7-.7-.8 .7-.3 1.7 .5 2.1 1.4 1.4 1.9 .1 1.9-1.3 1.4-2.4 .5-2.4-.3M420.4 740.2l0-2 .4-1.1 .5 .1 .1 1.2-.4 1.9-1 1.9-1.5 1-1.5-.3-1.2-1.4-.6-2 0-1.9 .5-1 .4 .3 .1 1.4-.4 1.9-1.2 1.8-1.5 .8-1.5-.4-1.1-1.6-.5-2 .1-1.8 .5-.8 .4 .4 0 1.6-.5 1.9-1.2 1.7M389.1 685.9l-1.3 1-1 .4-.2-.3 .7-.8 1.5-.8 1.7-.3 1.5 .3 .7 1.1-.2 1.5-.9 1.5-1.3 1.1-.9 .4-.3-.4 .8-.8 1.4-.8 1.8-.3 1.4 .4 .7 1.1-.2 1.5-.9 1.5-1.3 1.1-.9 .3-.2-.4 .7-.8 1.5-.7 1.8-.3 1.4 .4 .7 1.1-.3 1.5-1 1.5-1.2 1-.9 .4-.2-.4 .8-.8 1.5-.8 1.7-.3 1.5 .4 .6 1.2-.3 1.5M430 749.8l.5 2-.1 1.2-.5-.1-.5-1.4 0-2.1 .8-2 1.3-1.1 1.7 .2 1.4 1.5 .9 2 .2 1.7-.4 .6-.5-.7-.3-1.8 .4-2.2 1-1.7 1.6-.5 1.6 .9 1.2 1.8 .6 2M390.6 735.9l-1.4 .5-1-.1 0-.4 1-.4 1.5-.1 1.6 .5 1 .9 .1 1.2-.9 1.2-1.4 .8-1.4 .3-.8-.1 .1-.4 1.1-.4 1.6 .1 1.5 .5 .9 1-.1 1.2-1 1.1-1.5 .8-1.3 .2-.6-.2 .3-.4 1.2-.3 1.6 .1 1.4 .6 .8 1-.3 1.3-1.1 1.1-1.5 .6-1.3 .2-.4-.3 .5-.4 1.3-.3 1.6 .2 1.4 .7 .5 1.1-.4 1.3-1.2 1-1.5 .6-1.2 0-.3-.3M397.5 735.8l.1-2.2 .5-1.3 .5 .1 .2 1.5-.6 2.1-1.3 2-1.7 1-1.7-.4-1.2-1.6-.6-2.3 .1-2.1 .6-1.1 .5 .3 0 1.6-.7 2.2-1.3 1.9-1.8 .8-1.6-.6-1.2-1.8-.4-2.4 .2-1.9 .6-.9 .4 .6 0 1.7-.8 2.2-1.5 1.8M398.2 762.9l-2-.5-.9-.8 .2-.4 1.3 .2 1.8 1.1 1.4 1.6 .5 1.7-.9 1.4-1.8 .7-2.1-.2-1.8-.6-.7-.7 .5-.4 1.4 .5 1.8 1.2 1.3 1.6 .1 1.7-1 1.3-2 .5-2.1-.3-1.6-.7-.5-.7 .8-.2 1.6 .6 1.7 1.4 1 1.7 0 1.6-1.3 1.1M400.1 729.5l-.2-1.6 .3-1 .4 0 .3 1.1-.2 1.7-.8 1.6-1.2 1-1.3-.2-1.1-1.1-.7-1.7-.1-1.6 .3-.8 .4 .2 .2 1.2-.3 1.7-.8 1.6-1.2 .8-1.3-.3-1.1-1.3-.6-1.7 0-1.5 .3-.7 .4 .4 .2 1.3-.4 1.7-.9 1.5-1.3 .6-1.3-.4-1-1.4-.5-1.8 .1-1.4 .4-.5M438.5 649.1l1.4-.2 .9 .1 0 .4-.9 .3-1.4-.1-1.5-.6-.9-.9-.1-1.2 .9-1.1 1.5-.7 1.4-.2 .8 .2 0 .4-1 .3-1.5-.2-1.4-.6-.9-.9 0-1.2 1-1 1.4-.7 1.4-.2 .8 .2-.1 .4-1 .2-1.5-.1-1.5-.6-.8-1M380.9 738.2l-1.2-1.4-.4-1.2 .5-.1 1 1 .8 1.9 .1 2-.7 1.5-1.6 .5-1.8-.7-1.5-1.4-.9-1.4 .1-.7 .7 .4 1 1.4 .5 2-.2 1.9-1.1 1.1-1.8-.1M466.3 691l.9 1 .3 .7-.3 .2-.6-.5-.7-1.2-.3-1.4 .3-1.1 .8-.6 1.3 .1 1.2 .7 .9 1 .2 .7-.3 .2-.6-.6-.7-1.1-.2-1.4 .3-1.2 .8-.6 1.3 .2 1.2 .8 .8 .9 .3 .8-.3 .1-.7-.6-.6-1.2-.3-1.4 .3-1.1 .9-.6 1.3 .2 1.2 .8 .8 1 .2 .7-.3 .1-.7-.6-.6-1.3-.2-1.3 .3-1.2 .9-.5 1.3 .3 1.2 .7M452.1 661.2l1.9-.3 1.2 .3 0 .5-1.3 .3-2.1-.2-1.9-.8-1.1-1.4 .1-1.6 1.4-1.4 2-.8 1.9-.1 .9 .3-.4 .5-1.5 .3-2.1-.4-1.8-1-.8-1.4 .4-1.6 1.6-1.3 2-.6 1.7 0 .7 .4-.7 .5-1.7 .1-2.1-.5M419 692.6l-2.1-.8-1-.9 .3-.5 1.4 .4 1.9 1.3 1.6 1.8 .3 2-.9 1.5-2.1 .7-2.4-.3-2-.8-.8-.9 .6-.3 1.6 .5 1.9 1.5 1.3 1.9 .2 1.9-1.2 1.4-2.2 .5-2.5-.4-1.7-.9-.5-.8M359.7 717.3l.7-1.7 .8-.8 .3 .5-.5 1.3-1.3 1.5-1.7 .9-1.6-.1-.9-1.3-.1-2 .6-1.9 .8-1M480.7 680.8l-1.9 1.1-1.4 .2-.2-.5 1.1-.9 2.2-.6 2.4 0 1.9 .9 .6 1.6-.7 2-1.7 1.8-1.9 1.1-1.3 .2-.2-.6 1.3-.9 2.2-.6 2.4 0 1.8 1 .6 1.7-.8 2"/></g><use href="#cl2" stroke="#9a9cc6" stroke-width="1.8"/><use href="#cl2" stroke="#e4e6f8" stroke-width="0.6" stroke-opacity="0.45" transform="translate(-0.4 -0.5)"/><g stroke="#3c3e54" stroke-width="3.3"><path id="cl3" d="M397.4 770.5l1.5 .1 .9 .4-.2 .4-1 0-1.4-.5-1.3-1-.6-1.2 .4-1.1 1.2-.8 1.6-.2 1.4 .2 .6 .4-.3 .3-1.2-.1-1.5-.6-1.1-1-.4-1.2 .6-1.1 1.4-.6 1.6-.2 1.3 .3 .4 .4-.6 .3-1.3-.3-1.5-.7-1-1.1-.1-1.2 .8-1 1.5-.5 1.6 0M368.1 734.4l-1.8 0-1-.4 .1-.5 1.2-.1 1.8 .5 1.6 1 .8 1.4-.3 1.4-1.4 1.1-2 .4-1.7-.1-.8-.5 .4-.4 1.4 0 1.8 .6 1.5 1.2 .6 1.4-.6 1.4-1.6 .9-1.9 .3-1.6-.2-.6-.5 .6-.3 1.5 .1 1.9 .7 1.3 1.2 .4 1.5-.8 1.3-1.7 .8-2 .2-1.4-.3M425.2 667.6l-.6-1.6 0-1 .4 0 .5 1 .2 1.7-.4 1.8-1 1.1-1.3 .1-1.4-.9-1-1.5-.4-1.5 .2-.8 .4 .2 .5 1.2 0 1.8-.5 1.7-1.1 .9-1.4-.1-1.3-1.1-.8-1.6-.3-1.4 .2-.6 .5 .5 .4 1.4-.1 1.8-.6 1.6-1.2 .7-1.4-.4-1.2-1.3-.8-1.6-.1-1.3 .3-.3 .5 .7 .3 1.6-.2 1.8-.8 1.4-1.3 .4-1.3-.6M467.2 663l-1.5-1.4-.5-1.1 .4-.2 1.1 .8 1.2 1.7 .5 2.1-.4 1.7-1.3 .9-2-.3-1.9-1.1-1.3-1.3-.2-.9 .7 .1 1.2 1.1 1 1.9 .3 2.1M467.3 689.3l-1.9 .1-1.2-.3 0-.5 1.2-.2 2 .3 1.8 .9 1.2 1.4-.1 1.5-1.3 1.3-2 .8-1.9 .1-1.1-.4 0-.5 1.3-.2 1.9 .3 1.9 .9 1.1 1.5-.2 1.5-1.2 1.3-2 .7-1.9 .1-1.1-.4 0-.4 1.3-.3 1.9 .4 1.9 .9 1.1 1.4-.2 1.5-1.3 1.3-2 .7-1.9 .1-1.1-.3M386.5 736.8l1.2-.9 .9-.2 .2 .3-.7 .7-1.5 .6-1.6 .1-1.3-.5-.5-1.1 .4-1.4 1.1-1.3 1.2-.8 .8-.1 0 .4-.9 .7-1.5 .6-1.6 0-1.2-.6-.3-1.2 .6-1.4 1.1-1.3 1.2-.6 .6 0-.1 .5M428.4 684.6l-1.1 1.3-.9 .5-.2-.3 .5-.9 1.3-1 1.7-.7 1.5 .1 .9 .9 .1 1.6-.7 1.6-1 1.3-.9 .5-.2-.3 .6-.9 1.3-1.1 1.7-.6 1.5 .1 .9 1 0 1.6-.7 1.6-1 1.3-.9 .5-.2-.4 .6-1 1.4-1 1.7-.6 1.4 .1 .9 1.1 0 1.5-.7 1.7-1 1.2-.9 .5-.1-.4 .6-1 1.4-1.1M363 695.3l-1.2-1.2-.4-1 .5-.1 .9 .9 .9 1.6 .2 1.8-.6 1.4-1.4 .4-1.7-.5M474.2 672.6l-1.2-1-.5-.8 .3-.3 .9 .6 .9 1.3 .6 1.6-.1 1.4-1 .9-1.5 0-1.6-.8-1.2-1-.4-.8 .4-.2 .9 .7 1 1.3 .5 1.6-.3 1.4-1 .8-1.6-.1-1.5-.8-1.1-1-.4-.8 .5-.1 .9 .8 1 1.4 .4 1.6-.3 1.4-1.1 .6-1.6-.2-1.6-.8-1-1-.2-.7 .5 0 1 .8 .9 1.4 .3 1.7-.4 1.2-1.2 .6M387.3 704.5l-.5-1.8 .1-1.2 .4 0 .5 1.1 .1 2-.5 1.9-1.2 1.3-1.5 .2-1.5-1.1-1-1.7-.5-1.8 .2-1.1 .5 .1 .4 1.3 .1 2-.7 1.9M364 751.1l1.5 1.4 .6 1.1-.5 .3-1.1-.9-1.2-1.8-.6-2.2 .5-1.8 1.4-.9 2.1 .3 2 1.2 1.3 1.4 .2 .9-.7 0-1.3-1.2-1-2.1-.3-2.1 .8-1.6 1.7-.5 2.1 .6 1.8 1.3 1 1.4-.1 .6-.9-.4-1.3-1.5-.9-2.1 .1-2.1M372.1 722.8l-.2-1.6 .2-1 .4 0 .3 1.1-.1 1.7-.7 1.6-1.2 1-1.3 0-1.2-1.1-.7-1.7-.2-1.6 .3-.9 .4 .3 .2 1.2-.2 1.7-.8 1.6-1.2 .9-1.3-.3-1.1-1.2-.6-1.8-.1-1.5 .3-.6 .4 .4 .2 1.3-.3 1.8-.9 1.5-1.2 .7-1.4-.5-1-1.4-.6-1.7M419.5 749.1l-1.1-1.1-.4-.9 .3-.2 .8 .6 .8 1.4 .4 1.6-.3 1.4-1 .7-1.4-.2-1.5-.8-1-1.1-.4-.8 .4-.2 .9 .7 .8 1.4 .3 1.7-.4 1.3-1.1 .6-1.4-.2-1.5-.9-1-1.1-.2-.8 .5 0 .8 .8 .8 1.4 .3 1.6-.5 1.3-1.2 .5-1.5-.3-1.4-.9-.9-1.1-.1-.7 .5 0 .9 .9 .7 1.5 .2 1.6M446.8 746.9l.9 1.3 .2 1-.4 .1-.6-.8-.5-1.5-.1-1.7 .6-1.3 1.2-.5 1.4 .5 1.3 1.2 .7 1.3 .2 .9-.5 0-.6-.9-.5-1.6 .1-1.7 .7-1.2 1.2-.3 1.4 .6 1.2 1.2 .7 1.3 0 .8-.5-.1-.6-1.1-.4-1.6M424 703.8l-1.6-1.4-.7-1.1 .5-.3 1.3 .9 1.3 1.8 .6 2.2-.4 1.8-1.6 .9-2.1-.3-2-1.1-1.3-1.4-.1-.8 .9 .3 1.4 1.3 1.1 2.1 .2 2.1-1 1.4-1.9 .4-2.2-.8M426.4 749.8l-1 1-.8 .3-.2-.3 .6-.8 1.3-.7 1.6-.3 1.2 .4 .5 1-.3 1.4-.9 1.3-1 .8-.7 .2 .1-.5 .8-.8 1.4-.6 1.5-.1 1.1 .6 .3 1.1-.5 1.4-1 1.2-1 .7-.5-.1 .3-.6 1.1-.7 1.4-.6M371.2 724.8l-1.8-.1-1-.5 .1-.4 1.2-.1 1.8 .6 1.6 1.1 .7 1.4-.5 1.4-1.5 1-1.9 .3-1.6-.2-.7-.5 .5-.4 1.4 .1 1.8 .8 1.4 1.2 .4 1.5-.8 1.2-1.7 .8-1.9 .2-1.5-.4M372 747.1l.2 1.4-.2 .8-.3 0-.2-.9 .1-1.4 .5-1.3 .9-.8 1.1 .1 1 .8 .6 1.4 .1 1.3-.2 .7-.4-.2-.2-1 .2-1.4 .6-1.3 1-.6 1.1 .2 .9 .9 .5 1.4 .1 1.2-.3 .6-.3-.3-.2-1.1 .3-1.4 .7-1.2 1-.6 1 .4 .9 1.1 .4 1.4 0 1.1-.2 .4-.4-.4M381.5 690l-1.7-1.3-.7-1 .4-.4 1.1 .6 1.4 1.6 .9 2-.1 2-1.1 1.2-1.9 .1-2.2-.7-1.6-1.3-.7-1.1 .4-.3 1.1 .6 1.4 1.6 .9 2.1-.1 1.9-1.2 1.2-1.9 .1-2.1-.8-1.6-1.2-.7-1.1 .4-.3 1.1 .6 1.4 1.6 .8 2.1M451.9 727.9l1.2 1.5 .4 1.2-.5 .1-1-1.1-.7-1.9-.2-2.1 .8-1.5 1.6-.4 1.8 .7 1.6 1.5 .8 1.4-.1 .8-.7-.5-1-1.5-.5-2.1 .3-1.9"/></g><use href="#cl3" stroke="#7c80ac" stroke-width="1.8"/><use href="#cl3" stroke="#e4e6f8" stroke-width="0.6" stroke-opacity="0.45" transform="translate(-0.4 -0.5)"/><g stroke="#3c3e54" stroke-width="3.3"><path id="cl4" d="M376.1 746.9l-1.2 1-.9 .2-.2-.3 .7-.7 1.4-.6 1.7-.2 1.3 .5 .6 1-.3 1.4-1 1.3-1.2 .9-.9 .3-.2-.4 .7-.7 1.5-.6 1.6-.1 1.3 .4 .6 1.1-.4 1.4-1 1.3-1.2 .9-.9 .2-.1-.4 .8-.7 1.4-.6 1.7-.1 1.3 .5 .5 1.1-.4 1.4-1 1.3-1.3 .9-.8 .2-.1-.4 .8-.7M429.8 760.4l-1.2 .7-.8 .2-.1-.3 .8-.6 1.3-.4 1.4 0 1.1 .6 .3 1.1-.5 1.2-1.1 1-1.1 .6-.7 0 .2-.4 .9-.6 1.4-.3 1.4 .2 .9 .7 0 1.1-.7 1.2-1.1 .9-1 .4-.5-.1 .3-.5 1.1-.5 1.5-.2 1.3 .3M445.8 750l2-.4 1.3 .2-.1 .6-1.4 .3-2.1-.1-2.1-.9-1.1-1.4 .2-1.7 1.4-1.4 2.1-.9 1.9-.2 .9 .4-.5 .5-1.6 .3-2.2-.4-1.9-1-.8-1.6 .6-1.6 1.7-1.3 2.2-.7 1.6 .1 .5 .4-.9 .5-1.9 .1-2.2-.6-1.6-1.2-.4-1.6 1-1.6M407.7 686.3l-1.3 .4-.9 0 0-.3 .8-.4 1.4-.1 1.4 .3 1 .8 .1 1.1-.7 1.1-1.3 .8-1.2 .3-.8-.1 .1-.4 1-.3 1.4-.1 1.4 .5 .8 .8 0 1.1-.9 1.1-1.2 .7-1.2 .3-.7-.2 .3-.4 1.1-.3 1.4 0 1.3 .5 .7 .9-.1 1.1-1 1.1-1.3 .6-1.1 .2-.5-.2 .4-.4 1.1-.3 1.5 .1 1.3 .6 .5 1-.3 1.1-1 1-1.4 .5-1 .1-.3-.2 .5-.4 1.2-.2 1.5 .1 1.2 .7 .4 1-.5 1.1M408.9 666.6l1.8 .3 .9 .5-.2 .4-1.2-.1-1.7-.7-1.4-1.3-.6-1.5 .6-1.3 1.6-.8 1.9-.1 1.6 .4 .7 .6-.4 .3-1.4-.2-1.7-.9-1.3-1.4-.3-1.5 .9-1.2 1.7-.6 1.9 0 1.5 .5 .4 .5-.7 .2-1.5-.4-1.6-1-1.1-1.4-.1-1.5 1.1-1.1 1.8-.5 1.9 .2 1.3 .5 .1 .5-.9 .1M391.7 683.5l-1.3 .4-.8-.1-.1-.3 .8-.4 1.4-.1 1.4 .4 1 .8 .1 1-.8 1.1-1.2 .8-1.3 .3-.7-.1 .2-.4 1-.3 1.4 0 1.3 .4 .8 .9-.1 1-.8 1.1-1.3 .7-1.2 .2-.5-.2 .3-.4M417.7 668.1l1.9 1.1 .8 1.1-.5 .4-1.4-.8-1.6-1.7-1-2.2 .3-2 1.5-1.1 2.3 .1 2.2 .9 1.5 1.2 .2 .8-1.1-.1-1.6-1.3-1.4-2.1-.4-2.1 .9-1.6 2-.6M403 673.9l1.9 .6 .9 .8-.2 .4-1.3-.3-1.7-1-1.4-1.6-.4-1.7 .8-1.3 1.8-.7 2.1 .2 1.7 .6 .7 .7-.5 .3-1.4-.4-1.7-1.1-1.2-1.7-.1-1.7 1-1.2 1.9-.4 2.1 .2 1.5 .7 .5 .7-.7 .2-1.6-.6-1.6-1.3-1.1-1.7 .1-1.6 1.3-1.1 2-.3 2 .4 1.4 .8 .2 .6M435.6 723.3l-1-1.2-.3-1 .4-.1 .7 .8 .7 1.5 .2 1.7-.6 1.3-1.2 .5-1.5-.4-1.3-1.1-.8-1.3-.1-.7 .5 .1 .7 1 .6 1.6 0 1.6-.7 1.2-1.3 .2-1.5-.6-1.3-1.2-.6-1.2 .1-.6 .6 .4 .7 1.2 .5 1.7-.2 1.6-.9 .9-1.4 0M383 732.8l-1.8 .4-1.1-.2 0-.4 1.1-.4 1.9 .1 1.9 .6 1.1 1.3 0 1.4-1.2 1.4-1.8 .8-1.7 .3-1-.3 .3-.4 1.3-.4 2 .2 1.8 .8M377.1 758.1l-1.3 .6-.9 0 0-.4 .9-.4 1.5-.2 1.6 .3 .9 .9 .1 1.2-.9 1.2-1.4 .8-1.2 .4-.6-.2 .4-.5 1.2-.4 1.6 0 1.4 .6 .6 1M468.5 661.7l-1.8-1.1-.8-1.1 .4-.4 1.2 .6 1.4 1.4 1.1 2 .1 1.9-1.1 1.3-1.8 .3-2.2-.6-1.7-1.1-.8-1 .3-.4 1.2 .6 1.5 1.4 1 2 .1 1.9-1 1.3-1.9 .3-2.2-.6-1.7-1.1-.8-1 .4-.4 1.2 .5M444.2 671.7l0 1.4-.4 .8-.3-.1-.1-.9 .5-1.4 .8-1.2 1.1-.6 1.1 .3 .7 1.1 .3 1.5-.1 1.3-.4 .6-.3-.3 0-1.1 .6-1.3 .9-1.2 1.1-.3 1 .5 .7 1.2 .1 1.5-.2 1.2-.4 .4-.2-.5 .1-1.2 .7-1.4 1-1 1.1-.2 .9 .8 .6 1.3 .1 1.5-.3 1-.4 .2-.2-.7 .3-1.3 .7-1.3 1.1-.8M465.6 743.9l.4 2.3-.3 1.4-.6-.3-.4-1.8 .4-2.5 1.1-2.1 1.8-.9M398.1 655.5l-1-.8-.5-.7 .3-.2 .8 .4 .8 1.1 .5 1.4-.1 1.2-.8 .7-1.3-.1-1.4-.5-.9-.9-.4-.6 .4-.1 .8 .5 .8 1.2 .4 1.4-.2 1.1-.9 .6-1.4-.2-1.3-.6-.8-.9-.2-.5 .4 0 .9 .7 .7 1.2 .4 1.3-.4 1.1M420.3 745.2l1 .9 .4 .8-.3 .2-.7-.5-.8-1.2-.4-1.4 .2-1.3 .9-.6 1.3 .1 1.4 .7 .9 1 .3 .7-.4 .1-.7-.7-.8-1.2-.3-1.4 .3-1.2 1-.5 1.3 .2 1.3 .7 .9 1 .2 .6-.5 .1-.7-.8-.7-1.3-.3-1.4 .5-1.1 1-.5 1.4 .3 1.2 .9 .8 .9 .1 .6-.5-.1-.8-.8-.7-1.4-.1-1.4 .5-1 1.1-.4 1.4 .4 1.2 .9 .6 .9 .1 .5-.6-.2"/></g><use href="#cl4" stroke="#a4a6c8" stroke-width="1.8"/><use href="#cl4" stroke="#e4e6f8" stroke-width="0.6" stroke-opacity="0.45" transform="translate(-0.4 -0.5)"/><g stroke="#3c3e54" stroke-width="3.3"><path id="cl5" d="M374.1 696.7l-.6-1.3-.1-.9 .4-.1 .5 .8 .2 1.4-.1 1.6-.7 1.1-1.2 .3-1.2-.6-1-1.2-.5-1.3-.1-.8 .4-.1 .5 .9 .2 1.5-.2 1.5-.7 1.1-1.1 .2-1.3-.7-.9-1.2-.6-1.3 .1-.8 .4 .1 .4 .9 .3 1.5-.3 1.5-.8 1-1.1 .2-1.2-.7-1-1.3-.5-1.3 .1-.7 .4 .1 .5 1M395.9 756.5l1.4 1.5 .4 1.1-.5 .1-1.1-1-.9-1.9-.2-2.1 .7-1.5 1.6-.5 2 .7 1.6 1.3 .9 1.4-.2 .7-.8-.5-1.1-1.6-.6-2.1M422.6 637.9l.8-1.4 .7-.6 .3 .2-.3 .9-1.1 1.2-1.4 .8-1.4 .1-1-.7-.3-1.4 .3-1.6 .8-1.3 .8-.7 .3 .3M422.6 704.6l1.6 .8 .8 .9-.3 .3-1.2-.4-1.4-1.3-.9-1.7-.1-1.6 .9-1.1 1.8-.3 1.9 .5 1.5 .9 .5 .8-.5 .2-1.2-.6-1.4-1.4-.8-1.7 .1-1.6 1.2-.9 1.8-.2 1.9 .7 1.3 .9 .3 .7-.6 0-1.3-.7-1.3-1.5-.7-1.8 .3-1.4 1.3-.8 1.9 0 1.8 .7M425.7 668.1l1.5-.5 .9 .1 .1 .4-.9 .4-1.6 .1-1.6-.3-1.2-.9-.1-1.2 .7-1.3 1.4-.9 1.5-.5 .9 .1 0 .4-1 .4-1.6 .1-1.7-.4-1-.9-.1-1.3 .9-1.2 1.4-.9 1.4-.4 .9 .1-.2 .5-1.1 .4-1.6 0-1.6-.4-.9-1 0-1.3 .9-1.2 1.5-.9 1.4-.3 .7 .2-.2 .4-1.2 .4-1.7 0-1.5-.5M364.5 752.9l-1.2 .8-.9 .2-.1-.3 .8-.7 1.4-.5 1.6 0 1.2 .6 .4 1.1-.6 1.4-1.1 1.2-1.2 .6-.7 0 .2-.5M378.7 692.2l-.5-1.8 .2-1.1 .4 0 .4 1.2 0 1.9-.6 1.8-1.2 1.1-1.5 0-1.3-1.2-.9-1.8-.3-1.7 .3-.8 .5 .4 .3 1.4-.2 2-.8 1.7-1.3 .8-1.5-.4-1.2-1.4-.8-1.9-.1-1.5 .4-.5 .5 .7 .2 1.7-.4 1.9-.9 1.6-1.4 .5-1.5-.8-1.1-1.6-.6-1.8M471.8 687.1l.9 1.2 .3 .8-.4 .1-.7-.7-.6-1.4-.1-1.5 .5-1.2 1.1-.5 1.3 .5 1.3 1 .7 1.1 .1 .7-.5-.2-.7-.9-.5-1.5 0-1.6 .7-.9 1.2-.2 1.4 .6 1.1 1.2 .6 1M392.7 755.9l0-1.4 .3-.8 .3 .1 .1 .9-.3 1.3-.7 1.3-1 .7-1.1-.3-.8-1-.4-1.4 0-1.3 .3-.6 .4 .2 0 1-.4 1.4-.8 1.2-1.1 .5-1-.4-.7-1.1-.3-1.5 .1-1.2 .3-.4 .3 .4 0 1.1-.5 1.4-.9 1.1-1.1 .3-1-.6-.7-1.2-.2-1.5 .2-1 .4-.3 .2 .6-.1 1.2-.6 1.4-.9 1-1.1 .1-1-.7-.5-1.4-.2-1.4M403 730.8l-1.3 .3-.8-.1 0-.3 .9-.3 1.4 0 1.3 .5 .8 .9 0 1.1-.9 .9-1.3 .7-1.2 .2-.7-.2 .3-.4 1-.2 1.4 .1 1.3 .6 .6 1-.2 1.1-1.1 .9-1.3 .5-1.1 .1-.5-.3 .5-.3 1.2-.2 1.4 .3 1.2 .7 .4 1M471.6 696.2l-1.2 1.1-.9 .3-.1-.4 .8-.8 1.6-.7 1.7-.2 1.2 .6 .4 1.3-.5 1.5-1.1 1.4-1.2 .7-.6-.1 .4-.6 1.3-.9 1.7-.5 1.5 .2 .9 1-.1 1.5-.9 1.5M462.5 690.4l-.5 1.9-.8 1-.4-.3 .3-1.4 1-1.8 1.6-1.4 1.7-.3 1.3 .9 .6 1.8-.1 2.2-.6 1.6-.7 .6-.2-.8 .5-1.6 1.3-1.7 1.7-1.1 1.6 .1 1.1 1.3 .3 2.1-.3 2.1-.8 1.2-.5 .1 .1-1.2 .8-1.7 1.5-1.6M385.6 661.2l-2.1-.3-1.1-.7 .3-.4 1.5 .1 2.1 .9 1.6 1.6 .5 1.8-.8 1.5-2 .8-2.4 .1-1.7-.6-.6-.6 .9-.3 1.9 .5 1.9 1.2 1.3 1.7-.1 1.8-1.4 1.2M423.6 748.9l1.6 .3 1 .5-.2 .4-1.2-.1-1.6-.7-1.4-1.2-.5-1.4 .5-1.3 1.5-.7 1.9-.2 1.5 .4 .7 .6-.4 .3-1.3-.3-1.7-.8-1.2-1.3-.3-1.4 .8-1.2 1.6-.6 1.9 0 1.4 .5 .4 .5-.7 .2-1.4-.4-1.6-1-1.1-1.3 0-1.4 1-1.1 1.8-.4 1.8 .1 1.2 .5 .1 .5-.9 .1M436 699.2l-1.9-.6-.9-.7 .3-.4 1.4 .3 1.7 1.1 1.4 1.6 .2 1.7-.9 1.3-2 .5-2.1-.2-1.6-.7-.4-.7 .8-.1 1.6 .6 1.7 1.4 1 1.7"/></g><use href="#cl5" stroke="#8c8c98" stroke-width="1.8"/><use href="#cl5" stroke="#e4e6f8" stroke-width="0.6" stroke-opacity="0.45" transform="translate(-0.4 -0.5)"/></g><g fill="none" stroke-linecap="round" stroke-linejoin="round"><path d="M406.1 750.7l1.6 8.2-7.3 4.3M435.3 721l4.4-5.6 6.2-6 3.9-1.5M438.6 700.9l1.7 4.1-.7 4.7-5.6 4.8M403.4 752.4l5.2-2.5 6.7 3.6 2.9 5.3" stroke="#7c80ac" stroke-width="1.4"/><path d="M420.5 704.1l-6.2 4.6-6.2-.3-8.2 .3M381.2 719.4l7.4-5.1 4.7-6.6 7.6-3.1 4.8 5.5M426.6 664.2l4.8-2.5 2.3-5.2 3.8-4-2.5-3.6-7.5-.9M383 700.7l.2 6.3 5.8 1.8 6-1.8 3 4.5 .4 7.4 4.2 4.3M423.6 704.7l-4.7 2.2-3.4 2.6-.7 6.2-1.7 6.1-4.3 1.4M375.4 711.4l2.7 3.1 8-1 6.5 3.8M389.4 718.1l-3.6 8.1-6 5.6 2.7 5.5 5.2-.4 3.5-7.8-.3-6.5M414.8 703.6l5.2-1.3 5.1 .1 3.3-7.2 .8-7.2-1.5-4.3-5.2-4.2M416.8 741.3l4.4-3.1 4.4-.6 2.7 7.7" stroke="#9a9cc6" stroke-width="1.4"/><path d="M399.4 748.7l4.7-1.4 5 6.2 4.5-.5 1.9-5-1.5-4.6-5.8 .2M417.2 748.5l-3.4 7.4-6.8 1.2-4.5 .1-2.1-3.9-4.6-3.7M423 739.2l7.4-3.4 4.2-1.7 3.6 1.7M411.1 709.3l-7.5 1.1-.7 5.8-6.5 1.2-7.6 .8M417.6 687.4l1.3 6.3 1.2 7.7 4.4 .8" stroke="#6e7090" stroke-width="1.4"/><path d="M396.9 708.6l5.9 2.1 4.1-1.1 .4-5.6M404.2 708l5.7-6.8-.2-4.5-1.6-7.7 3.3-2.8M413.1 753.4l4.5-1.9 5.6-6.6 4.6 2 6-1.2M375.6 719.6l-2.2 4.2 2.5 3.7 3.1 5.3 2.4 3.9 8.4-.4 1.5 4.2M391.4 724.5l3.7-8.1 1.1-8.1 3.9-6.4 4 1.6M447.8 668l-4.3-1.9-.7-6.3-6-.9-7.3 1.4M407.9 726.8l1.8 7.5 6.4 2.7 5.2-2.4 1.1-5.7 2.9-5.9 .9-6.8" stroke="#a8aad0" stroke-width="1.4"/><g stroke="#303244" stroke-width="3.5"><path id="cl6" d="M412.9 722.5l1 1.4 .3 1-.4 .1-.8-.8-.6-1.7-.1-1.8 .7-1.4 1.3-.4 1.5 .5 1.4 1.3 .8 1.3 .1 .9-.6-.2-.8-1.1-.5-1.8 .2-1.8 .8-1.1 1.4-.2 1.6 .8 1.2 1.4 .6 1.3-.1 .5-.7-.4-.7-1.4-.4-1.8 .4-1.6 1-.9 1.5 .1 1.5 1 1.1 1.4 .4 1.1-.3 .3-.7-.7-.7-1.5M416.5 656.6l.4 2.2-.3 1.4-.6 0-.4-1.4 .2-2.3 .8-2.3 1.6-1.4 1.8 0 1.6 1.5 1 2.2 .3 2.2-.3 1.2-.6-.2-.3-1.7 .2-2.3 1-2.2 1.6-1.2 1.8 .2M377.2 752.6l.6 2.3-.1 1.4-.6 0-.6-1.4 0-2.4 .7-2.4 1.5-1.5 1.8-.1 1.8 1.4 1.2 2.3 .5 2.1-.3 1.2-.6-.4-.5-1.7 .1-2.5 .9-2.3 1.6-1.2 1.9 .3 1.7 1.7 1 2.3 .3 2-.4 .8-.7-.7-.4-2 .3-2.5 1.1-2.1 1.7-.8 1.9 .6M444.9 655.9l-1.6 1.6-1.1 .4-.1-.7 1.3-1.2 2.2-1.1 2.3-.1 1.5 1 .2 2M424.4 705l.9-2 .9-1 .5 .3-.4 1.4-1.4 1.8-1.9 1.4-2 .4-1.4-1-.6-2 .3-2.4 .9-2 .9-.8 .4 .5-.5 1.5-1.5 1.8-1.9 1.3-2 .2-1.3-1.2-.5-2.1 .4-2.4 1-1.8 .9-.6 .2 .6-.7 1.6-1.5 1.8-2 1.1M416.1 712l.6-1.7 .7-.8 .4 .3-.4 1.2-1.1 1.5-1.5 1.1-1.6 .2-1.1-1-.3-1.7 .3-1.9 .8-1.4 .6-.3 .1 .7-.7 1.4-1.3 1.4-1.6 .8-1.5-.4M389.8 680.7l2.2-.5 1.3 .1-.1 .6-1.5 .5-2.4 0-2.2-.9-1.3-1.5 .3-1.8 1.6-1.6 2.2-1 1.9-.2 .8 .4M416 758.9l-.7 2.2-.9 1.1-.5-.3 .4-1.5 1.3-2.1 1.9-1.5 2-.5 1.6 1.1 .7 2.2-.3 2.5-.8 2-.9 .7-.3-.6 .6-1.8M449.3 698.8l-1.3-1-.6-.9 .3-.3 1 .6 1.1 1.3 .6 1.7-.1 1.6-1.1 .9-1.6 0-1.7-.7-1.2-1.1-.5-.8 .5-.2 1 .7 1 1.4 .6 1.7-.3 1.5-1.1 .8-1.7-.1-1.6-.8M434.2 706.3l.7 1.6 .1 1-.5 0-.6-1.1-.2-1.7 .3-1.8 1-1.1 1.4-.1 1.4 1 1 1.6 .4 1.4-.2 .5-.6-.5-.5-1.5 0-1.9 .7-1.5 1.2-.6 1.4 .5 1.3 1.3M416.2 746.5l-.8-2.3 .1-1.5 .7 .1 .6 1.7 .1 2.5-.8 2.5-1.5 1.3-2-.2-1.9-1.7-1.1-2.3-.3-2 .4-.7 .7 1 .4 2.2-.3 2.7M420.3 650l-.1 1.6-.4 .9-.4-.1-.1-1.2 .5-1.5 1-1.5 1.3-.6 1.3 .4 .8 1.4 .3 1.7-.2 1.5-.4 .6-.4-.4 .1-1.3 .7-1.6 1.1-1.3 1.3-.3 1.2 .7 .7 1.5 .1 1.8-.3 1.2-.5 .4-.2-.8 .3-1.4 .8-1.6 1.2-1M389.9 711.1l-1.1-1.4-.4-1 .4-.2 .9 .9 .8 1.6 .3 1.9-.6 1.5-1.3 .6-1.7-.4-1.5-1.2-1-1.3-.1-.9 .6 .1 .9 1.2 .7 1.7 0 1.9-.7 1.3-1.5 .3-1.7-.7-1.4-1.3-.8-1.3 .1-.6 .8 .4 .9 1.4 .5 1.9-.2 1.7-1 1-1.5 0-1.7-.9-1.3-1.3-.5-1.1M406.5 654.1l2.1-.3 1.3 .3-.2 .5-1.4 .3-2.2-.3-2-.9-1-1.6 .3-1.6 1.6-1.4 2.2-.7 1.8-.1 .8 .5-.6 .5-1.8 .1M422 691.3l-.3-1.9 .3-1.2 .5 0 .3 1.2-.2 2-.8 1.9-1.3 1.2-1.6 0-1.4-1.2-.8-2-.3-1.9 .3-1.2 .5 .1 .3 1.2-.2 2-.8 1.9-1.4 1.2-1.5 0-1.4-1.3-.8-1.9-.2-2 .3-1.1 .5 .1 .2 1.3-.2 1.9-.9 2-1.3 1.1-1.6-.1-1.3-1.3-.9-1.9-.1-1.9M408.3 720.6l.6 1.8-.1 1.2-.5-.1-.5-1.2 0-1.9 .5-2 1.2-1.2 1.5 .1 1.5 1.2 1 1.8 .3 1.7-.3 .8-.5-.5-.4-1.5 .2-2.1 .8-1.7 1.3-.8 1.5 .4 1.4 1.5 .7 1.9 .1 1.4M417.9 691.5l-.3 2-.7 1.1-.4-.2 0-1.3 .8-1.9 1.4-1.7 1.7-.8 1.5 .6 1 1.6 .3 2.3-.4 1.9-.7 1-.4-.4 .1-1.4 .9-1.9 1.5-1.7 1.7-.6 1.5 .7M410.1 682.3l2.3 .4 1.3 .7-.3 .6-1.7-.2-2.2-1-1.9-1.7-.6-2 .9-1.6 2.2-1 2.5-.1 2 .6 .7 .7-.8 .4-2-.5-2.2-1.3-1.5-1.9 0-1.9 1.4-1.4 2.4-.7 2.5 .2 1.6 .7 .1 .7M430.3 724.9l-.9-1.6-.2-1.1 .5-.1 .7 1.1 .5 1.8-.2 2-.9 1.3-1.5 .3-1.6-.9-1.3-1.5-.6-1.5 .1-.8 .6 .3 .7 1.5 .2 2-.4 1.8-1.2 1-1.5-.2-1.6-1.2-1.1-1.6-.3-1.3 .3-.4 .7 .7 .6 1.7M424.1 725.7l1 2.1 .2 1.4-.6 .2-.8-1.3-.6-2.2 .2-2.5 1.1-1.9 1.7-.5 2 .9 1.7 1.8 1 2.1 .1 1.3-.7 0-.8-1.4-.5-2.3 .3-2.5 1.1-1.7 1.8-.4M380.6 714.7l-1.5 .2-.9-.1 0-.4 .9-.3 1.5 .1 1.5 .6 1 .9 0 1.2-.9 1.1-1.4 .7-1.5 .2-.9-.1 0-.4 .9-.3 1.5 .1 1.5 .6 1 1 0 1.2-.9 1-1.4 .7-1.5 .3-.9-.2 0-.4 1-.3 1.5 .1 1.5 .6 .9 1 0 1.2M417.9 693.7l0 1.7-.3 .9-.4-.1-.2-1.1 .4-1.7 .9-1.5 1.3-.7 1.2 .3 1 1.3 .4 1.8-.1 1.5-.4 .6-.3-.4 0-1.4 .5-1.6 1.1-1.4 1.3-.4 1.2 .7 .8 1.5 .2 1.7M388.1 740.4l-.2 1.5-.4 .8-.4-.2 .1-1 .6-1.4 1-1.2 1.3-.5 1.1 .4 .7 1.3 .1 1.7-.3 1.4-.5 .6-.3-.4 .2-1.1 .7-1.5 1.1-1.1 1.3-.3 1 .7 .6 1.4 0 1.7-.4 1.2M367.4 730.5l-1.3 1.5-1 .6-.2-.5 .9-1.2 1.7-1.1 2-.5 1.6 .5 .7 1.5-.4 2-1.2 1.8-1.2 1-.6 0 .3-.9 1.4-1.3 2-.8 1.9 0M439.6 700.8l1-2.2 1.1-1 .4 .5-.6 1.5-1.6 1.9-2.2 1.4-2.1 .1-1.5-1.4-.3-2.3 .6-2.6 1.1-1.9 1-.5 .1 .8-.9 1.8-1.8 1.8-2.3 1-2-.3M381.5 697.4l-2.2 .8-1.4-.1 0-.6 1.5-.7 2.4-.1 2.4 .6 1.5 1.4 0 1.9-1.5 1.8-2.2 1.3-1.9 .4-.9-.3 .6-.7M424.1 676.3l1.6 .4 .8 .6-.2 .3-1.1-.1-1.5-.9-1.1-1.2-.4-1.4 .7-1.1 1.5-.5 1.8 .1 1.3 .5 .5 .5-.6 .2-1.3-.4-1.4-1-.9-1.3 0-1.4 1-.9 1.7-.3 1.6 .2 1.1 .6 .2 .5-.9 0-1.4-.6-1.3-1.2-.7-1.4 .4-1.2 1.3-.7M438.8 690.4l-1.9-.1-1.2-.5 .1-.5 1.3-.1 1.9 .6 1.8 1.1 .9 1.5-.4 1.5-1.4 1.2-2.1 .4-1.9-.1-1-.5 .2-.4 1.4-.1 1.9 .6 1.7 1.2 .8 1.5-.4 1.5-1.6 1.1-2 .4-1.9-.2-.9-.5M447.9 720.6l-.1 1.5-.4 .8-.4-.2 .1-1.2 .5-1.5 1-1.2 1.3-.4 1.1 .7 .6 1.4 .1 1.6-.3 1.2-.4 .2M404.7 649.4l-.4-2.3 .3-1.3 .6 0 .4 1.4-.2 2.3-1 2.3-1.5 1.3-1.8-.1-1.6-1.5-.9-2.3-.3-2.1 .4-1.2M367.2 739.3l-1.6 .4-1 0 0-.5 1-.4 1.7-.1 1.8 .5 1.1 1 .1 1.3-1 1.3-1.5 1-1.6 .4-.9-.2 .2-.4 1.2-.4 1.7 0 1.7 .5 1 1.1-.1 1.4M411.2 678.6l2 1.4 .8 1.2-.5 .4-1.4-.9-1.7-1.9-1-2.4 .2-2.1 1.6-1.2 2.4 0 2.4 1 1.7 1.4 .4 1.1-.9 0-1.6-1.2-1.5-2.2-.6-2.4 .6-1.9 1.9-.8 2.5 .4 2.3 1.2M412.6 654.5l1.8 1.3 .7 1.1-.4 .3-1.2-.6-1.4-1.6-.9-2.1 .1-1.9 1.1-1.2 2-.2 2.2 .8 1.6 1.2 .7 1.1-.5 .3-1.2-.7-1.4-1.7-.8-2.1 .1-1.9 1.2-1.1 2.1-.1 2.1 .9 1.6 1.2 .6 1-.5 .3-1.3-.8-1.4-1.7-.8-2.1 .2-1.9 1.3-1M443.6 714.2l.4-2 .7-1.2 .5 .2-.1 1.4-.8 1.9-1.5 1.8-1.8 .7-1.6-.6-1-1.7-.2-2.3 .5-2 .6-1 .5 .3-.1 1.4-1 2"/></g><use href="#cl6" stroke="#7c80ac" stroke-width="2.0"/><use href="#cl6" stroke="#e4e6f8" stroke-width="0.7" stroke-opacity="0.45" transform="translate(-0.4 -0.5)"/><g stroke="#303244" stroke-width="3.5"><path id="cl7" d="M377.9 746.4l1.7 1.1 .7 1-.4 .3-1.2-.6-1.4-1.6-.9-1.9 .1-1.7 1.2-1.1 2 0 2.1 .7 1.4 1.1 .3 .8-.7 0-1.4-.9-1.3-1.7-.6-2 .5-1.5 1.6-.7 2.1 .2 1.9 1 1 1-.1 .6-1-.3-1.4-1.3-1.2-1.9-.2-1.8M393 667.2l1.5-1.5 1.2-.6 .3 .5-1 1.2-2 1.2-2.3 .4-1.8-.6-.7-1.6 .5-2.2M404.1 726.4l-.9 1.9-.9 .9-.4-.4 .5-1.3 1.3-1.6 1.8-1.2 1.8-.1 1.3 1 .4 1.9-.5 2.2-.9 1.7-.8 .6-.2-.6 .6-1.4 1.5-1.6 1.9-1 1.7 .1 1.1 1.3 .2 2-.6 2.2-1 1.4-.7 .3 0-.8 .8-1.5 1.7-1.6 1.9-.7 1.6 .4M413.7 660.3l-2.1-.5-1.1-.7 .2-.5 1.3 .2 2 .8 1.6 1.6 .8 1.8-.6 1.5-1.8 .9-2.2 .2-2.1-.5-1-.7 .3-.4 1.4 .1 1.9 1 1.7 1.6 .6 1.7-.7 1.6-1.8 .8-2.3 .2M406.9 713.1l1.7-1 1.3-.2 .2 .5-1.1 .7-1.9 .6-2.2 0-1.6-.8-.6-1.5 .6-1.8 1.5-1.5 1.8-1 1.2-.2 .1 .5-1.1 .8-1.9 .6-2.2-.1-1.6-.9-.5-1.5 .6-1.7 1.6-1.6 1.7-.9 1.2-.1 .1 .5-1.2 .8-2 .5-2.1-.1M369.4 737.4l-1.9 .3-1.1-.3 .1-.4 1.3-.3 1.9 .2 1.8 .9 1 1.3-.3 1.5-1.5 1.2-1.9 .7-1.7 0-.6-.3 .5-.5 1.6-.1 2 .5 1.6 1 .5 1.5-.8 1.4-1.7 1.1-1.9 .4M397.8 685l1.1 1.4 .3 1.1-.4 .3-.8-.8-.8-1.7-.2-1.9 .4-1.6 1.2-.7 1.7 .3 1.6 1.1 1.1 1.4 .3 1.1-.4 .2-.8-.8-.8-1.6-.2-2 .4-1.5 1.3-.8 1.6 .3 1.6 1.2 1.1 1.4 .3 1-.4 .2-.8-.8-.8-1.6-.2-2 .5-1.5 1.2-.7 1.6 .3 1.6 1.1 1.1 1.4 .3 1.1-.4 .2-.8-.9-.8-1.6-.3-1.9 .6-1.6M409.6 689.3l-.5 1.5-.6 .8-.3-.2 .2-1 .8-1.4 1.3-1.1 1.4-.4 1.1 .6 .5 1.5-.1 1.7-.5 1.4-.6 .6-.3-.4 .4-1.1 .9-1.4 1.3-1 1.4-.2 1 .8 .4 1.6-.2 1.7-.6 1.3-.5 .4-.2-.6 .5-1.2 1-1.4 1.4-.8 1.3 0 .9 .9 .3 1.7-.3 1.6-.6 1.2-.5 .2-.1-.7 .6-1.3 1.1-1.3 1.4-.7 1.2 .2 .8 1.1 .2 1.7-.4 1.6M377.1 703.9l-1.6 .4-.9-.1 0-.4 1-.4 1.6 0 1.6 .5 1 1.1 0 1.2-1 1.2-1.5 .8-1.5 .3-.7-.2 .3-.5 1.2-.3 1.7 .1 1.5 .7 .7 1.1-.2 1.3-1.2 1.1-1.6 .7-1.3 .1-.5-.3 .5-.4 1.4-.2 1.7 .2 1.4 .8M376.4 729.4l.7 1.5 .1 1-.4 0-.6-.9-.3-1.6 .2-1.7 .8-1.2 1.3-.2 1.4 .8 1 1.4 .5 1.3-.1 .8-.4-.3-.6-1.2-.1-1.7 .4-1.6 .9-.8 1.4 .1 1.3 1 .9 1.4 .3 1.2-.2 .5-.6-.5M397.2 672.4l.9-1.4 .9-.7 .3 .4-.6 1-1.3 1.2-1.7 .7-1.5-.1-.9-1 0-1.7 .6-1.7 1-1.3 .8-.3 0 .5-.7 1.1-1.5 1.1-1.7 .6-1.4-.4M452.2 677.1l1.7 1.1 .6 1-.4 .3-1.3-.8-1.4-1.6-.7-2 .4-1.7 1.4-.9 2.1 .3 2 .9 1.1 1.2 0 .6-1-.3-1.4-1.4-1.1-1.9M397.5 732l1.6-.3 1 .1 0 .4-1 .4-1.7 0-1.7-.6-1-1-.1-1.3 1-1.3 1.6-.8 1.5-.3 .9 .2-.1 .4-1.2 .4-1.7-.1-1.6-.6-.9-1.1 .1-1.4 1-1.1 1.7-.8 1.5-.2 .7 .2-.3 .4-1.2 .3-1.8-.1-1.5-.7-.8-1.2 .2-1.3 1.2-1.1 1.7-.7 1.4-.2 .6 .3M438 729.8l.8-2.1 1-1.1 .5 .4-.4 1.4-1.3 1.9-2 1.5-2 .3-1.5-.9-.7-2.1 .3-2.5 .9-2 .9-.8 .4 .5-.5 1.5-1.5 1.9-2 1.4-2 .2-1.4-1.2-.5-2.2 .5-2.4 .9-1.9 .9-.7 .2 .7-.7 1.7-1.5 1.9M432.1 672.9l1-1.5 1-.6 .3 .3-.5 1-1.3 1.2-1.8 .9-1.6 0-1.1-1-.2-1.6 .6-1.9 1-1.4 .9-.7 .3 .3-.5 1-1.3 1.2-1.8 .9-1.6 0-1.1-.9-.2-1.7 .6-1.9 1-1.4M410.8 691.9l-1.3-1.5-.5-1.2 .4-.3 1 .9 1 1.8 .3 2.1-.5 1.8-1.3 .9-1.9-.3-1.8-1.2-1.3-1.6-.4-1.1 .5-.2 1 .9 .9 1.9 .3 2.1-.5 1.8-1.4 .8-1.9-.4-1.8-1.2-1.2-1.6-.4-1.1 .6-.1 .9 1 1 1.9 .2 2.1-.6 1.7-1.4 .7-1.9-.4M392 696.9l-1.2-1.9-.3-1.5 .6-.2 .9 1.2 .7 2.3 0 2.5-.9 1.8-1.8 .7-2-.8-1.8-1.7-1.1-2-.1-1.3 .6 0 .9 1.4 .6 2.3-.1 2.4-1 1.8-1.8 .5-2.1-1-1.7-1.8-1-1.9 0-1.2 .7 .2 .9 1.5 .6 2.4-.3 2.4M405.2 717.6l-1.6-.9-.7-.8 .3-.4 1.1 .5 1.3 1.2 .9 1.7 .1 1.6-1 1-1.7 .2-1.8-.5-1.4-.9-.5-.8 .5-.1 1.2 .6 1.3 1.4 .7 1.7-.1 1.4-1.2 .9-1.8 .1-1.8-.7-1.2-.9-.2-.7 .6 0 1.3 .9 1.2 1.4 .6 1.7-.4 1.4-1.3 .7-1.9-.1-1.7-.8-1-.9-.1-.5 .9 .1M424.8 734l-.8-1.8 0-1.2 .5-.1 .6 1.3 .3 2-.4 2.1-1.2 1.4-1.6 .1-1.6-1.1-1.2-1.8-.5-1.8 .2-.8 .6 .4 .5 1.6 .1 2.2-.7 1.9-1.3 1-1.7-.4-1.6-1.4-.9-1.9-.3-1.5 .4-.4"/></g><use href="#cl7" stroke="#9a9cc6" stroke-width="2.0"/><use href="#cl7" stroke="#e4e6f8" stroke-width="0.7" stroke-opacity="0.45" transform="translate(-0.4 -0.5)"/><g stroke="#303244" stroke-width="3.5"><path id="cl8" d="M412.6 690.7l-1.2 1.6-1 .7-.4-.3 .7-1.2 1.5-1.3 2-.9 1.9 .1 1.1 1.2 .1 1.9-.7 2-1.3 1.6-1 .6-.2-.5 .7-1.1 1.6-1.4 2-.7 1.8 .1 1.1 1.3M437.2 652.7l1.7 .2 .9 .5-.3 .3-1.2 0-1.7-.8-1.3-1.2-.3-1.4 .8-1.2 1.6-.6 1.8 0 1.3 .4M371.6 735.1l.9-2.2 1-1 .5 .5-.6 1.6-1.7 2-2.2 1.3-2 0-1.3-1.5-.3-2.5 .7-2.5 1.1-1.6 .8-.3-.1 1.2M395.5 757.1l2.1-.6 1.4 0 .1 .6-1.3 .6-2.2 .2-2.4-.6-1.6-1.2-.3-1.8 1.1-1.8 2-1.3 2.1-.7 1.4 .1 0 .6-1.3 .6-2.3 .1-2.4-.5-1.5-1.3-.3-1.8M377.2 750l1.7-1.2 1.1-.3 .2 .5-1 .9-2 .7-2.1 .1-1.6-.8-.5-1.5 .6-1.8 1.5-1.6 1.6-1 .9 0-.2 .6-1.3 .9-2.1 .6-2.1-.1-1.3-1-.2-1.7 1-1.8 1.6-1.5M400.8 736.6l1.4-1.2 1.1-.4 .3 .4-.9 .9-1.7 .9-2 .4-1.7-.5-.7-1.4 .3-1.8 1.2-1.7 1.4-1.1 1-.3 .1 .6-1.1 1-1.8 .8-2 .2-1.5-.7-.6-1.4 .6-1.8 1.2-1.7 1.4-.9 .9-.1-.2 .6-1.2 1-1.9 .8-2 0M367.4 708.8l.8-2 .8-1 .5 .3-.3 1.3-1.2 1.8-1.8 1.4-1.9 .5-1.4-.8-.8-1.8 .2-2.3 .8-2 .8-1 .5 .3-.3 1.3-1.2 1.8M371.3 705.5l.5 1.5 0 .9-.3 .1-.5-.9-.2-1.5 .3-1.6 .8-1.2 1.2-.2 1.2 .7 1 1.3 .5 1.4 0 .9-.4 0-.4-.9-.2-1.6 .3-1.6 .9-1.1 1.2-.1 1.2 .7 1 1.4M396.8 761.2l-1.6 .5-1 0 0-.5 1.1-.4 1.7-.1 1.8 .5 1 1 0 1.4-1 1.3-1.6 .9-1.5 .3-.7-.2 .4-.5M394.6 684.8l0 1.7-.3 1-.5-.1-.1-1.2 .4-1.7 1-1.5 1.3-.8 1.3 .3 1 1.3 .5 1.8-.1 1.6-.4 .8-.4-.4 0-1.3 .5-1.8 1.1-1.4 1.3-.5 1.3 .6 .9 1.4 .3 1.9-.2 1.4-.5 .5-.3-.6 .1-1.5 .7-1.7 1.1-1.3 1.4-.3 1.2 .9 .8 1.6 .2 1.8-.3 1.2-.5 .3-.2-.9 .2-1.6M385.9 699.6l1.6 .1 .9 .5-.1 .4-1.1 0-1.6-.6-1.4-1.1-.7-1.3 .4-1.3 1.4-.8 1.8-.3 1.6 .3 .7 .4-.3 .4-1.2-.1-1.7-.7-1.3-1.2-.4-1.3 .6-1.2 1.5-.8 1.8-.1 1.4 .3 .6 .5-.5 .3-1.4-.2-1.6-.8M401.1 725.8l-1.6 .4-1-.2 0-.4 1-.3 1.6 0 1.6 .5 1.2 1 .1 1.3-.9 1.2-1.5 .9-1.6 .3-1-.1 0-.4 .9-.4 1.7 0 1.6 .5 1.1 1.1 .2 1.2-.9 1.3-1.5 .8-1.6 .4-1-.2 0-.4 .9-.3 1.6 0 1.7 .5 1.1 1 .1 1.3-.8 1.2-1.6 .9-1.5 .3-1-.1-.1-.4 1-.4 1.6 0 1.7 .5 1.1 1.1 .1 1.2-.9 1.3-1.5 .8-1.6 .4M419.7 655.1l-.4-2 .2-1.2 .5 0 .4 1.2-.1 2.1-.7 2-1.3 1.3-1.6 0-1.5-1.3-1-1.9-.3-1.9 .3-1.1 .5 .2 .4 1.5-.2 2.1-.8 2-1.4 1-1.6-.2-1.4-1.4-.9-2-.2-1.8 .3-.9 .6 .5 .2 1.6-.2 2.1-1 1.9-1.4 .8-1.6-.4-1.4-1.6-.7-2-.1-1.7M392 745.8l.5-1.6 .6-.9 .4 .2-.2 1.1-.8 1.4-1.3 1.3-1.5 .4-1.2-.5-.6-1.4 0-1.8 .5-1.6 .6-.8 .3 .2-.2 1.1-.8 1.5-1.3 1.2-1.5 .4-1.2-.6-.6-1.4 0-1.8 .5-1.6 .7-.7 .3 .3-.2 1.1-.9 1.5-1.4 1.2-1.4 .3-1.2-.6-.5-1.5 0-1.9 .5-1.5 .6-.6 .3 .3M384.5 756l1.4 .9 .6 .7-.3 .3-.9-.4-1.2-1.1-.8-1.5 0-1.5 .8-.9 1.5-.2 1.7 .4 1.3 .9 .5 .7-.4 .2-1-.5-1.2-1.2-.7-1.5 .1-1.4 .9-.9 1.6-.1 1.6 .5 1.2 .9 .4 .7-.5 .1-1-.6-1.1-1.3-.7-1.5 .2-1.4 1.1-.7 1.6-.1 1.6 .7 1.1 .8 .3 .7-.6 0-1.1-.7-1.1-1.4-.5-1.5 .3-1.3 1.1-.7 1.7 .1M403.1 709.8l.9 1.7 .1 1.2-.5 .1-.7-1.1-.4-1.9 .2-2 1-1.5 1.4-.4 1.7 .9 1.3 1.6 .7 1.6 0 1.1-.5-.1-.7-1.3-.3-1.9 .3-2 1.1-1.3 1.5-.2 1.6 1 1.2 1.7 .6 1.6-.1 .8-.6-.3-.6-1.4-.2-2M414 756.9l1.2-1.3 1.1-.5 .2 .4-.8 1-1.6 1-1.9 .4-1.6-.4-.7-1.3 .3-1.8 1-1.7 1.3-1.1 .8-.2 0 .7-1.1 1-1.8 .9-1.8 .2-1.4-.7-.4-1.5 .5-1.8 1.2-1.6 1.2-.8 .6 0-.3 .8-1.4 1.1-1.8 .7-1.8 0M387.7 757.9l1.3-1.8 1.1-.7 .4 .4-.7 1.2-1.7 1.4-2.1 .9-2-.1-1.2-1.2-.1-2.1 .8-2.2 1.3-1.7 1.1-.6 .3 .5-.8 1.3-1.7 1.4-2.2 .8-1.9-.2-1.1-1.4 0-2.1 .9-2.1 1.3-1.6 1.1-.6 .1 .6-.9 1.3-1.8 1.4-2.1 .7-1.9-.3-1-1.4 .1-2.1 .9-2.2M372.5 729.2l-.4 1.9-.6 1-.5-.1 .1-1.2 .8-1.8 1.4-1.5 1.6-.7 1.5 .4 .9 1.6 .2 2-.4 1.9-.7 1-.4-.1 .1-1.2 .8-1.8 1.3-1.5 1.7-.7 1.4 .5 .9 1.5 .2 2.1-.4 1.8-.6 1.1-.5-.2 .1-1.2 .8-1.8 1.4-1.5 1.6-.7 1.4 .5 .9 1.5 .2 2.1M404.9 691.8l1.6-1.8 1.2-.7 .3 .5-.9 1.3-2 1.4-2.5 .7-2-.5-1-1.6 .3-2.3 1.3-2.3 1.5-1.4 1-.3-.1 .9-1.4 1.5-2.3 1.2-2.4 .3-1.7-.9-.5-2 .7-2.4 1.5-2 1.4-1.1 .6 .2-.5 1.2-1.8 1.5-2.4 .9M420.9 664.3l.5 1.9 0 1.2-.5 0-.6-1.2-.1-2.1 .6-2.1 1.2-1.3 1.6-.1 1.6 1.2 1.1 1.9 .4 1.9-.2 .9-.6-.3-.4-1.5 0-2.2 .8-1.9 1.3-1.1 1.7 .3 1.5 1.4 .9 2 .3 1.7-.4 .6-.6-.6-.3-1.8 .2-2.1 .9-1.8 1.5-.8 1.6 .6 1.4 1.7M419.6 715.5l.2 1.7-.3 1-.4-.1-.2-1.1 .2-1.7 .7-1.6 1.2-.9 1.3 .2 1.1 1.1 .6 1.7 .1 1.6-.3 .7-.4-.2-.2-1.3 .4-1.7 .8-1.5 1.2-.7 1.3 .3 1.1 1.4 .5 1.7 0 1.4-.4 .6-.4-.5-.1-1.5 .5-1.7 .9-1.4 1.3-.4 1.3 .6M373.8 739.8l-2.2-.9-1.1-.9 .3-.5 1.5 .3 2 1.4 1.6 2 .4 2.1-1 1.6-2.1 .6-2.6-.2-2.1-.9-.9-.9M406.8 707.1l.4 2.3-.4 1.4-.6-.1-.4-1.6 .3-2.5 1.1-2.3 1.7-1.2 1.9 .3 1.6 1.8 .9 2.4 .1 2.2-.5 .8-.6-.7-.2-2 .6-2.6 1.3-2 1.9-.7 1.8 1 1.4 2.1 .6 2.5-.2 1.7M403.6 648.5l0 1.5-.3 1-.4-.1-.1-1 .3-1.6 .8-1.5 1.2-.9 1.3 .2 1 1.2 .5 1.7 0 1.5-.4 .8-.3-.2-.2-1.2 .4-1.6 .9-1.5 1.3-.7 1.2 .4 .9 1.3 .5 1.7-.1 1.4-.4 .7-.3-.4-.1-1.3 .5-1.7 1-1.3 1.2-.5 1.3 .5 .8 1.4 .4 1.7-.2 1.4M427.2 644.2l1.6 .6 .8 .6-.3 .4-1.2-.4-1.4-1-1.1-1.5-.1-1.4 .9-1 1.7-.4 1.8 .4 1.3 .6 .2 .6-.8 0-1.4-.7-1.3-1.3-.6-1.5 .4-1.3 1.4-.7M428.2 682.4l1.4 1.2 .6 1-.4 .3-1-.6-1.1-1.6-.7-1.9 .2-1.7 1.1-1 1.8 0 1.9 .9 1.3 1.2 .5 1-.4 .2-1-.7-1.1-1.6-.7-1.9 .3-1.7 1.2-.9 1.8 .1 1.8 .8M433.7 676.6l-.2-2 .4-1.2 .4 .1 .3 1.2-.3 1.9-.9 1.9-1.4 1.1-1.6-.1-1.3-1.2-.7-2-.1-1.9 .3-1.2 .5 .1 .3 1.3-.4 1.9-.9 1.9-1.4 1.1-1.6-.2-1.2-1.3-.8-2-.1-1.9 .4-1.1M434.7 725.2l.8 1.5 .1 1.1-.5 .1-.6-1.1-.4-1.8 .2-1.9 .9-1.3 1.5-.2 1.5 .9 1.2 1.6 .5 1.4-.1 .8-.6-.4-.6-1.4-.2-1.9 .5-1.8 1.2-.9M364.7 729.3l-1.7 1.1-1.3 .3-.2-.5 1.1-.9 2-.7 2.2 0 1.7 .8 .6 1.6-.7 1.8-1.5 1.7-1.7 1-1.1 .1 0-.6 1.3-.9 2.1-.6 2.2 .1 1.5 1 .4 1.6-.9 1.9M405.2 712.7l.2 2.3-.3 1.3-.6-.1-.3-1.5 .3-2.3 1.1-2.2 1.6-1.2 1.8 .3 1.5 1.6 .8 2.4 .1 2.1-.4 1-.6-.5-.2-1.8 .5-2.4 1.3-2 1.7-.8 1.7 .6 1.4 1.9 .6 2.4-.1 1.9-.5 .6-.5-.9 0-2 .7-2.4 1.4-1.8"/></g><use href="#cl8" stroke="#6e7090" stroke-width="2.0"/><use href="#cl8" stroke="#e4e6f8" stroke-width="0.7" stroke-opacity="0.45" transform="translate(-0.4 -0.5)"/><g stroke="#303244" stroke-width="3.5"><path id="cl9" d="M393.9 714l-.4-1.7 .1-1.1 .4 0 .4 1 0 1.7-.5 1.8-1.1 1.2-1.3 .2-1.3-.9-1-1.7-.4-1.6 .2-1.1 .4-.1 .4 1.1 0 1.7-.5 1.8-1.1 1.2-1.4 .1-1.3-.9-.9-1.6-.4-1.7 .1-1.1 .5 0 .3 1.1 .1 1.7-.6 1.8-1.1 1.2-1.3 .1-1.4-.9-.9-1.7-.4-1.6 .2-1.1 .4 0 .4 1.1 0 1.7-.6 1.8-1 1.2-1.4 .1M429.8 714.6l-2.2 .1-1.3-.4 .1-.6 1.6-.2 2.3 .5 2.1 1.2 1 1.7-.5 1.8-1.8 1.3-2.4 .7-2-.1-.8-.6 .7-.5 1.9 0M409.9 660.4l.2 1.6-.2 1-.4 0-.3-1 .2-1.6 .6-1.6 1.1-1 1.2 0 1.1 1 .7 1.5 .3 1.6-.3 .9-.4 0-.2-1 .1-1.6 .7-1.6 1-1 1.3 .1 1.1 1 .7 1.5 .2 1.5-.2 .9-.4 0-.3-1.1 .2-1.6 .7-1.5 1-1M406.7 677.1l-1.9-.2-1.1-.6 .3-.5 1.4 .1 1.9 .8 1.6 1.4 .5 1.6-.8 1.5-1.8 .8-2.1 .1-1.7-.5-.4-.5 .8-.3 1.7 .4 1.9 1.1 1.2 1.6-.1 1.6-1.3 1.1-2.1 .5-2-.2M410.3 682l1.4-.9 1-.2 .2 .4-.9 .7-1.5 .5-1.8 .1-1.4-.6-.5-1.2 .4-1.5 1.2-1.3 1.4-.9 .9-.2 .1 .5-.9 .7-1.6 .5-1.8 0-1.3-.6-.5-1.3 .6-1.5 1.2-1.3 1.4-.8 .9-.1-.1 .5-.9 .7-1.7 .5-1.8-.1-1.2-.7-.4-1.3M424.3 658.4l-1.6-.5-.8-.7 .2-.4 1.1 .3 1.4 .9 1.2 1.4 .3 1.5-.7 1.2-1.5 .5-1.8-.1-1.6-.7-.6-.6 .3-.3 1.2 .3 1.5 1.1 1 1.4 .2 1.5-.8 1.1-1.6 .4-1.9-.2-1.4-.7-.5-.6 .5-.2 1.3 .5 1.4 1.1 1 1.5 0 1.4-1 1-1.7 .3-1.8-.3M401.6 713.6l.3-1.5 .4-.8 .4 .1-.1 1-.5 1.4-1.1 1.2-1.2 .5-1.1-.4-.7-1.2-.2-1.6 .3-1.4 .5-.7 .3 .2-.1 1.1-.7 1.4-1 1.1-1.3 .5-1.1-.6-.6-1.3-.1-1.6 .4-1.3 .4-.6 .3 .4-.2 1.1-.7 1.4-1.1 1.1-1.2 .3M432.3 668.3l0 2.2-.5 1.2-.6-.1-.1-1.5 .6-2.2 1.3-2 1.7-1 1.7 .5 1.3 1.7 .5 2.3-.2 2.1-.5 1-.5-.4 0-1.6 .7-2.2 1.4-1.9 1.8-.8M414.6 717.9l-.9-1.4-.2-1.1 .5-.1 .6 1 .6 1.6-.1 1.9-.7 1.3-1.3 .3-1.6-.6-1.3-1.4-.7-1.4 0-.8 .6 .2 .7 1.2 .4 1.8-.3 1.7-.9 1.1-1.4 .1-1.5-.9-1.2-1.4-.5-1.3 .2-.6 .6 .5 .6 1.4 .3 1.8-.4 1.6-1.1 .9-1.5-.3-1.5-1.1-1-1.4M389.7 723.9l-.2-2.1 .3-1.2 .6 0 .2 1.3-.3 2.1-1 2-1.4 1.1-1.7-.1-1.3-1.4-.8-2.1-.1-2 .4-1.1 .5 .2 .2 1.5-.4 2.1-1 1.9-1.5 1-1.7-.3-1.2-1.6-.7-2.1 0-1.9 .4-1 .5 .5 .1 1.5-.5 2.2-1.1 1.8-1.6 .8-1.6-.5-1.2-1.7-.6-2.1 .1-1.8M436.7 728.3l1.5 .4 .8 .6-.2 .4-1-.2-1.4-.8-1.2-1.2-.5-1.4 .6-1.1 1.3-.7 1.8 0 1.5 .5 .7 .5-.3 .4-1-.2-1.5-.8-1.1-1.3-.4-1.4 .6-1.1 1.4-.6 1.8 0 1.4 .5 .7 .6-.3 .3-1.2-.3-1.4-.8-1.1-1.3-.3-1.4 .7-1.1 1.5-.5 1.7 .1 1.4 .5 .6 .5-.4 .3-1.2-.3-1.4-.9-1.1-1.3-.2-1.4M384.6 719.1l-1.1 1.5-1 .6-.3-.3 .6-1.1 1.5-1.2 1.8-.8 1.7 .2 1 1 .1 1.8-.8 1.9-1.1 1.4-.9 .5-.2-.5 .8-1.1 1.5-1.2 1.8-.7 1.6 .3 .9 1.2-.1 1.8M398.5 671.2l-.4-1.5 .1-1 .4 0 .4 .9 .1 1.6-.5 1.6-.9 1-1.2 .2-1.2-.9-.9-1.4-.4-1.5 .1-.9 .4 .1 .4 1 0 1.6-.4 1.6-1 1-1.2 0-1.2-.9-.9-1.4-.3-1.5M384 752.8l.4-1.9 .7-1 .4 .4-.3 1.4-1 1.8-1.5 1.4-1.7 .2-1.2-1-.6-2 .2-2.1 .6-1.4 .6-.2 .1 1-.8 1.8-1.3 1.7M408.4 739.9l-1.7 .2-1-.2 0-.4 1.1-.3 1.6 .2 1.7 .7 1 1.1 0 1.3-1.1 1.2-1.6 .7-1.6 .2-1-.3 .1-.4 1.1-.2 1.7 .1 1.6 .8 1 1.1-.1 1.3-1.1 1.2-1.7 .7-1.6 .1-.9-.2 .2-.4 1.2-.3 1.7 .2 1.6 .8 .9 1.2-.2 1.3-1.2 1.1-1.7 .7-1.5 .1-.8-.3 .2-.4 1.2-.2 1.7 .2 1.6 .8M385.6 737.9l1.6-.7 1.1 0 .1 .5-1 .5-1.7 .3-1.9-.3-1.4-1-.3-1.3 .8-1.5 1.5-1.2 1.6-.6 1.1 0 .1 .5-1.1 .5-1.8 .3-1.9-.4-1.3-.9-.2-1.4 .8-1.5 1.5-1.1 1.7-.6 1 0 0 .5-1.1 .5-1.8 .2-1.9-.3M405.4 699.2l1.4 1.2 .5 1-.3 .2-1-.6-1-1.4-.7-1.8 .2-1.7 1.1-.9 1.6 0 1.8 .8 1.3 1.1 .5 1-.4 .2-.9-.6-1.1-1.5-.6-1.8 .2-1.6 1.1-.9 1.7 0 1.8 .8 1.2 1.2 .5 .9-.4 .2-1-.7-1-1.5-.6-1.8M381.6 736.4l.2-1.8 .6-.9 .4 .1-.1 1.2-.6 1.7-1.3 1.5-1.4 .6-1.4-.5-.8-1.5-.2-1.9 .4-1.7 .5-.7 .3 .4-.1 1.3-.8 1.7-1.3 1.3-1.5 .4-1.2-.7-.7-1.6-.1-2 .4-1.5 .5-.5 .3 .6-.3 1.5-.9 1.7-1.4 1.2-1.4 .1-1.2-.9-.6-1.8 .1-1.9 .4-1.3 .5-.3 .2 .8-.4 1.6-1 1.6-1.5 1-1.4 0M430.1 695.4l-.2-1.7 .3-1 .4 .1 .3 1-.3 1.7-.7 1.6-1.2 .9-1.3-.1-1.1-1.2-.6-1.7-.1-1.5 .3-.8 .4 .3 .2 1.2-.4 1.7-.8 1.5-1.2 .8-1.3-.4-1.1-1.3M427.3 684.8l-1.4-.9-.5-.9 .3-.3 .9 .5 1.2 1.3 .7 1.7-.1 1.5-1 .9-1.6 .1-1.7-.6-1.3-1-.4-.8 .4-.2 1 .7 1.1 1.3 .7 1.7-.3 1.5-1 .8-1.7-.1-1.7-.7-1.2-1-.3-.7 .6-.1 1.1 .8 1 1.5 .5 1.7-.3 1.3-1.2 .7M434.2 683.7l.9 2.1 .1 1.4-.6 .2-.7-1.3-.4-2.3 .3-2.5 1.2-1.8 1.8-.4 1.9 1 1.6 2 .8 2.1 0 1.3-.6 0-.7-1.4-.4-2.4 .4-2.4 1.3-1.7 1.8-.3M431 702.1l.3-2.2 .6-1.2 .5 .2 0 1.4-.7 2.1-1.4 1.9-1.8 .9-1.7-.5-1.1-1.7-.4-2.4 .3-2.1 .6-1.1 .5 .3-.1 1.6-.8 2.1-1.4 1.8-1.8 .8-1.7-.6-1-1.8-.3-2.4M390.6 716.7l-2.2 0-1.3-.5 .1-.6 1.5-.2 2.2 .6 2.1 1.3 1 1.7-.3 1.8-1.7 1.3-2.4 .6-2.1-.1-1.2-.6 .3-.5 1.6-.1 2.3 .7M423.2 664.8l.4-2.2 .7-1.2 .5 .2-.1 1.6-1 2.1-1.6 1.8-1.9 .7-1.7-.8-1-2-.1-2.5 .5-2 .7-.9 .5 .6-.4 1.8-1.1 2.1-1.8 1.6-1.9 .4-1.6-1.1-.7-2.2 0-2.5 .7-1.9 .7-.5 .2 .9-.5 2-1.3 2.1-1.9 1.3-1.9 0M425 704.4l-1.1-1.5-.4-1.2 .4-.2 .9 .9 .8 1.7 .2 2.1-.5 1.6-1.4 .8-1.7-.4-1.7-1.3-1.1-1.5-.3-1.1 .5-.1 .9 1 .8 1.8 .1 2-.6 1.6-1.4 .6-1.8-.4-1.6-1.3-1-1.5-.2-1.1 .5 0M420.4 678.9l-2.1 1-1.3 .1-.1-.5 1.3-.9 2.3-.5 2.4 .3 1.7 1.1 .3 1.8-1.1 2-1.9 1.6-2 .7-1-.1 .4-.7 1.7-.8 2.5-.3 2.2 .5 1.3 1.4-.2 2-1.4 1.9-2.1 1.3-1.7 .4-.5-.3 .8-.8 2-.7 2.5-.1 2 .9 .9 1.6"/></g><use href="#cl9" stroke="#a8aad0" stroke-width="2.0"/><use href="#cl9" stroke="#e4e6f8" stroke-width="0.7" stroke-opacity="0.45" transform="translate(-0.4 -0.5)"/></g><g fill="none" stroke-linecap="round" stroke-linejoin="round"><path d="M310.3 777l4.9-5.3 8.9 .4 2.4 6.7 7.5-1M294.4 683l3.9 3M331.6 741.6l-3.1 3-4.2 4.1-3.3 2.7 3.8 8.1 4.1 3.9M360.1 743.6l-5.1-4-1-6.8-3.8-3.2-1.1-4.2M275.5 709.9l-1.4 7.6-6 4.6 2.8 7.7 4.6 1.1 2.1-3.6 5.9 0M345.5 737l3.9 2.5 6.9-1.8 1.8-4.5 2.8-5.2M355.4 735l7 1.9 .1 4.7M265.7 713.8l1.6 7.2M288.6 719.2l-4.7-5.5-3.1-3.3-4.1-7.1M324.8 767.1l-1.7 7.1 .7 6.1-1.4 5M277.4 744.5l-5 .5-.9 8.4M276.8 743l6.6-4.4 3.6-2.5-1.8-7.3M339.9 732l-1.3 5.5 5.4 2.9 8.8 .7 8.2-2.6M310.4 731.2l-6.3 6.3-5.8-.9-5.7 5.9-4.2-2.5-2.5-7.7 3.9-3.1M356.9 764.9l-7.5 2.9 0 5.2-3.5 4.6M314 760.7l-2.8 5.3-3.4 4.3 4.6 5.7 5.9 2.7 5.3 .5" stroke="#33a845" stroke-width="1.1"/><path d="M295.4 693.7l-.1-4.6-7.3-1.2-2-5.2 4.7-5.6M319.9 704.1l6.1 3.6 3.9 5.1 2.4 3.4M289.4 738.2l-1.8 4.3-4.7 5.7-7-3.8-6.3 .6M338.3 733.6l4.8 5.2 7.9-3.7 2.9-3.7 4.5-.5 1.2-7.2M313.6 743.8l2.3 4.6 .9 5.1 6.3 1.7 8.5 2.7 2.6 7.5M345.3 781.2l3.4-2.2M297.5 741.8l2.2 4.4 .7 5.5 3.2 4.4M309.3 749.1l6.6-3.6 .7-6.6 2.5-8.2 3.5-7.8 4-3.2M300.3 700.4l4.6 2 6.2-.3 3.7 3.2-.1 8.7 4.3 4.1 3.4 2.7" stroke="#2c9a3c" stroke-width="1.1"/><path d="M287 696.3l-.8-4.9-4.3-3.4 .5-7.5M301.3 757.1l3.6 2.2 3.3 3.7 3.7 1.6M291.7 746.4l-2.6 3.7-4.6 2.6-2.5 4.6-4.3-1.3-4.1-5.9M302.9 770.9l1.2-4.5 .1-7.4 2-7.1M342.8 745.2l-2.9 8.3-.2 5.3-4 7.3 3.6 3.4 5 4.9M312.1 753.9l.1-6.8-4.9-5.8 .6-6.6 3.4-7.9 6.7-5.8-1.4-6.8M341.4 767.7l4.4-3.3 4.4 2.5 2.6 3.5-4.5 7.5M315.6 731.1l-2 5.2 4.2 6.5-.9 5.6 .5 7.5M304.3 744.3l-4.6 0-4.9 4.1-4.6 2.7-4.7 0-6.2 4.1M329.2 721.5l-4.7-4.7-5.7-3.4-3.1-6.8M347.4 759.4l-7.8-2.7 .5-7.9-4-2.5-6.4 2.5M349.9 764.5l3.6-7.7-3.7-3.8-.1-7 2.7-5.4 2.4-4.4 2.1-4.9M300 715.6l5.3 3.5 5.2-2.5 2.8-6.7M266.6 723.6l1 5.2M297.7 729l7.8-1.9 1.5-5.3 .9-8.2 2.8-4.1 8.3 1.4" stroke="#44b455" stroke-width="1.1"/><g stroke="#145a1c" stroke-width="2.9"><path id="cl10" d="M278.8 689.5l1.7 .4 .9 .6-.2 .4-1.1-.1-1.5-.8-1.4-1.3-.5-1.4 .5-1.3 1.4-.7 1.9-.1 1.6 .4 .8 .6-.2 .4-1.2-.2-1.5-.8-1.3-1.3-.5-1.5 .6-1.2 1.5-.7 1.9 0 1.6 .4 .7 .6-.4 .4-1.2-.3-1.5-.9-1.3-1.3-.3-1.5 .7-1.2 1.5-.6 1.9 .1M358.4 735.3l1.4-.6 .9-.1 .1 .4-1 .5-1.5 .3-1.7-.3-1-.8-.2-1.2 .8-1.3 1.4-1 1.3-.4 .7 .1-.3 .4-1.1 .5-1.7 .1-1.5-.4-.8-1 .1-1.3 1.1-1.2 1.4-.9 1.2-.2M324.6 749.9l1.4-.2 .8 .2 0 .3-.9 .2-1.4-.1-1.3-.5-.9-1 .1-1.1 .8-.9 1.4-.6 1.3-.2 .8 .2-.2 .4-.9 .2-1.5-.2-1.3-.6-.7-1 .1-1.1 1-.9 1.4-.6 1.3-.1 .6 .3-.2 .3-1.1 .2-1.4-.2M348.4 754.4l-1.5 1.2-1.1 .3-.1-.5 1-.9 1.9-.8 2-.2 1.5 .8 .3 1.6-.7 1.8-1.4 1.6-1.4 .7-.6-.1 .6-.9 1.5-.9 2.1-.5 1.8 .4 .9 1.2M324.4 754.3l.9-1.2 .7-.5 .2 .3-.5 .9-1.1 1-1.5 .6-1.3-.2-.7-.9 0-1.5 .7-1.4 .8-1 .6-.3 0 .6-.7 .9-1.3 .9-1.5 .4-1.1-.4-.5-1.2 .3-1.5 .7-1.3 .9-.8 .4 0-.2 .7-1 1-1.4 .8-1.4 .1-.9-.6-.3-1.4 .5-1.5M351.6 731.9l-.4 1.5-.5 .8-.4-.2 .2-1 .7-1.5 1.2-1.2 1.3-.4 1.1 .6 .6 1.4 0 1.7-.4 1.4-.5 .6-.3-.4 .3-1.2 .8-1.4 1.3-1.1 1.3-.2 1 .8 .5 1.5-.1 1.7-.5 1.2-.5 .4-.2-.6 .4-1.3 1-1.4 1.3-.9 1.2 0 1 1 .3 1.6-.2 1.6M325.7 787.3l.9-1.6 .8-.7 .3 .3-.4 1-1.1 1.4-1.6 1-1.6 .1-1.1-.8-.4-1.6 .4-1.9 .8-1.5 .8-.6 .3 .3-.4 1.1-1.2 1.4-1.7 .9-1.5 .1-1.1-.9-.3-1.6 .5-1.9 .8-1.4 .8-.6 .2 .4-.5 1.2-1.3 1.3-1.6 .9-1.5 0-1-1-.3-1.7 .5-1.8 .9-1.4 .7-.5 .2 .5-.6 1.2-1.3 1.3M294.7 712.2l-1 1.2-.8 .5-.2-.3 .5-.9 1.3-.9 1.5-.6 1.4 .3 .7 .9-.1 1.5-.7 1.5-1 1-.7 .3 0-.5 .7-.9 1.4-.9 1.5-.3 1.3 .4 .5 1.1-.3 1.5-.8 1.4-.9 .9-.6 .1 .2-.6 .9-1 1.4-.8 1.5-.2 1.1 .6 .3 1.3-.4 1.5-.9 1.3-.9 .7-.4-.1 .4-.7 1-1M291 723.3l.1-1.6 .4-.9 .4 .1 0 1-.4 1.5-.9 1.5-1.3 .7-1.2-.2-.9-1.2-.4-1.7 .1-1.5 .4-.9 .4 .2 0 1.1-.4 1.5-1 1.4-1.2 .7-1.3-.3-.8-1.3-.4-1.7 .2-1.5 .4-.7 .3 .2 0 1.2-.5 1.6M275 701.2l-1-.9-.4-.8 .3-.2 .8 .6 .8 1.2 .4 1.5-.3 1.2-.9 .5-1.4-.1-1.4-.8-.8-.9-.1-.6 .5 .1 .9 .9 .7 1.3M307.7 765.8l1.2-.2 .8 .1 0 .3-.8 .3-1.3-.1-1.2-.4-.8-.9-.1-1 .8-.9 1.2-.6 1.2-.2 .7 .1-.1 .4-.9 .2-1.3-.1-1.2-.5-.7-.9 .1-1 .8-.9 1.3-.5 1.2-.2 .5 .2-.2 .4-.9 .1M292.8 740.3l-1.7-.6-.9-.7 .2-.4 1.2 .3 1.6 1 1.3 1.6 .3 1.6-.8 1.3-1.7 .5-2-.2-1.6-.7-.7-.7 .5-.3 1.4 .5 1.6 1.2 1.1 1.6 .1 1.6-1.1 1.1-1.8 .4-2-.4-1.5-.7-.3-.6 .7-.1 1.5 .6 1.5 1.3 .9 1.7-.2 1.5-1.3 .9-1.9 .2M272.7 736.3l-.7 1.9-.8 .8-.3-.4 .4-1.3 1.3-1.6 1.7-1.2 1.6 0 1.2 1.1 .3 2-.5 2-.8 1.4-.7 .2 .1-.9 .8-1.5 1.6-1.5 1.7-.6 1.5 .5M297.7 761l-1-.7-.4-.6 .2-.2 .8 .4 .8 1 .4 1.2-.1 1.1-.8 .6-1.2-.1-1.2-.5-.8-.7-.2-.6 .4 0 .8 .6 .7 1.1M326.8 740.5l.5 1.3 0 .8-.3 .1-.4-.7-.3-1.3 .2-1.5 .7-1 1-.3 1.2 .5 .9 1.2 .5 1.2 0 .9-.3 0-.4-.7-.3-1.4 .2-1.4 .7-1.1 1.1-.2 1.1 .5 .9 1.2 .5 1.2 0 .9-.3 0-.4-.8-.3-1.3 .3-1.4 .6-1.1 1.1-.2 1.1 .5 .9 1.2"/></g><use href="#cl10" stroke="#33a845" stroke-width="1.5"/><use href="#cl10" stroke="#a8f0b0" stroke-width="0.5" stroke-opacity="0.45" transform="translate(-0.4 -0.5)"/><g stroke="#145a1c" stroke-width="2.9"><path id="cl11" d="M326.5 767.2l-.9-1.6-.2-1.2 .5 0 .7 1.1 .5 1.9-.1 2-.9 1.3-1.5 .3-1.7-.9-1.3-1.5-.7-1.5 .2-.8 .6 .4 .7 1.5 .3 2.1-.4 1.8-1.2 .9-1.7-.2-1.6-1.2-1.1-1.7-.3-1.2 .4-.3M298 672.9l.9 .8 .4 .7-.3 .2-.6-.4-.8-1.1-.4-1.3 .2-1.2 .8-.6 1.2 0 1.3 .7 .9 .8 .3 .7-.3 .2-.7-.6-.7-1.1-.4-1.3 .2-1.2 .9-.5 1.2 .1 1.2 .7 .9 .8 .3 .7-.4 .1-.7-.6-.7-1.2M284.4 692.1l-.6-1.5 .1-1 .4-.1 .5 1.1 .2 1.7-.4 1.7-1 1.1-1.4 .1-1.3-1-1-1.5-.3-1.5 .1-.7 .5 .4 .5 1.3 0 1.8-.6 1.6M281.1 757.7l-1 1.4-.8 .6-.3-.4 .6-1 1.3-1.1 1.7-.7 1.5 .1 .9 1.1 0 1.6M296.3 717.1l-.4 1.7-.6 .9-.4-.2 .1-1.1 .8-1.6 1.4-1.3 1.5-.5 1.2 .6 .7 1.4 .1 1.9-.5 1.7-.6 .8-.4-.3 .2-1.2 .9-1.5 1.3-1.3 1.5-.4 1.3 .6 .6 1.6 0 1.9-.5 1.5-.6 .8-.4-.4 .3-1.2 .9-1.5 1.4-1.3 1.5-.3 1.2 .7 .6 1.6-.1 1.9-.5 1.5-.6 .7-.3-.4 .3-1.3 .9-1.6 1.5-1.1 1.4-.3 1.2 .8M327.6 771.5l.7-.9 .6-.5 .2 .2-.3 .7-.9 .8-1.2 .6-1.1 0-.7-.7-.1-1.1 .4-1.2 .7-1 .6-.4 .2 .3-.4 .7-.9 .8-1.2 .5-1.1 0-.6-.7-.1-1.1 .4-1.3 .7-.9 .6-.3 .1 .2-.4 .8-.9 .8-1.2 .5-1.1-.1-.6-.8 0-1.1 .4-1.2 .7-.9 .6-.3 .1 .3-.5 .8-1 .7-1.1 .5M309.1 777.4l-1-1.1-.3-.9 .4-.1 .8 .8 .7 1.4 .2 1.6-.6 1.1-1.2 .4-1.4-.5-1.3-1M277.3 736.3l-1.1-1.5-.3-1.1 .4-.1 .9 .9 .7 1.7 .2 2-.6 1.5-1.4 .6-1.7-.5-1.6-1.3-.9-1.4-.2-1 .6 .1 .8 1.1 .7 1.8 0 1.9-.8 1.4-1.4 .4-1.7-.7-1.5-1.4-.8-1.4 0-.7 .6 .2 .9 1.3 .6 1.9-.2 1.9-.9 1.2"/></g><use href="#cl11" stroke="#2c9a3c" stroke-width="1.5"/><use href="#cl11" stroke="#a8f0b0" stroke-width="0.5" stroke-opacity="0.45" transform="translate(-0.4 -0.5)"/><g stroke="#145a1c" stroke-width="2.9"><path id="cl12" d="M298.4 717.5l.1-1.2 .3-.8 .3 .1 .1 .8-.4 1.3-.8 1.1-1 .6-.9-.3-.7-.9-.3-1.4 .1-1.2 .3-.7 .3 .2 0 .9-.4 1.3-.8 1-1 .5-1-.3-.7-1-.2-1.4 .1-1.2 .4-.5 .3 .2-.1 1M301.1 696l-1.3-1.2-.4-1 .4-.2 .9 .7 .9 1.5 .4 1.8-.4 1.5-1.2 .7-1.6-.3-1.6-.9-1-1.2-.3-.9 .6 0 .9 1 .9 1.6 .2 1.8-.6 1.3-1.3 .5-1.7-.5-1.5-1.1-.9-1.1 0-.7 .7 .3 1 1.1 .7 1.8 0 1.7-.8 1.1-1.4 .2-1.7-.6-1.4-1.2-.7-1.1 .2-.4 .8 .5 1 1.3 .6 1.8-.2 1.6-1 .9-1.6 0M278.2 698.7l.6 1.7 .1 1.1-.5 .1-.5-1-.3-1.8 .3-1.9 1-1.4 1.4-.3 1.4 .9 1.2 1.5 .6 1.7 0 1-.5 0-.5-1.1-.2-1.8 .3-1.9 1-1.3 1.4-.2 1.5 .9 1.1 1.6 .6 1.6-.1 1-.5-.1-.5-1.2-.2-1.9 .4-1.8 1.1-1.2 1.4-.1 1.5 1 1.1 1.6 .4 1.6-.1 .9-.5-.2-.5-1.3-.1-1.9M348.5 772l-.4 1.6-.6 .9-.3-.3 .2-1.1 .8-1.6 1.3-1.2 1.4-.4 1.2 .8 .5 1.6-.1 1.8-.5 1.4-.5 .4-.2-.6 .5-1.4 1-1.5 1.4-1 1.4 .1M319.3 774.9l.6-1 .5-.5 .3 .2-.3 .7-.8 .8-1.1 .7-1.1 .1-.8-.6-.2-1 .3-1.3 .6-1 .5-.5 .3 .2-.3 .7-.8 .9-1.1 .6-1.1 .1-.8-.5-.2-1.1 .3-1.3 .6-1 .5-.5 .3 .2-.3 .7-.8 .9-1.1 .6-1.1 .1-.8-.5-.2-1.1M279.9 734.2l-1.1 1.1-.9 .4-.2-.4 .7-.7 1.3-.8 1.6-.4 1.4 .3 .7 1-.2 1.5-.9 1.5-1.1 1-.8 .2-.1-.4 .8-.8 1.4-.8 1.6-.3 1.3 .5 .6 1.1-.4 1.5-.9 1.4-1.1 .9-.7 .2 0-.5 .9-.9 1.5-.7 1.6-.2 1.2 .6 .4 1.2-.4 1.5-1 1.3-1.1 .8-.6 .1 .1-.6 1-.8 1.6-.7 1.5-.1 1.2 .7M353.2 762.5l-1.7-.1-1-.5 .1-.4 1.1 0 1.7 .5 1.5 1 .8 1.3-.4 1.4-1.3 .9-1.8 .4-1.7-.2-.8-.4 .3-.4 1.3 0 1.7 .6 1.4 1.1 .6 1.4-.5 1.3-1.5 .8M273.8 731.8l-.1-1.5 .2-.8 .4 .1 .2 1-.3 1.5-.7 1.5-1.1 .7-1.2-.3-1-1.2-.4-1.6 0-1.3 .3-.5 .4 .4 0 1.3-.4 1.6-1 1.2-1.1 .3-1.2-.6-.7-1.4-.3-1.6 .2-1.1 .4-.1 .2 .8-.1 1.5M309.9 715.7l.9-1.7 .9-.7 .3 .3-.5 1.2-1.3 1.4-1.8 1-1.7 0-1.1-1-.2-1.8 .6-2 .9-1.5 .8-.5 .2 .6-.8 1.3-1.4 1.4-1.8 .8-1.6-.3-.9-1.3 0-1.9 .7-1.9 1-1.2 .6-.2 0 .8-1 1.4-1.6 1.2-1.8 .6-1.4-.5-.7-1.5 .2-2 .8-1.8 1-1 .5 .1-.3 1-1.2 1.4M351.5 731.8l-.9-1.7 0-1.2 .4 0 .7 1.1 .4 2-.3 2-1 1.3-1.5 .1-1.6-.9-1.3-1.7-.5-1.6 .1-.7 .7 .4 .6 1.5 .1 2-.5 1.9-1.3 .9-1.6-.3-1.5-1.3-1-1.7-.3-1.4M311.3 755.9l1.4 0 .8 .3-.1 .4-.9 .1-1.3-.3-1.3-.8-.7-1 .1-1.1 1-.9 1.5-.4 1.3 0 .8 .4-.1 .3-.9 .1-1.4-.4-1.3-.7-.6-1.1 .2-1.1 1-.8 1.5-.4 1.3 .1 .7 .3-.1 .3-1 .1-1.3-.4-1.3-.8-.6-1 .2-1.1 1.1-.8 1.4-.4 1.4 .1 .6 .3-.1 .3-1 .1-1.4-.4M348.9 766.2l.6-1.7 .7-.8 .3 .3-.3 1.2-1.1 1.6-1.5 1.1-1.5 .1-1.1-1-.4-1.8 .4-1.9 .7-1.3 .5-.2 0 .9-.7 1.5-1.3 1.4-1.6 .6-1.4-.4-.7-1.5M314.1 776.1l.3 1.7-.2 1-.4-.1-.3-1.1 .1-1.7 .8-1.7 1.1-.9 1.4 .1 1.2 1.2 .7 1.7 .1 1.6-.3 .7-.4-.3-.2-1.4 .3-1.8 .8-1.5 1.3-.7 1.3 .5 1.1 1.3 .5 1.8 0 1.4-.3 .5-.4-.7-.1-1.5 .4-1.8 1-1.3 1.3-.4M336 764.6l-.5-1.4 0-1 .4 0 .5 1 .1 1.6-.4 1.6-.9 1-1.2 .1-1.3-.9-.8-1.4-.4-1.4 .2-.7 .4 .3 .4 1.2 0 1.6-.5 1.5-1.1 .8-1.3-.2-1.1-1.1-.8-1.5-.2-1.3 .3-.4 .5 .6 .3 1.4M348.2 737.9l-1.1 1.2-.9 .5-.3-.4 .7-.9 1.4-.9 1.8-.5 1.5 .3 .7 1.1-.1 1.6-.9 1.6-1.1 1.1-.9 .3 0-.5 .9-1 1.5-.9 1.7-.3 1.4 .5 .6 1.3-.4 1.6-1 1.6-1.1 .9-.7 .1 .2-.6 1-1 1.7-.9 1.7-.1 1.2 .7 .4 1.3-.6 1.7-1 1.5-1.1 .8-.5-.1 .3-.8 1.2-1 1.7-.7M267.7 735.5l-1.8-.6-.9-.7 .3-.4 1.3 .3 1.7 1.1 1.2 1.6 .2 1.6-.9 1.2-1.9 .4-2-.2-1.5-.7-.4-.7 .8-.1 1.5 .6 1.6 1.3 .8 1.7-.2 1.5M282.5 730.2l-1.4 .3-.8-.1 0-.3 .9-.4 1.4 0 1.5 .5 .9 .9 0 1.2-.9 1-1.4 .7-1.3 .3-.7-.2 .3-.4 1.1-.3 1.5 .1 1.4 .6 .7 1-.3 1.2-1.1 1-1.4 .6-1.2 .1M319.7 740.2l1-1.6 1-.7 .3 .3-.6 1.2-1.4 1.3-1.8 .9-1.7 0-1.1-1.1-.1-1.9 .7-2 1-1.4 .8-.4 .1 .6-.8 1.2-1.5 1.3-1.9 .7-1.6-.3-.8-1.4M284.3 753.3l.6-1.2 .5-.5 .3 .1-.2 .8-.8 1-1.1 .8-1.2 .3-.8-.6-.4-1.1 .2-1.4 .5-1.1 .6-.6 .2 .2-.2 .8-.8 1-1.1 .8-1.2 .2-.8-.5-.4-1.2 .2-1.4 .5-1.1 .6-.6 .3 .2-.3 .8-.8 1-1.1 .8-1.2 .2-.8-.5-.4-1.2 .2-1.3 .6-1.2 .5-.5 .3 .2-.3 .8-.8 1-1.1 .8-1.2 .2-.8-.6-.3-1.1 .2-1.4 .5-1.1 .6-.6 .2 .2-.3 .9-.8 1-1.1 .8-1.1 .1M314.6 718.2l-.1 1.2-.3 .7-.3-.1 0-.8 .4-1.2 .7-1.1 1-.5 1 .3 .6 1 .3 1.3-.2 1.2-.3 .5-.3-.2 0-.9 .5-1.2 .8-1 1-.4 .9 .4 .6 1.1 .2 1.3-.2 1.1-.4 .4-.2-.3 .1-1 .5-1.3 .9-.9 1-.2 .9 .5 .5 1.2 .1 1.3-.2 1-.4 .3-.2-.5 .2-1.1 .6-1.2 .9-.8 1-.1 .8 .7 .5 1.2 0 1.3-.3 .9-.3 .1-.1-.6 .2-1.1 .7-1.2M280.1 712.8l1.3-.4 .8 .1 0 .3-.8 .4-1.3 0-1.3-.3-.9-.8-.1-1 .7-1 1.2-.7 1.2-.3 .7 .1-.1 .3-.9 .3-1.3 0-1.4-.4-.7-.8 0-1 .8-1 1.2-.7 1.1-.2 .7 .1-.3 .4-.9 .3-1.4-.1-1.3-.4-.6-.9 .1-1 .9-1 1.2-.6 1.1-.2 .5 .2-.3 .3-1.1 .3-1.4-.1-1.2-.5-.5-.9 .2-1.1 1-.9 1.2-.6 1.1-.1 .4 .2-.5 .4-1.1 .2-1.4-.1-1.1-.6-.5-.9M349.1 730l-.9 1.5-.8 .6-.2-.4 .6-1.1 1.3-1.2 1.6-.7 1.5 .2 .7 1.2 0 1.7-.7 1.7-.9 1.1-.6 0 .2-.8 1-1.2 1.5-1 1.6-.3 1.2 .8 .3 1.5"/></g><use href="#cl12" stroke="#44b455" stroke-width="1.5"/><use href="#cl12" stroke="#a8f0b0" stroke-width="0.5" stroke-opacity="0.45" transform="translate(-0.4 -0.5)"/></g><path d="M322 642l23-12 27 0 20 10 4 15-11 13-13 16-12 16-15 12-20-6-15-13-8-13 5-18z" fill="#c83420" opacity="0.18"/><g fill="none" stroke-linecap="round" stroke-linejoin="round"><path d="M313.7 693.5l-.9-4.7 7.7-3.8 5 4.5 5.1-3M381.7 649.6l-7-2.8 .5-7.5-3.2-3.8-3.8-3.9-2.5-3.7M352.5 628.8l-5.7-2.9-4.2 1.5-5.1 4.1M326.5 641.3l-2.2 6.5 1.7 4.7-2.7 7.6 3 6 6.7 1.2M316.6 689.3l-6.3 2.9M376.3 636.8l-6.3-5.7-5.6 4.5-4.8 .1-5.2-1-6 3.8M347.2 639.9l-3.2-3.4-4.5-4.9M357.9 679.1l-3.2-7.1-3.7-7.7-1.7-5.5-6.3-1.8-5.4-1.8M350.1 627.2l-5.1-3.2M389.2 640.4l-.3-5.1-4.3-5.8M365.5 657.5l-1.5-5-4.4-4.7-3.9-3.2M356.9 686.7l-3.1 5.3 3.8 7.7M372.4 631.6l8.4 0 3.7 8-3.2 8M324.7 670.1l3.5-5.7 7.4-3.5 4.9 1.8 1.9 4.1M350.4 632.9l-4.9-3.8-2.6-3.5M373.2 636.2l-4 0-5.9-4.4-6.3 4.6 1.3 5-3.8 6.8M340.1 708.3l-7.1-4.1-2.1-7.1-.8-5.2-6.9-2.2M360.2 637.7l-4.3 2.9-3.1 6.8-5.5 .4-5.2 3.5-5.1 5M338.6 668.5l-5.3-.8-6.5 4.7-3.8 3.9-7.2-.4-7.8-1.3M378 651.1l2.5-4.9 7.3 1 4.1 7.1 6.5 1M373.9 645.4l-7.2 4.8-5.9 5.2-5.6-4.1-3.3-6.1-3.2-5M308.9 662.5l-.1-6.1 6.3-3.2 5.4-.1 2.6 5.1-2.4 4.6-7.3-1.3" stroke="#c42a16" stroke-width="1.2"/><path d="M328 643.2l-.2 6.7 5.8 2.1 1.9 5-2.7 4.4M303.5 673.1l6.3 5.1 6.8 5.2-.2 8.1-3.9 3.3M310.2 668.3l-2.5-4.9M335.5 684.5l-4.2 7.6 2.8 6.6-.9 7.5M343.5 722.7l-3.3-7.9 .6-5.2-1.7-6.1-8.4-1.9M339.3 675l-2 8.7-4.2 1.6 .2 4.1M312.2 658.8l1.3-4.5 4.3-3.1 3.2-4.1 5-3.6 6.1-.7M352.5 641.3l-2.3 4.3-3.8 5.9-3.2 6.4-4.3 5.8M352.4 712.8l-1.1 4.2-5.6 1.7M340.7 643.4l6-3.3 2.4-5.9 1.6-5.5 2.4-4.1" stroke="#b82412" stroke-width="1.2"/><path d="M341.8 633.9l-4-1.2M393.2 650.3l4.3-7.3M302.8 674.9l-8.1 .4M355 649l8.6 .3 3.6-3.5-2.2-3.5 2.4-8-2.6-3.2M330.6 681.3l-6.4 4.1-.9 4 .8 6.1-4.9 4.5M320.7 681.9l-5.5-.4-6.3-1.9-4.8-.7M360.3 669.8l4.3 3.4 .8 7-7.7 2.6 1 6.7 1.8 4.7M373.6 672.6l4.9 1.6M358.8 648.3l8-1.1 2.8 5.6-1.9 6.2 0 4.6-3.7 7.8" stroke="#d23a20" stroke-width="1.2"/><g stroke="#5a0c06" stroke-width="3.1"><path id="cl13" d="M321.7 661.5l-1.4 .2-.9-.2 .1-.4 .9-.2 1.4 .2 1.4 .6 .8 .9-.1 1.2-.9 .9-1.5 .6-1.3 .1-.7-.2 .1-.4 1.1-.2 1.4 .3 1.3 .6 .7 1.1-.2 1.1-1 .9-1.5 .5-1.3 0-.6-.2 .3-.4 1.2-.1 1.4 .3 1.3 .7 .5 1.1-.3 1.1-1.2 .8M378.1 657.2l1.9-.7 1.3 0 0 .5-1.3 .6-2.1 .2-2.2-.5-1.3-1.3 0-1.6 1.2-1.7 2-1.1 1.7-.4 .9 .2-.5 .6-1.7 .5-2.2 0-1.9-.8-.9-1.5 .4-1.7 1.6-1.5 2-.9 1.5-.1 .4 .4M344.2 704.7l.1 1.3-.3 .7-.3 0-.1-.9 .2-1.2 .7-1.2 .9-.6 1 .2 .8 .9 .4 1.3-.1 1.2-.2 .6-.3-.3-.1-.9 .3-1.3 .8-1.1 1-.4 .9 .3 .7 1.1 .3 1.3-.1 1.1-.3 .4-.3-.4 .1-1.1 .4-1.2 .8-1 1-.3 .9 .5 .6 1.2 .2 1.3-.1 .9-.4 .3-.2-.6 .1-1.1 .5-1.3 .9-.9 1-.1 .9 .7 .5 1.2 .1 1.3-.2 .9-.3 0-.2-.7 .2-1.2 .6-1.2M369.8 672.5l1.1-.6 .8-.1 .1 .3-.7 .5-1.2 .3-1.4 0-1-.6-.3-1 .4-1.1 1-.9 1.1-.6 .8 0 0 .3-.7 .5-1.2 .3-1.4-.1-1-.6-.3-1 .5-1.1 1-.9 1.2-.6 .7 0 0 .3-.8 .5-1.3 .3-1.3-.1-1-.7-.2-1 .5-1 1.1-1 1.1-.4 .7-.1-.1 .4-.8 .5-1.3 .2-1.3-.1-.9-.7-.2-1 .6-1.1 1-.9 1.1-.4 .7 0-.1 .4M341 638.7l1.2-1.2 1-.5 .3 .4-.7 .9-1.6 .9-1.8 .5-1.6-.4-.8-1.1 .2-1.7 1-1.6 1.2-1.2 1-.4 .1 .5M339.2 691.2l1.3 .5 .7 .6-.2 .3-.9-.3-1.2-.8-.9-1.2-.3-1.2 .6-.9 1.3-.4 1.5 .2 1.3 .5 .5 .5-.4 .3-1-.4-1.2-.9-.8-1.2 0-1.2 .7-.9 1.4-.2 1.5 .2 1.1 .6 .3 .5-.5 .1-1-.4-1.2-1-.7-1.3 .1-1.1 .9-.8 1.4-.2 1.5 .4 1 .6 .2 .4-.7 0-1.1-.5M289.7 672.2l-1.8 0-1-.4 .1-.5 1.1-.1 1.7 .5 1.7 1 .9 1.3-.2 1.4-1.3 1.1-1.8 .5-1.8 0-1.1-.4 .1-.5 1.1-.1M345.2 625l1-1.4 .9-.6 .3 .4-.6 1-1.4 1.2-1.7 .7-1.6-.2-.9-1.1 0-1.7 .8-1.8 1-1.3 .8-.3 0 .6-.8 1.2-1.6 1.1-1.7 .4-1.4-.4M375.2 676.2l1.4 .7 .6 .7-.3 .3-1-.4-1.1-1.1-.8-1.5 0-1.3 .9-.9 1.5-.1 1.6 .5 1.2 .7 .3 .7-.5 0-1.1-.6-1.1-1.3-.6-1.4 .3-1.3 1.1-.6 1.6 .1 1.6 .6 .9 .8 0 .5-.7-.2-1.2-.9-1-1.3-.3-1.5 .6-1.1 1.3-.4 1.7 .3 1.3 .7 .7 .8M357.1 642.8l-.6-1.5 0-1 .5 0 .4 1 .2 1.8-.4 1.7-1 1.1-1.3 0-1.4-1-.9-1.6-.4-1.4 .3-.6 .5 .4 .4 1.4-.1 1.8-.6 1.5-1.2 .7-1.4-.4M343.4 685.3l-1.4 1.4-1.2 .5-.2-.4 .8-1 1.8-1.1 2.1-.4 1.7 .4 .9 1.4-.3 1.9-1.1 1.9-1.5 1.2-1 .3-.1-.5 1.1-1.1 1.9-1 2.1-.3 1.6 .6 .6 1.5-.4 2-1.3 1.8-1.4 1.1-.9 .1M313.9 665.4l-.7 1.9-.8 1-.4-.3 .3-1.3 1.2-1.7 1.7-1.4 1.8-.3 1.3 .9 .6 1.8-.3 2.2-.7 1.8-.8 .7-.3-.5 .5-1.5 1.3-1.7 1.7-1.2 1.8-.1 1.2 1.1 .4 2-.4 2.2-.8 1.6-.7 .4-.2-.7M342.5 718.8l-1.7 .1-1-.3 .2-.5 1.3-.1 1.8 .4 1.6 1 .6 1.3-.6 1.4-1.5 .9-1.9 .4-1.3-.2-.3-.4 .8-.3 1.7 .1 1.8 .8"/></g><use href="#cl13" stroke="#c42a16" stroke-width="1.7"/><use href="#cl13" stroke="#ff9070" stroke-width="0.6" stroke-opacity="0.45" transform="translate(-0.4 -0.5)"/><g stroke="#5a0c06" stroke-width="3.1"><path id="cl14" d="M312.9 686.9l-1-1.3-.2-1 .4-.1 .7 .9 .7 1.5 0 1.8-.6 1.2-1.3 .4-1.5-.6-1.3-1.2-.7-1.2 .1-.7 .6 .3 .7 1.3 .5 1.7-.2 1.6-1 .9-1.4-.1-1.5-.9-1-1.3M359.3 662.6l-1.8 .4-1-.2 0-.4 1.1-.4 1.9 .1 1.8 .7 1.1 1.2-.1 1.4-1.2 1.3-1.7 .8-1.7 .3-.8-.3 .3-.5 1.4-.3 1.9 .2 1.7 .8 .8 1.3-.4 1.5-1.4 1.2-1.8 .7-1.5 .1-.6-.4 .6-.5 1.6-.1 1.9 .3M344.1 677.5l-1.5-1.1-.6-1.1 .4-.2 1.1 .7 1.2 1.5 .7 2-.3 1.7-1.3 .9-1.8-.2-1.9-.9-1.3-1.2-.3-.8 .6-.1 1.2 1 1.1 1.7 .4 1.9M363.2 676l1.3 1 .5 .8-.4 .3-.9-.6-1-1.3-.5-1.6 .1-1.4 1.1-.8 1.5 0 1.6 .8 1.1 1 .3 .7-.5 .1-1-.8-.9-1.4-.4-1.6 .4-1.3 1.1-.6 1.6 .2 1.5 .9 1 .9 .1 .7-.6-.2-1.1-.9-.8-1.5-.3-1.6 .6-1.1 1.3-.4 1.6 .4 1.5 .9 .7 .9-.1 .5-.7-.3-1-1.1-.8-1.6M378 663.7l-1.4-.5-.6-.6 .2-.3 .9 .2 1.3 .9 1 1.2 .2 1.3-.7 1-1.4 .4-1.6-.2-1.2-.5-.5-.6 .4-.2 1.1 .4 1.2 1 .9 1.3 0 1.2-.9 .9-1.5 .2-1.5-.3-1.1-.6-.3-.5 .6-.1 1.2 .6 1.2 1.1 .6 1.3M325.1 671.6l-1.3-.9-.5-.8 .3-.3 .9 .6 1 1.2 .7 1.5-.2 1.4-.9 .7-1.5 0-1.6-.6-1.1-.9-.3-.7 .5-.1 1 .7 1 1.4 .4 1.5-.4 1.3-1.1 .6-1.6-.2-1.4-.8-.9-.9-.1-.6 .6 .2 1.1 .9 .8 1.4 .3 1.5-.6 1.1-1.3 .4-1.6-.4-1.3-.8-.7-.9 .1-.4 .8 .4 1 1 .8 1.5 0 1.5M348.6 719.6l.1-1.3 .4-.7 .3 .2 0 .8-.5 1.3-.9 1-1.1 .5-1-.5-.6-1.1-.1-1.4 .3-1.2 .4-.5 .2 .4-.1 1-.7 1.2-.9 1-1.1 .2-.9-.7-.5-1.2 0-1.4 .4-1M323.8 675.4l-.1-1.5 .3-.9 .4 0 .2 1-.3 1.4-.8 1.5-1.1 .8-1.2-.1-.9-1.1-.6-1.5 0-1.5 .3-.9 .4 .1 .1 1-.3 1.5-.8 1.4-1.1 .8-1.2-.1-.9-1.1-.5-1.6 0-1.4 .3-.9 .4 .2 .1 1-.4 1.5-.8 1.4-1.1 .7-1.2-.2-.9-1.1-.5-1.5 0-1.5 .4-.8 .3 .2 .1 1.1-.3 1.5-.8 1.4-1.2 .7-1.2-.3M378.4 652.3l-.3 1.4-.4 .8-.4-.1 .1-1 .6-1.3 1-1.2 1.3-.5 1.1 .4 .6 1.2 .1 1.6-.3 1.4-.5 .7-.3-.2 .1-1 .7-1.4 1.1-1.1 1.2-.4 1.1 .5 .6 1.2 .1 1.6-.4 1.4-.5 .6-.3-.3 .2-1.1 .7-1.3 1.1-1.1 1.3-.3 1 .5 .5 1.4 .1 1.5-.4 1.3-.5 .6-.2-.4 .2-1.1 .7-1.4 1.2-1 1.2-.2 1 .6 .5 1.4 0 1.6-.4 1.2-.5 .5-.2-.5M342.2 632.4l1.1 .8 .5 .7-.2 .3-.8-.5-1-1-.6-1.4 .1-1.2 .8-.8 1.3 0 1.4 .5 1.1 .8 .3 .6-.3 .2-.9-.6-.9-1.1-.5-1.4 .2-1.2 .9-.6 1.4 0 1.4 .6 .9 .9 .2 .5-.5 0-.9-.6-.8-1.3-.4-1.3M361.2 692.6l-1.5 .1-.9-.2 0-.4 .9-.2 1.6 .2 1.5 .7 .9 1.1-.1 1.2-1 1-1.5 .7-1.5 .1-.9-.3 .1-.4 1-.2 1.5 .3 1.5 .7 .9 1.1-.1 1.2-1.1 1-1.5 .6-1.5 .1M348.9 720.6l1.8-.8 1.3-.1 .1 .5-1.1 .7-1.9 .4-2.1-.2-1.6-1-.5-1.5 .8-1.6 1.6-1.5 1.8-.8 1.2 0 .1 .4-1.1 .7-1.9 .4-2.2-.2-1.5-1-.5-1.5 .8-1.7 1.6-1.4 1.8-.7 1.2-.1 .1 .5-1.1 .7-2 .3-2.1-.2-1.5-1-.4-1.5 .8-1.7 1.6-1.4M367.6 642.4l1.4-.1 .8 .2-.1 .3-.9 .2-1.3-.2-1.3-.7-.7-1 .1-1 1-.9 1.4-.5 1.3 0 .6 .3-.3 .3-1.1 .1-1.4-.3-1.2-.8-.5-1 .4-1.1 1.2-.7 1.4-.4 1.1 .1 .4 .3M372.2 662.1l-1.3 .4-.8-.1 0-.3 .8-.4 1.4 0 1.4 .4 .8 .9 .1 1-.8 1.1-1.3 .7-1.3 .2-.6-.1 .2-.4 1-.3 1.4 .1 1.3 .5 .7 .9-.2 1.1-.9 1-1.3 .6-1.2 .1-.4-.2 .4-.4 1.1-.2 1.5 .1 1.2 .7 .5 1-.4 1-1.1 .9-1.4 .5-1 .1-.2-.3 .6-.4 1.3-.1M398.2 657.3l-.8-1.4-.1-.9 .4-.1 .6 .8 .4 1.6-.1 1.7-.7 1.2-1.2 .3-1.4-.6-1.2-1.3-.6-1.3 0-.8 .5 .1 .5 1 .4 1.6-.3 1.7-.8 1-1.3 .2-1.4-.8-1-1.4-.5-1.3 .1-.6M351.3 695.8l1.8 0 1 .3-.1 .5-1.2 .1-1.8-.4-1.7-.9-.8-1.4 .4-1.4 1.4-1 1.8-.5 1.7 .1 .7 .4-.5 .4-1.5 0-1.8-.6-1.5-1.1-.4-1.4 .7-1.3 1.6-.9 1.9-.3M290.6 670.7l1.2 .8 .6 .8-.4 .2-.9-.5-1.1-1.3-.6-1.5 .3-1.3 1-.7 1.6 .1 1.5 .7 1 .9 .1 .5-.7-.1-1.1-.9-.9-1.5-.2-1.5 .7-1M350.8 683l-2 .1-1.2-.4 .1-.5 1.4-.2 2 .5 1.9 1.1 1 1.6-.4 1.6-1.6 1.2-2.2 .5-1.9-.1-.9-.5 .5-.4 1.6-.1 2.1 .7 1.7 1.3 .7 1.6-.8 1.5-1.8 1.1-2.2 .3-1.7-.2-.5-.5 .8-.4M349.3 716.7l.3 1.6-.2 .9-.4-.1-.3-1.1 .2-1.6 .6-1.5 1.1-.8 1.2 .3 1.1 1.1 .6 1.6 0 1.3-.3 .5-.4-.5-.1-1.4 .4-1.7 .9-1.2 1.2-.3 1.1 .7 .9 1.4M314.3 662.8l-1.5-.6-.7-.6 .2-.4 .9 .3 1.3 .8 1.1 1.3 .4 1.3-.6 1.1-1.3 .6-1.7-.1-1.4-.6-.8-.6 .2-.3 1 .2 1.3 .8 1.1 1.3 .3 1.4-.6 1.1-1.3 .5-1.7-.1-1.4-.5-.7-.7 .2-.3 .9 .2 1.3 .9 1.1 1.3 .4 1.3-.6 1.1-1.4 .5-1.6-.1-1.5-.5-.7-.6 .2-.4M329.7 702.9l-.5-1.2 0-.8 .3 0 .4 .6 .2 1.3-.2 1.3-.6 1-.9 .3-1.1-.6-.9-1-.4-1.2 0-.7 .3 0 .4 .7 .2 1.3-.2 1.3-.7 .9-.9 .2-1.1-.5-.8-1.1-.5-1.1 0-.8 .4 .1 .4 .7 .2 1.3-.3 1.4M328.9 653.2l-.9 1-.7 .5-.2-.3 .5-.8 1.1-.9 1.5-.5 1.2 .2 .6 .9-.1 1.4-.6 1.4-.9 .9-.6 .2 0-.4 .7-.9 1.3-.8 1.4-.3 1.1 .4 .4 1.1-.3 1.4-.7 1.3-.9 .7-.4 0 .2-.6M352.9 640.8l-1.1 1.1-.9 .4-.2-.3 .6-.8 1.4-.8 1.6-.5 1.4 .3 .7 1-.1 1.5-.8 1.5-1.1 1-.9 .3-.2-.3 .7-.8 1.4-.8 1.6-.4 1.4 .3 .6 1.1-.2 1.5-.8 1.4-1.1 1M369.1 686.7l-.9-1-.2-.7 .2-.2 .6 .6 .6 1.1 .3 1.3-.3 1.1-.8 .5-1.2-.1-1.1-.8-.8-.9-.3-.7 .3-.1 .7 .6 .6 1.2 .2 1.3-.4 1.1-.8 .4-1.2-.2-1.2-.8-.7-.9-.2-.6 .4-.1 .6 .7 .6 1.2 .2 1.3-.4 1M392.1 644.1l.7-1.3 .7-.7 .3 .3-.4 1-1.1 1.1-1.4 .9-1.4 0-.9-.8-.2-1.5 .4-1.7 .8-1.2 .7-.4 .1 .5-.6 1.1-1.2 1.1-1.5 .7-1.3-.2-.7-1.1 0-1.5 .5-1.6 .8-1.1 .6-.1-.1 .6-.7 1.2-1.3 1-1.5 .5-1.2-.4-.6-1.2 .2-1.6 .6-1.5 .8-.9 .4 0-.2 .9M322.9 662.1l1.5-.6 1-.1 .1 .4-.9 .5-1.6 .3-1.7-.2-1.2-.7-.4-1.2 .7-1.4 1.3-1.1 1.4-.6 1-.1 .1 .4-1 .6-1.6 .2-1.7-.2-1.2-.8-.3-1.2 .7-1.4 1.4-1.1 1.4-.6 .9 0 0 .5-.9 .5-1.7 .2-1.7-.2-1.1-.8-.3-1.3 .8-1.3 1.3-1.1 1.5-.6 .8 0"/></g><use href="#cl14" stroke="#b82412" stroke-width="1.7"/><use href="#cl14" stroke="#ff9070" stroke-width="0.6" stroke-opacity="0.45" transform="translate(-0.4 -0.5)"/><g stroke="#5a0c06" stroke-width="3.1"><path id="cl15" d="M335.6 684.2l-.5 1.4-.5 .7-.4-.2 .3-1 .8-1.3 1.2-1 1.3-.2 1 .6 .5 1.3-.2 1.6-.5 1.3-.6 .6-.2-.4 .4-1.1 .9-1.2 1.3-.9 1.2-.1 .9 .8 .4 1.4-.3 1.6-.6 1.2-.5 .3-.1-.5 .5-1.2 1-1.2 1.3-.8 1.2 .1 .8 1 .2 1.5M347.2 711.6l-1.2-.5-.5-.6 .2-.2 .8 .2 1 .8 .7 1.1 .2 1.1-.6 .8-1.2 .3-1.3-.2-1.1-.6-.4-.5 .3-.1 .9 .3 1 .9 .7 1.1 0 1.1-.8 .7-1.2 .2-1.3-.3-1-.6-.2-.4 .4-.1 1 .5 .9 .9 .6 1.2-.2 1-.8 .6-1.3 .1-1.3-.4-.9-.6-.1-.4 .6 0M290.1 675.5l1.2-.1 .8 .2 0 .4-.8 .1-1.3-.2-1.2-.6-.7-.9 0-1 .9-.9 1.3-.4 1.2-.1 .8 .2-.1 .4-.8 .1-1.3-.2-1.2-.7-.7-.9 .1-1 .9-.8 1.3-.5 1.3 0 .7 .3-.1 .3-.9 .1-1.3-.3-1.2-.6-.6-.9 .1-1M342.2 676.3l1.3-.9 1-.2 0 .4-.9 .7-1.6 .5-1.7-.1-1.2-.7-.2-1.3 .7-1.4 1.3-1.2 1.2-.6 .7 .1-.4 .6-1.3 .6-1.7 .3-1.5-.3-.9-1 .2-1.4 1-1.4 1.4-1 1-.3 .3 .4M346.7 694.7l-.7 1.9-.9 .9-.4-.3 .4-1.3 1.2-1.7 1.8-1.2 1.8-.3 1.2 1 .5 1.9-.3 2.1-.9 1.7-.8 .6-.2-.6 .6-1.4 1.4-1.6 1.8-1.1 1.7 .1 1.1 1.2 .2 2-.5 2.1-.8 1.5-.7 .3-.1-.8 .8-1.5 1.5-1.6 1.8-.8 1.6 .3M356 632.6l1.9-.3 1.1 .3-.1 .5-1.2 .3-2-.2-1.8-.9-1-1.3 .2-1.5 1.3-1.3 2-.7 1.7-.1 .8 .4-.4 .4-1.5 .2-2-.4-1.7-1-.7-1.4 .6-1.5 1.6-1.1M350.9 688.5l-1.4-1.2-.5-1 .4-.3 1 .8 1 1.5 .5 1.8-.3 1.6-1.2 .8-1.7-.2-1.7-.9-1.2-1.2-.3-.8 .6-.1 1 1 1 1.6 .4 1.9-.6 1.4-1.3 .5-1.8-.3M375.6 674.1l.4 1.5-.1 1-.4 0-.3-.9-.1-1.5 .5-1.7 .9-1.1 1.2-.1 1.2 .8 .9 1.4 .4 1.5-.1 1-.4 0-.4-.9 0-1.6M389.4 658.3l-.1 1.7-.5 .9-.4-.1 0-1.1 .5-1.7 1.1-1.5 1.4-.7 1.3 .4 .9 1.4 .3 1.8-.2 1.6-.4 .8-.4-.3 0-1.3 .7-1.7M355.4 684.5l.2-1.7 .6-.9 .3 .2 0 1.2-.7 1.6-1.2 1.3-1.4 .5-1.3-.5-.7-1.5-.1-1.9 .4-1.5 .5-.6 .3 .5-.3 1.3-.8 1.6-1.3 1.2-1.4 .2-1.1-.8-.6-1.7M308 668.4l-1.6-1.3-.6-1.1 .5-.2 1.2 .8 1.2 1.8 .6 2.1-.4 1.7-1.5 .8-2.1-.3-1.9-1.1-1.2-1.3 0-.8 .9 .3 1.3 1.3 1 2 .1 2M357.9 698.8l-.5-1.6 0-1.1 .4-.1 .5 1 .2 1.7-.4 1.8-.9 1.3-1.3 .3-1.4-.8-1.1-1.5-.5-1.6 0-1.1 .4 0 .5 .9 .2 1.7-.4 1.9-.9 1.2-1.3 .3-1.4-.8-1.1-1.5-.5-1.6M343 699.9l-.5 1.1-.6 .6-.2-.2 .3-.8 .8-1 1.1-.8 1.1-.1 .8 .6 .3 1.2-.3 1.3-.6 1.1-.5 .4-.1-.4 .3-.8 .9-1 1.2-.7 1.1 0 .7 .8 .1 1.2-.3 1.4-.6 .9-.5 .3 0-.5 .4-.9 1-1 1.2-.5 1 .1 .6 .9 0 1.3-.4 1.3-.5 .8-.5 .1 .1-.6 .6-.9 1-.9 1.2-.5 .9 .4 .5 .9 0 1.4-.5 1.2-.6 .7-.3 0M358.1 647.2l-.2 1.9-.5 1.1-.4-.1-.1-1.2 .5-1.8 1.2-1.8 1.5-.9 1.5 .3 1.1 1.4 .4 2-.1 1.9-.5 1.1-.5-.1 0-1.3 .5-1.8 1.2-1.7 1.5-.9 1.5 .3 1 1.4 .5 2-.1 1.9-.5 1.1-.5-.2-.1-1.2 .6-1.8 1.2-1.7 1.5-.9 1.4 .3 1.1 1.4M384.8 645.4l-1.6-.4-.9-.6 .2-.4 1.1 .2 1.6 .8 1.2 1.4 .5 1.5-.7 1.2-1.5 .6-1.9-.1-1.6-.5-.6-.6 .4-.3 1.2 .3 1.6 1 1.1 1.4 .2 1.5-.8 1.1-1.7 .5-1.8-.2-1.4-.5-.5-.6 .6-.2 1.3 .4 1.5 1.1 1 1.5 .1 1.4-1.1 1-1.7 .4-1.8-.3M332.9 673.8l-1.5 .1-1-.2 .1-.4 1-.2 1.6 .2 1.6 .8 .8 1.2-.2 1.3-1.2 1-1.6 .5-1.5 0-.8-.3 .3-.4 1.2-.1 1.7 .4 1.4 .9 .6 1.2-.4 1.3-1.3 .9-1.7 .4-1.4-.1-.5-.3 .5-.4 1.4 0 1.6 .5"/></g><use href="#cl15" stroke="#d23a20" stroke-width="1.7"/><use href="#cl15" stroke="#ff9070" stroke-width="0.6" stroke-opacity="0.45" transform="translate(-0.4 -0.5)"/></g><path d="M350 632l-10 16-10 16" fill="none" stroke="#4a4c5e" stroke-width="9.8" stroke-linecap="round" stroke-linejoin="round"/><path d="M347.6 627.2L352.4 636.8M343.6 633.6L348.4 643.2M339.6 640L344.4 649.6M335.6 646.4L340.4 656M331.6 652.8L336.4 662.4M327.6 659.2L332.4 668.8" stroke="#7c7eb8" stroke-width="2.6" stroke-linecap="round"/><path d="M349.5 631L351.7 635.4M345.5 637.4L347.7 641.8M341.5 643.8L343.7 648.2M337.5 650.2L339.7 654.6M333.5 656.6L335.7 661M329.5 663L331.7 667.4" stroke="#a4a6d8" stroke-width="1.3" stroke-linecap="round"/><g fill="none" stroke-linecap="round" stroke-linejoin="round"><path d="M348.8 689.1l-4.2-1.6-5.4-4.4-3.5-5.5-4.7-7.6 2.9-5.5 7.2-1.5M309.7 684.2l7.8-3.6 6-2.6 7.9 3.5 1.1 6.6-3.9 1.4M309 682.9l7.2-1.8 3.4-7 8.1-1.1 3.4-6.6M343.1 637l-4.6 6.8-5.1 3.3-4.3 1.6-2.8 5.7M322.3 700.5l4-1.9 4.4-2.8 2.3-5.2-2.8-6.3-5.2 .7-3.4 3.6M331.5 671.7l-3.1-2.8-5.9-1.8-2.6 5.1" stroke="#c42a16" stroke-width="1.3"/><path d="M360.6 630.5l.5 7.8-5 4 3.4 6.2 6.5 4.1 4.4 2.3M357.9 684.2l-.1-5.5-5.1-4.1-7.5-1.2-3.4-2-6.8 1.9M337.5 678.5l4.6-1.3 4.1-7.3 5.8-4.1-1.2-4.2-3.9-1.1-6.4-1.5M313 680.9l7.7-3.6 5.9-2.2 4.8 3.5M349.3 649.7l-2.7-4.2-5.8-5.8" stroke="#b82412" stroke-width="1.3"/><path d="M335.2 691.7l-3.4-3.1 .2-8.1-.9-5.3-6.4-.6-2.5-3.3M360.9 690.6l5.9-6.4 1-7.4 2.5-5.2-4.1-4.2-4-3.2M355 684.1l3.7-4.2 7.9-2.7 .1-4.9 6.5-2.4M312.6 666l4.5 1.2 7.5-2 .9-8.8 2.5-7.3M359.6 633.1l-.8 4.1-5.4 .8-5.5-3.8M380.5 662.3l7.4 1.9" stroke="#d23a20" stroke-width="1.3"/><g stroke="#5a0c06" stroke-width="3.3"><path id="cl16" d="M370.3 638.1l-.9-1.1-.3-.8 .3-.2 .7 .6 .6 1.3 .3 1.5-.4 1.2-1 .6-1.3-.3-1.2-.8-.9-1.1-.2-.8 .4-.1 .6 .7 .6 1.3 .2 1.5-.4 1.2-1 .5-1.3-.4-1.3-.9-.8-1.1-.1-.7 .4 0 .7 .8 .5 1.3 .2 1.5-.5 1.1-1.1 .4-1.3-.4-1.2-.9-.7-1.1-.1-.7 .4 .1 .7 .8M338.2 650.6l-.6 1.5-.7 .7-.4-.2 .3-1 1-1.3 1.4-1 1.4-.3 1.1 .7 .4 1.5-.2 1.7-.7 1.4-.6 .6-.3-.3 .3-1 1-1.3 1.4-1 1.5-.1 1 .7 .3 1.5-.2 1.7-.7 1.4-.7 .5-.2-.3 .4-1.1 1.1-1.3 1.4-.9 1.4-.1 1 .8 .3 1.6-.4 1.7-.7 1.3M335 649.9l1.4-1.1 1-.3 .2 .4-.9 .9-1.7 .7-1.9 .2-1.5-.6-.5-1.3 .6-1.8 1.2-1.5 1.3-.8 .8-.1-.2 .7-1.3 .9-1.8 .6-1.8-.1-1.2-.9-.1-1.6M325.9 659.6l.6 1.8-.1 1.2-.5 .1-.5-1.1-.1-1.9 .4-2 1.1-1.3 1.5-.3 1.5 .9 1.1 1.7 .6 1.8-.1 1.2-.5 0-.5-1.2-.1-1.9 .4-2M344.7 632l1.8-.3 1.1 .1-.1 .5-1.2 .4-1.8-.1-1.8-.7-1-1.2 .1-1.4 1.2-1.3M362.8 691.7l-1.6-.3-.9-.6 .2-.4 1.1 .1 1.6 .7 1.3 1.2 .6 1.4-.6 1.3-1.4 .7-1.9 .1-1.5-.4-.7-.5 .4-.3 1.3 .2M386.6 666.8l-.6 1.3-.7 .6-.2-.3 .5-1.1 1-1.2 1.4-.6 1.3 .2 .6 1 0 1.6-.5 1.5-.7 .8M351.6 684.7l1.3 .8 .5 .7-.2 .3-.8-.4-1.1-1-.7-1.4-.1-1.3 .7-.9 1.3-.2 1.5 .4 1.2 .7 .6 .7-.3 .3-.8-.4-1.1-1-.7-1.4 0-1.3 .7-.9 1.3-.2 1.5 .4 1.2 .8 .5 .7-.2 .2-.9-.4-1-1-.8-1.4 0-1.3 .8-.9 1.3-.2 1.5 .5 1.2 .7 .5 .7-.3 .2-.9-.4-1-1.1-.7-1.3 0-1.3 .7-.9 1.4-.1 1.5 .4 1.2 .8 .4 .6M349.6 696l-.2 1.5-.4 .9-.4-.2 .1-1.1 .6-1.5 1.1-1.2 1.2-.5 1.2 .6 .6 1.3 .1 1.7-.3 1.4-.4 .4-.3-.5 .3-1.3 .8-1.5 1.2-1 1.2-.1 1 .9 .5 1.6-.1 1.6-.4 1-.4 .1-.1-.8"/></g><use href="#cl16" stroke="#c42a16" stroke-width="1.8"/><use href="#cl16" stroke="#ff9070" stroke-width="0.6" stroke-opacity="0.45" transform="translate(-0.4 -0.5)"/><g stroke="#5a0c06" stroke-width="3.3"><path id="cl17" d="M392.5 657.7l1.8 .3 1 .6-.3 .4-1.3-.2-1.8-.8-1.4-1.4-.4-1.5 .9-1.3 1.8-.6 2 0 1.4 .5 .3 .5-.9 .2-1.7-.6-1.7-1.1M315.6 656.6l-1.2 1-.9 .4-.2-.4 .7-.7 1.4-.7 1.6-.3 1.4 .4 .7 1-.3 1.5-.9 1.4-1.2 .9-.9 .3-.1-.4 .7-.7 1.5-.7 1.6-.3 1.4 .5 .5 1.1-.3 1.4-.9 1.4-1.2 1M343.1 660l1.4-.1 .8 .3-.1 .3-1 .2-1.4-.3-1.3-.8-.7-1 .3-1.1 1.1-.9 1.5-.4 1.3 0 .5 .4-.4 .3-1.2 0-1.4-.4-1.2-.9-.3-1.1 .6-1.1 1.3-.7 1.4-.3 1.1 .2 .3 .4-.8 .2-1.3-.1-1.4-.6-1-1 0-1.1 .9-1 1.4-.6M323.2 696.4l-1.7-.5-.8-.7 .3-.3 1.2 .3 1.6 1 1.1 1.4 .1 1.5-.9 1.1-1.7 .4-1.9-.3-1.3-.6-.2-.6M336.8 689.9l1.6-1.5 1.2-.5 .2 .6-1 1.1-2 1-2.3 .4-1.8-.7-.7-1.6 .6-2.1 1.4-1.9 1.5-1.2 .9 0-.2 .8-1.5 1.2-2.3 .8-2.2 0-1.4-1.1-.2-1.9 1-2.1 1.6-1.7M335.6 705.2l-.5-1.4 .1-.9 .3-.1 .4 .9 .1 1.5-.3 1.6-.9 1-1.2 .1-1.1-.8-.9-1.4-.4-1.3 .2-.8 .4 .1 .3 1 .1 1.6-.5 1.5-.9 .8-1.2 0-1.2-.9-.8-1.4M356.1 687.2l-.4-1.6 .2-1 .4 0 .4 1-.1 1.7-.6 1.7-1 1-1.3 0-1.2-.9-.9-1.6-.2-1.6 .2-.9 .4 .1 .3 1.1-.1 1.8-.6 1.6-1.2 .9-1.3-.1-1.1-1.1-.8-1.6-.2-1.5 .2-.8 .5 .3 .2 1.2-.1 1.7-.7 1.6-1.2 .8-1.3-.2-1.1-1.2-.7-1.7-.2-1.4 .3-.7M317.6 682.8l.7 2-.1 1.2-.5 .1-.5-1.3-.2-2.1 .5-2.2 1.2-1.3 1.7-.1 1.6 1.2 1.2 1.9 .4 1.8-.2 1-.6-.4-.5-1.5 0-2.3 .8-1.9 1.3-1.1 1.7 .3 1.6 1.5 .9 1.9 .3 1.7-.4 .6-.6-.7-.4-1.8 .2-2.3 1-1.8 1.5-.6 1.7 .6 1.4 1.7 .8 2 0 1.4M342.8 676.5l.7 1.1 .1 .9-.3 .1-.5-.7-.5-1.3 0-1.4 .5-1.1 1-.4 1.2 .4 1.1 1 .6 1.1 .1 .8-.3 0-.5-.7-.4-1.3 0-1.5 .5-1 1.1-.3 1.2 .4 1 1.1 .6 1.1 .1 .7-.4 0-.6-.8-.3-1.4 0-1.4 .7-1 1-.2 1.2 .5 1 1 .6 1.1 0 .7-.4-.1-.6-.9-.3-1.4 .1-1.3 .7-1 1-.2M352.5 692.2l-1.1-1.5-.2-1.1 .4-.1 .8 .9 .6 1.7 .1 2-.7 1.4-1.4 .4-1.6-.6-1.5-1.3-.8-1.4 0-.9 .6 .2 .8 1.2 .5 1.9-.2 1.8-.9 1.2-1.5 .1M390.4 638.2l1.9-.8 1.3-.1 .1 .5-1.2 .7-2 .4-2.3-.3-1.6-1-.4-1.6 .9-1.7 1.8-1.5 1.8-.7 1.2 0M390.3 655.7l.6-1.2 .7-.6 .2 .2-.2 .9-.9 1-1.2 .8-1.3 .2-.9-.6-.3-1.2 .3-1.5 .6-1.2 .6-.6 .3 .3-.3 .8-.9 1.1-1.3 .7-1.2 .2-.9-.6-.3-1.3 .3-1.4 .6-1.2 .6-.5 .3 .2-.4 .8-.8 1.1-1.3 .8-1.2 .1-.9-.6-.3-1.3 .3-1.5 .7-1.1 .6-.5 .2 .2"/></g><use href="#cl17" stroke="#b82412" stroke-width="1.8"/><use href="#cl17" stroke="#ff9070" stroke-width="0.6" stroke-opacity="0.45" transform="translate(-0.4 -0.5)"/><g stroke="#5a0c06" stroke-width="3.3"><path id="cl18" d="M387.4 663l.6 1.6 0 1.1-.5 .1-.5-1.1-.2-1.8 .4-1.8 1-1.2 1.4-.2 1.4 .9 1.1 1.6 .4 1.6-.1 .9-.5-.2-.5-1.2-.1-1.9M332.3 696.2l-.9-1.7-.2-1.2 .5-.1 .7 1.1 .5 1.9-.2 2.1-.9 1.4-1.6 .3-1.6-.9-1.4-1.6-.7-1.6 .1-.9 .6 .3 .7 1.3 .3 2.1-.4 1.9M353.7 643.1l1.3 .4 .8 .6-.2 .3-.9-.2-1.2-.7-1.1-1.1-.3-1.2 .4-1.1 1.2-.5 1.6 0 1.3 .4 .7 .6-.2 .3-.9-.2-1.3-.7-1-1.1-.3-1.3 .5-1 1.2-.5 1.5 0 1.3 .5 .7 .5M365.6 661.6l-1.7-1.1-.7-1.1 .4-.3 1.1 .6 1.3 1.5 .9 2 0 1.8-1.1 1.1-1.9 .2-2-.7-1.6-1.2-.7-1 .4-.3 1.2 .6 1.3 1.6 .8 2 0 1.8-1.2 1.1-1.9 .1M367.9 657.7l-.6-1.2-.1-.9 .3-.1 .5 .7 .4 1.4-.1 1.5-.6 1.1-1 .4-1.2-.5-1.1-1-.6-1.2-.1-.9 .4-.1 .5 .8 .3 1.4 0 1.5-.7 1.1-1 .3-1.2-.5-1.1-1.1-.6-1.2 0-.8 .3 0 .6 .8 .3 1.4-.1 1.5-.7 1-1 .3-1.2-.5-1.1-1.2-.5-1.1-.1-.8 .4 0 .5 .9 .4 1.4-.2 1.4-.7 1.1-1 .2-1.2-.6-1.1-1.1-.5-1.2 0-.7 .4 .1M319.8 665l-1.9-.3-1.1-.6 .3-.5 1.4 .2 1.9 .8 1.5 1.5 .5 1.6-.7 1.5-1.9 .7-2.1 .1-1.7-.5-.6-.6 .7-.3 1.7 .4 1.8 1.1 1.3 1.6 0 1.6-1.2 1.3-2 .5-2.1-.2-1.3-.6-.1-.5 1.1-.1 1.8 .7M362.5 666.6l-1.5 1.2-1.1 .4-.2-.5 1-1 1.9-.8 2.1-.2 1.5 .8 .5 1.5-.7 1.9-1.4 1.6-1.4 .8-.8-.1 .4-.7 1.5-1 2.1-.5 1.9 .2M377.3 646.2l-1.8 .2-1.1-.3 0-.4 1.1-.3 1.8 .2 1.7 .7 1.2 1.2 0 1.4-1.1 1.3-1.8 .8-1.8 .2-1-.3 0-.4 1.1-.3 1.8 .2 1.8 .7 1 1.3 0 1.4-1.1 1.2-1.7 .8-1.8 .2-1.1-.2M349.2 703l-2.2-.1-1.1-.7 .4-.4 1.8 .1 2.2 1 1.6 1.6 .2 1.8M369.6 658.2l1-1.3 .8-.5 .3 .3-.6 .9-1.2 1-1.6 .6-1.4-.1-.9-1 0-1.5 .7-1.6 1-1.1 .8-.4 .1 .4-.6 .9-1.4 1-1.6 .5-1.4-.3-.7-1 .2-1.6 .7-1.6 1-1M366.5 669.9l-1.9-.3-1.1-.6 .2-.4 1.3 0 1.8 .8 1.6 1.4 .6 1.6-.5 1.4-1.6 .9-2.1 .2-1.8-.4-.9-.6 .3-.4 1.4 .2 1.9 .8 1.4 1.5 .5 1.6-.7 1.4-1.7 .7-2.1 .1-1.7-.4-.7-.6 .5-.4 1.5 .3 1.8 1 1.4 1.5 .3 1.6M328.8 661l.5 1.8-.1 1.1-.5 .1-.5-1.1 0-1.9 .5-1.9 1.1-1.3 1.4-.2 1.4 1 1.1 1.7 .5 1.7-.2 1.1-.4 0-.5-1.1 0-1.9 .5-1.9 1.1-1.2 1.5-.2 1.4 1 1 1.7 .5 1.8-.2 1.1-.5-.1-.4-1.2 0-1.9 .5-1.9 1.2-1.2 1.4-.1 1.4 1.1 1 1.7 .4 1.7-.1 1.1-.5-.1-.4-1.3 0-1.9M380.7 657l-.2-1.7 .2-1 .4 0 .3 1.1-.1 1.7-.7 1.7-1.2 1.1-1.4 0-1.2-1.1-.8-1.8-.2-1.6 .3-1 .4 .2 .3 1.2-.2 1.7-.8 1.7-1.2 1-1.3-.2-1.2-1.2-.7-1.8-.2-1.6 .3-.8 .5 .3 .2 1.3-.3 1.8-.8 1.6-1.3 .8-1.3-.3-1.2-1.3-.6-1.7-.1-1.6 .3-.7 .5 .4 .2 1.4-.4 1.8-.9 1.5M365.2 691.9l-1.3 .5-.8 0 0-.3 .8-.5 1.3-.1 1.4 .2 1 .7 .1 1.1-.7 1.1-1.2 .9-1.1 .3-.7 0 .1-.4 1-.4 1.4-.1 1.4 .4 .8 .8-.1 1.1M308.8 677.3l-1.7-.7-.9-.9 .3-.4 1.2 .4 1.6 1.2 1.2 1.6 .3 1.8-.9 1.2-1.8 .5-2-.3-1.7-.8-.7-.8 .4-.3 1.3 .5 1.6 1.3 1.1 1.7M332.4 656.5l-1.9 .6-1.2 0-.1-.5 1.2-.6 2.1-.1 2.1 .5 1.3 1.2 .2 1.6-1.1 1.5-1.9 1.2-1.8 .5-1.1-.2 .2-.5 1.4-.5 2.1-.1 2 .7 1.2 1.2-.1 1.7-1.2 1.5-2 1-1.7 .4-.8-.3 .4-.6 1.5-.4 2.2 .1 1.9 .7 1 1.4M325.8 643.8l1.8 .6 .9 .7-.2 .5-1.3-.3-1.7-1.1-1.3-1.6-.4-1.7 .8-1.3 1.7-.6 2.2 .2 1.7 .6M335.8 708.5l-.5-1.6 .2-1.1 .4 0 .4 1 0 1.7-.5 1.8-1.1 1.2-1.3 .1-1.3-.9-1-1.6-.4-1.7 .2-1 .4 0 .4 1.1 0 1.8-.5 1.7-1.1 1.2-1.4 0-1.3-1M363.9 694.9l1.1 1.6 .2 1.1-.5 .2-.7-1-.7-1.9 0-1.9 .8-1.5 1.4-.4 1.7 .6"/></g><use href="#cl18" stroke="#d23a20" stroke-width="1.8"/><use href="#cl18" stroke="#ff9070" stroke-width="0.6" stroke-opacity="0.45" transform="translate(-0.4 -0.5)"/></g></g>
<g stroke="#333" stroke-width="0.5"><circle cx="391" cy="686" r="2.6" fill="#58c838"/><circle cx="395" cy="682.5" r="2.4" fill="#70d848"/><circle cx="393.5" cy="690" r="2.2" fill="#48b830"/><circle cx="399" cy="684" r="2.8" fill="#d83820"/><circle cx="403" cy="688" r="2.6" fill="#c83018"/><circle cx="398" cy="690" r="2.4" fill="#e04428"/><circle cx="402.5" cy="682" r="2.2" fill="#d03020"/></g>
<!-- dashed zoom lines -->
<path d="M429.4 643.8 L513.2 581.8 M456.6 725.5 L513.2 747.3" stroke="#222" stroke-width="1.8" stroke-dasharray="5.5 3.3" fill="none"/>

<!-- Panel D -->
<g id="panelD">
  <clipPath id="dclip"><rect x="514" y="582" width="167" height="166.5"/></clipPath>
  <g clip-path="url(#dclip)"><g id="panelDc"><g opacity="0.82" fill="none"><g stroke="#50547a" stroke-width="8.0"><ellipse cx="600" cy="580" rx="10" ry="5.9" transform="rotate(190 600 580)"/><ellipse cx="602" cy="594" rx="10" ry="5.9" transform="rotate(190 602 594)"/><ellipse cx="604" cy="608" rx="10" ry="5.9" transform="rotate(190 604 608)"/><ellipse cx="606" cy="622" rx="10" ry="5.9" transform="rotate(190 606 622)"/></g><g stroke="#9a9ec0" stroke-width="6.4"><ellipse cx="600" cy="580" rx="10" ry="5.9" transform="rotate(190 600 580)"/><ellipse cx="602" cy="594" rx="10" ry="5.9" transform="rotate(190 602 594)"/><ellipse cx="604" cy="608" rx="10" ry="5.9" transform="rotate(190 604 608)"/><ellipse cx="606" cy="622" rx="10" ry="5.9" transform="rotate(190 606 622)"/></g></g><g opacity="0.82" fill="none"><g stroke="#50547a" stroke-width="8.0"><ellipse cx="606" cy="668" rx="14" ry="8" transform="rotate(207 606 668)"/><ellipse cx="602.7" cy="688" rx="14" ry="8" transform="rotate(207 602.7 688)"/><ellipse cx="599.4" cy="708.1" rx="14" ry="8" transform="rotate(209 599.4 708.1)"/><ellipse cx="595.7" cy="728" rx="14" ry="8" transform="rotate(209 595.7 728)"/><ellipse cx="592" cy="748" rx="14" ry="8" transform="rotate(209 592 748)"/></g><g stroke="#9a9ec0" stroke-width="6.4"><ellipse cx="606" cy="668" rx="14" ry="8" transform="rotate(207 606 668)"/><ellipse cx="602.7" cy="688" rx="14" ry="8" transform="rotate(207 602.7 688)"/><ellipse cx="599.4" cy="708.1" rx="14" ry="8" transform="rotate(209 599.4 708.1)"/><ellipse cx="595.7" cy="728" rx="14" ry="8" transform="rotate(209 595.7 728)"/><ellipse cx="592" cy="748" rx="14" ry="8" transform="rotate(209 592 748)"/></g></g><g opacity="0.82" fill="none"><g stroke="#52546a" stroke-width="8.0"><ellipse cx="590" cy="705" rx="12" ry="7.6" transform="rotate(150 590 705)"/><ellipse cx="606.3" cy="719.8" rx="12" ry="7.6" transform="rotate(150 606.3 719.8)"/><ellipse cx="623" cy="734" rx="12" ry="7.6" transform="rotate(147 623 734)"/><ellipse cx="640" cy="748" rx="12" ry="7.6" transform="rotate(147 640 748)"/></g><g stroke="#9496aa" stroke-width="6.4"><ellipse cx="590" cy="705" rx="12" ry="7.6" transform="rotate(150 590 705)"/><ellipse cx="606.3" cy="719.8" rx="12" ry="7.6" transform="rotate(150 606.3 719.8)"/><ellipse cx="623" cy="734" rx="12" ry="7.6" transform="rotate(147 623 734)"/><ellipse cx="640" cy="748" rx="12" ry="7.6" transform="rotate(147 640 748)"/></g></g><g opacity="0.82" fill="none"><g stroke="#50547a" stroke-width="8.0"><ellipse cx="634" cy="592" rx="17" ry="9.2" transform="rotate(200 634 592)"/><ellipse cx="633" cy="616" rx="17" ry="9.2" transform="rotate(200 633 616)"/><ellipse cx="632" cy="640" rx="17" ry="9.2" transform="rotate(200 632 640)"/><ellipse cx="631" cy="664" rx="17" ry="9.2" transform="rotate(200 631 664)"/></g><g stroke="#9a9ec0" stroke-width="6.4"><ellipse cx="634" cy="592" rx="17" ry="9.2" transform="rotate(200 634 592)"/><ellipse cx="633" cy="616" rx="17" ry="9.2" transform="rotate(200 633 616)"/><ellipse cx="632" cy="640" rx="17" ry="9.2" transform="rotate(200 632 640)"/><ellipse cx="631" cy="664" rx="17" ry="9.2" transform="rotate(200 631 664)"/></g></g><g opacity="0.82" fill="none"><g stroke="#50547a" stroke-width="8.0"><ellipse cx="660" cy="578" rx="10" ry="6.7" transform="rotate(177 660 578)"/><ellipse cx="665.8" cy="593.5" rx="10" ry="6.7" transform="rotate(177 665.8 593.5)"/><ellipse cx="671.6" cy="609" rx="10" ry="6.7" transform="rotate(177 671.6 609)"/><ellipse cx="677.3" cy="624.5" rx="10" ry="6.7" transform="rotate(178 677.3 624.5)"/><ellipse cx="683" cy="640" rx="10" ry="6.7" transform="rotate(178 683 640)"/></g><g stroke="#9a9ec0" stroke-width="6.4"><ellipse cx="660" cy="578" rx="10" ry="6.7" transform="rotate(177 660 578)"/><ellipse cx="665.8" cy="593.5" rx="10" ry="6.7" transform="rotate(177 665.8 593.5)"/><ellipse cx="671.6" cy="609" rx="10" ry="6.7" transform="rotate(177 671.6 609)"/><ellipse cx="677.3" cy="624.5" rx="10" ry="6.7" transform="rotate(178 677.3 624.5)"/><ellipse cx="683" cy="640" rx="10" ry="6.7" transform="rotate(178 683 640)"/></g></g><g opacity="0.82" fill="none"><g stroke="#50547a" stroke-width="8.0"><ellipse cx="620" cy="735" rx="15" ry="8.4" transform="rotate(65 620 735)"/><ellipse cx="637.1" cy="718.9" rx="15" ry="8.4" transform="rotate(65 637.1 718.9)"/><ellipse cx="654.2" cy="702.7" rx="15" ry="8.4" transform="rotate(65 654.2 702.7)"/><ellipse cx="671.1" cy="686.4" rx="15" ry="8.4" transform="rotate(64 671.1 686.4)"/><ellipse cx="688" cy="670" rx="15" ry="8.4" transform="rotate(64 688 670)"/></g><g stroke="#9a9ec0" stroke-width="6.4"><ellipse cx="620" cy="735" rx="15" ry="8.4" transform="rotate(65 620 735)"/><ellipse cx="637.1" cy="718.9" rx="15" ry="8.4" transform="rotate(65 637.1 718.9)"/><ellipse cx="654.2" cy="702.7" rx="15" ry="8.4" transform="rotate(65 654.2 702.7)"/><ellipse cx="671.1" cy="686.4" rx="15" ry="8.4" transform="rotate(64 671.1 686.4)"/><ellipse cx="688" cy="670" rx="15" ry="8.4" transform="rotate(64 688 670)"/></g></g><g opacity="0.82" fill="none"><g stroke="#52546a" stroke-width="8.0"><ellipse cx="640" cy="750" rx="9" ry="6.7" transform="rotate(82 640 750)"/><ellipse cx="656.4" cy="742.1" rx="9" ry="6.7" transform="rotate(82 656.4 742.1)"/><ellipse cx="673.1" cy="734.8" rx="9" ry="6.7" transform="rotate(86 673.1 734.8)"/><ellipse cx="690" cy="728" rx="9" ry="6.7" transform="rotate(86 690 728)"/></g><g stroke="#9496aa" stroke-width="6.4"><ellipse cx="640" cy="750" rx="9" ry="6.7" transform="rotate(82 640 750)"/><ellipse cx="656.4" cy="742.1" rx="9" ry="6.7" transform="rotate(82 656.4 742.1)"/><ellipse cx="673.1" cy="734.8" rx="9" ry="6.7" transform="rotate(86 673.1 734.8)"/><ellipse cx="690" cy="728" rx="9" ry="6.7" transform="rotate(86 690 728)"/></g></g><g opacity="0.75"><path d="M627 582 C635 592 645 602 652 611" fill="none" stroke="#50547a" stroke-width="5.6" stroke-linecap="round" stroke-linejoin="round"/><path d="M627 582 C635 592 645 602 652 611" fill="none" stroke="#9a9ec0" stroke-width="4.0" stroke-linecap="round" stroke-linejoin="round"/></g><g opacity="0.75"><path d="M622 582 C630 594 640 606 648 615" fill="none" stroke="#50547a" stroke-width="5.6" stroke-linecap="round" stroke-linejoin="round"/><path d="M622 582 C630 594 640 606 648 615" fill="none" stroke="#9a9ec0" stroke-width="4.0" stroke-linecap="round" stroke-linejoin="round"/></g><g opacity="0.75"><path d="M676 605 C674 630 676 650 677 668" fill="none" stroke="#50547a" stroke-width="5.6" stroke-linecap="round" stroke-linejoin="round"/><path d="M676 605 C674 630 676 650 677 668" fill="none" stroke="#9a9ec0" stroke-width="4.0" stroke-linecap="round" stroke-linejoin="round"/></g><g opacity="0.75"><path d="M671 610 C669 632 671 652 673 668" fill="none" stroke="#50547a" stroke-width="5.6" stroke-linecap="round" stroke-linejoin="round"/><path d="M671 610 C669 632 671 652 673 668" fill="none" stroke="#9a9ec0" stroke-width="4.0" stroke-linecap="round" stroke-linejoin="round"/></g><g opacity="0.75"><path d="M643 638 C655 637 665 636 676 635" fill="none" stroke="#50547a" stroke-width="5.6" stroke-linecap="round" stroke-linejoin="round"/><path d="M643 638 C655 637 665 636 676 635" fill="none" stroke="#9a9ec0" stroke-width="4.0" stroke-linecap="round" stroke-linejoin="round"/></g><g opacity="0.75"><path d="M514 740 C530 734 545 736 560 742 C570 746 585 744 600 738" fill="none" stroke="#50547a" stroke-width="5.6" stroke-linecap="round" stroke-linejoin="round"/><path d="M514 740 C530 734 545 736 560 742 C570 746 585 744 600 738" fill="none" stroke="#9a9ec0" stroke-width="4.0" stroke-linecap="round" stroke-linejoin="round"/></g><g opacity="0.75"><path d="M520 748 C540 742 560 744 580 748" fill="none" stroke="#50547a" stroke-width="5.6" stroke-linecap="round" stroke-linejoin="round"/><path d="M520 748 C540 742 560 744 580 748" fill="none" stroke="#9a9ec0" stroke-width="4.0" stroke-linecap="round" stroke-linejoin="round"/></g><g opacity="0.75"><path d="M633 749 C643 735 655 715 666 699" fill="none" stroke="#50547a" stroke-width="5.6" stroke-linecap="round" stroke-linejoin="round"/><path d="M633 749 C643 735 655 715 666 699" fill="none" stroke="#9a9ec0" stroke-width="4.0" stroke-linecap="round" stroke-linejoin="round"/></g><g opacity="0.75"><path d="M640 749 C650 735 662 715 672 699" fill="none" stroke="#50547a" stroke-width="5.6" stroke-linecap="round" stroke-linejoin="round"/><path d="M640 749 C650 735 662 715 672 699" fill="none" stroke="#9a9ec0" stroke-width="4.0" stroke-linecap="round" stroke-linejoin="round"/></g><g opacity="0.75"><path d="M612 668 C618 675 624 690 622 705" fill="none" stroke="#50547a" stroke-width="5.6" stroke-linecap="round" stroke-linejoin="round"/><path d="M612 668 C618 675 624 690 622 705" fill="none" stroke="#9a9ec0" stroke-width="4.0" stroke-linecap="round" stroke-linejoin="round"/></g><g opacity="0.75"><path d="M585 582 C592 595 598 602 612 600" fill="none" stroke="#50547a" stroke-width="5.6" stroke-linecap="round" stroke-linejoin="round"/><path d="M585 582 C592 595 598 602 612 600" fill="none" stroke="#9a9ec0" stroke-width="4.0" stroke-linecap="round" stroke-linejoin="round"/></g><g opacity="0.75"><path d="M650 690 C660 700 670 705 681 700" fill="none" stroke="#50547a" stroke-width="5.6" stroke-linecap="round" stroke-linejoin="round"/><path d="M650 690 C660 700 670 705 681 700" fill="none" stroke="#9a9ec0" stroke-width="4.0" stroke-linecap="round" stroke-linejoin="round"/></g><g opacity="0.75"><path d="M660 720 C668 712 675 705 681 690" fill="none" stroke="#50547a" stroke-width="5.6" stroke-linecap="round" stroke-linejoin="round"/><path d="M660 720 C668 712 675 705 681 690" fill="none" stroke="#9a9ec0" stroke-width="4.0" stroke-linecap="round" stroke-linejoin="round"/></g><g opacity="0.75"><path d="M514.0 594.0 a7.0 11.0 0 1 0 14.0 0 a7.0 11.0 0 1 0 -14.0 0" fill="none" stroke="#a84a38" stroke-width="7.6" stroke-linecap="round" stroke-linejoin="round"/><path d="M514.0 594.0 a7.0 11.0 0 1 0 14.0 0 a7.0 11.0 0 1 0 -14.0 0" fill="none" stroke="#dc9080" stroke-width="6.0" stroke-linecap="round" stroke-linejoin="round"/></g><g opacity="0.75"><path d="M543.0 591.0 a16.0 8.0 0 1 0 32.0 0 a16.0 8.0 0 1 0 -32.0 0" fill="none" stroke="#985848" stroke-width="6.6" stroke-linecap="round" stroke-linejoin="round"/><path d="M543.0 591.0 a16.0 8.0 0 1 0 32.0 0 a16.0 8.0 0 1 0 -32.0 0" fill="none" stroke="#c89890" stroke-width="5.0" stroke-linecap="round" stroke-linejoin="round"/></g><g opacity="0.75"><path d="M514.5 622.0 C516.1 621.8 522.5 624.1 524.4 621.0 C526.3 617.9 523.6 607.8 525.7 603.6 C527.8 599.4 533.0 597.6 536.9 596.0 C540.8 594.4 546.4 595.5 549.3 593.7 C552.2 591.9 553.5 586.5 554.3 585.0" fill="none" stroke="#a84a38" stroke-width="3.4" stroke-linecap="round" stroke-linejoin="round"/><path d="M514.5 622.0 C516.1 621.8 522.5 624.1 524.4 621.0 C526.3 617.9 523.6 607.8 525.7 603.6 C527.8 599.4 533.0 597.6 536.9 596.0 C540.8 594.4 546.4 595.5 549.3 593.7 C552.2 591.9 553.5 586.5 554.3 585.0" fill="none" stroke="#dc9080" stroke-width="2.2" stroke-linecap="round" stroke-linejoin="round"/></g><g opacity="0.75"><path d="M524.4 622.3 C526.5 621.0 532.8 616.7 536.9 614.8 C541.0 612.9 545.6 611.0 549.3 611.0 C553.0 611.0 556.7 612.9 559.2 614.8 C561.7 616.7 563.2 619.4 564.2 622.3 C565.2 625.2 565.3 630.6 565.5 632.2" fill="none" stroke="#a84a38" stroke-width="3.4" stroke-linecap="round" stroke-linejoin="round"/><path d="M524.4 622.3 C526.5 621.0 532.8 616.7 536.9 614.8 C541.0 612.9 545.6 611.0 549.3 611.0 C553.0 611.0 556.7 612.9 559.2 614.8 C561.7 616.7 563.2 619.4 564.2 622.3 C565.2 625.2 565.3 630.6 565.5 632.2" fill="none" stroke="#dc9080" stroke-width="2.2" stroke-linecap="round" stroke-linejoin="round"/></g><g opacity="0.75"><path d="M554.0 632.0 a7.0 8.0 0 1 0 14.0 0 a7.0 8.0 0 1 0 -14.0 0" fill="none" stroke="#a84a38" stroke-width="5.1" stroke-linecap="round" stroke-linejoin="round"/><path d="M554.0 632.0 a7.0 8.0 0 1 0 14.0 0 a7.0 8.0 0 1 0 -14.0 0" fill="none" stroke="#dc9080" stroke-width="3.5" stroke-linecap="round" stroke-linejoin="round"/></g><g opacity="0.75"><path d="M557.0 633.0 a13.0 14.0 0 1 0 26.0 0 a13.0 14.0 0 1 0 -26.0 0" fill="none" stroke="#a84a38" stroke-width="5.1" stroke-linecap="round" stroke-linejoin="round"/><path d="M557.0 633.0 a13.0 14.0 0 1 0 26.0 0 a13.0 14.0 0 1 0 -26.0 0" fill="none" stroke="#dc9080" stroke-width="3.5" stroke-linecap="round" stroke-linejoin="round"/></g><g opacity="0.75"><path d="M514 638 C535 637 555 638 582 640" fill="none" stroke="#a06050" stroke-width="6.6" stroke-linecap="round" stroke-linejoin="round"/><path d="M514 638 C535 637 555 638 582 640" fill="none" stroke="#d8a498" stroke-width="5.0" stroke-linecap="round" stroke-linejoin="round"/></g><g opacity="0.75"><path d="M514.0 641.0 a5.0 6.0 0 1 0 10.0 0 a5.0 6.0 0 1 0 -10.0 0" fill="none" stroke="#a84a38" stroke-width="6.6" stroke-linecap="round" stroke-linejoin="round"/><path d="M514.0 641.0 a5.0 6.0 0 1 0 10.0 0 a5.0 6.0 0 1 0 -10.0 0" fill="none" stroke="#dc9080" stroke-width="5.0" stroke-linecap="round" stroke-linejoin="round"/></g><g opacity="0.75"><path d="M514.0 616.0 a5.0 7.0 0 1 0 10.0 0 a5.0 7.0 0 1 0 -10.0 0" fill="none" stroke="#a84a38" stroke-width="5.6" stroke-linecap="round" stroke-linejoin="round"/><path d="M514.0 616.0 a5.0 7.0 0 1 0 10.0 0 a5.0 7.0 0 1 0 -10.0 0" fill="none" stroke="#dc9080" stroke-width="4.0" stroke-linecap="round" stroke-linejoin="round"/></g><g opacity="0.70"><path d="M515.0 671.0 a5.0 7.0 0 1 0 10.0 0 a5.0 7.0 0 1 0 -10.0 0" fill="none" stroke="#a84a38" stroke-width="4.6" stroke-linecap="round" stroke-linejoin="round"/><path d="M515.0 671.0 a5.0 7.0 0 1 0 10.0 0 a5.0 7.0 0 1 0 -10.0 0" fill="none" stroke="#dc9080" stroke-width="3.0" stroke-linecap="round" stroke-linejoin="round"/></g><path d="M514 690 C522 686 530 690 534 698 C536 706 530 712 514 713 Z" fill="#e0a090" stroke="#b85a48" stroke-width="1.2" opacity="0.8"/><g opacity="0.80"><path d="M544 683 L536 708" fill="none" stroke="#904030" stroke-width="4.6" stroke-linecap="round" stroke-linejoin="round"/><path d="M544 683 L536 708" fill="none" stroke="#c07060" stroke-width="3.0" stroke-linecap="round" stroke-linejoin="round"/></g><g opacity="0.80"><path d="M589.0 611.0 C587.8 613.1 584.5 619.3 581.6 623.5 C578.7 627.7 575.0 632.5 571.7 636.0 C568.4 639.5 564.8 643.0 561.7 644.6 C558.6 646.2 554.6 644.2 553.0 645.9 C551.4 647.6 551.6 651.5 551.8 654.6 C552.0 657.7 553.9 662.9 554.3 664.5" fill="none" stroke="#806860" stroke-width="3.8" stroke-linecap="round" stroke-linejoin="round"/><path d="M589.0 611.0 C587.8 613.1 584.5 619.3 581.6 623.5 C578.7 627.7 575.0 632.5 571.7 636.0 C568.4 639.5 564.8 643.0 561.7 644.6 C558.6 646.2 554.6 644.2 553.0 645.9 C551.4 647.6 551.6 651.5 551.8 654.6 C552.0 657.7 553.9 662.9 554.3 664.5" fill="none" stroke="#b09890" stroke-width="2.6" stroke-linecap="round" stroke-linejoin="round"/></g><g opacity="0.80"><path d="M598 612 C603 615 607 617 611 619 M610 583 C611 595 611 607 610 619" fill="none" stroke="#a85040" stroke-width="3.2" stroke-linecap="round" stroke-linejoin="round"/><path d="M598 612 C603 615 607 617 611 619 M610 583 C611 595 611 607 610 619" fill="none" stroke="#e09080" stroke-width="2.2" stroke-linecap="round" stroke-linejoin="round"/></g><g opacity="0.75" fill="none"><g stroke="#58b070" stroke-width="7.6"><ellipse cx="558" cy="660" rx="15" ry="9.2" transform="rotate(214 558 660)"/><ellipse cx="551.4" cy="683" rx="15" ry="9.2" transform="rotate(214 551.4 683)"/><ellipse cx="546.1" cy="706.4" rx="15" ry="9.2" transform="rotate(208 546.1 706.4)"/><ellipse cx="542" cy="730" rx="15" ry="9.2" transform="rotate(208 542 730)"/></g><g stroke="#a8e4b4" stroke-width="6.0"><ellipse cx="558" cy="660" rx="15" ry="9.2" transform="rotate(214 558 660)"/><ellipse cx="551.4" cy="683" rx="15" ry="9.2" transform="rotate(214 551.4 683)"/><ellipse cx="546.1" cy="706.4" rx="15" ry="9.2" transform="rotate(208 546.1 706.4)"/><ellipse cx="542" cy="730" rx="15" ry="9.2" transform="rotate(208 542 730)"/></g></g><g opacity="0.70"><path d="M540 728 C534 735 530 742 528 749" fill="none" stroke="#58b070" stroke-width="6.6" stroke-linecap="round" stroke-linejoin="round"/><path d="M540 728 C534 735 530 742 528 749" fill="none" stroke="#a8e4b4" stroke-width="5.0" stroke-linecap="round" stroke-linejoin="round"/></g></g></g>
  <g id="bs">
    <path d="M612 673.7 L619.4 667.5 L626.8 665 L633 660 L635.5 652 M623 658.8 L633 660 L636.8 665" stroke="#58c840" stroke-width="1.6" fill="none"/>
    <path d="M615.6 678.7 L617 673.7 L619.4 667.5 M626.8 665 L638 663.8 L643 658.8 L651.7 655" stroke="#c83020" stroke-width="1.6" fill="none"/>
    <circle cx="626.8" cy="665" r="2.2" fill="#c04a80"/><circle cx="619.4" cy="667.5" r="2" fill="#c04a80"/>
    <circle cx="635.5" cy="652" r="2" fill="#48c030"/><circle cx="623" cy="658.8" r="2" fill="#70e040"/><circle cx="633" cy="660" r="2.2" fill="#50d030"/><circle cx="612" cy="673.7" r="2" fill="#38b030"/><circle cx="636.8" cy="665" r="2" fill="#30a030"/>
    <circle cx="651.7" cy="655" r="2" fill="#d83818"/><circle cx="643" cy="658.8" r="2.6" fill="#d03018"/><circle cx="638" cy="663.8" r="2.1" fill="#c82818"/><circle cx="617" cy="673.7" r="2" fill="#c83020"/><circle cx="615.6" cy="678.7" r="2" fill="#d03018"/>
  </g>
  <rect x="514" y="582" width="167" height="166.5" fill="none" stroke="#111" stroke-width="1.8"/>
</g>

<!-- Legend -->
<g id="legend">
  <rect x="434.5" y="797.5" width="15.5" height="5" rx="2.2" fill="#3f5d8e"/>
  <rect x="434.5" y="814.6" width="15.5" height="5" rx="2.2" fill="#27b04e"/>
  <rect x="434.5" y="830.2" width="15.5" height="5" rx="2.2" fill="#1f6fc8"/>
  <rect x="434.5" y="847" width="15.5" height="5" rx="2.2" fill="#c41019"/>
  <g stroke="#60b040" stroke-width="1" fill="#58c038">
    <path d="M435 865 L437 869 L442 869 L446 867 L446.5 870 L450 865.5 M437 869 L435 873.4 L434.8 877.3" fill="none"/>
    <circle cx="435" cy="865" r="1.3"/><circle cx="437.2" cy="869" r="1.3"/><circle cx="442" cy="869" r="1.3"/><circle cx="445.7" cy="867" r="1.3"/><circle cx="446.4" cy="869.8" r="1.3"/><circle cx="449.9" cy="865.6" r="1.3"/><circle cx="435" cy="873.4" r="1.3"/><circle cx="434.8" cy="877.3" r="1.3"/>
  </g>
  <g stroke="#b04040" stroke-width="1" fill="#c03030">
    <path d="M436.5 884.7 L437.2 889.6 L441.4 889.6 L445 888.2 L449.2 888.9 L452 884 M437.2 889.6 L435 893 L434.4 896.7" fill="none"/>
    <circle cx="436.5" cy="884.7" r="1.3"/><circle cx="437.2" cy="889.6" r="1.3"/><circle cx="441.4" cy="889.6" r="1.3"/><circle cx="445" cy="888.2" r="1.3"/><circle cx="449.2" cy="888.9" r="1.3"/><circle cx="452" cy="884" r="1.3"/><circle cx="435" cy="893" r="1.3"/><circle cx="434.4" cy="896.7" r="1.3"/>
  </g>
  <g font-family="Liberation Sans" font-size="11.2" fill="#1a1a1a">
    <text x="459.5" y="805.4">Wild-type MYH7</text>
    <text x="459.5" y="820.6">Actin in interaction with wild-type MYH7</text>
    <text x="459.5" y="836.9">Mutant MYH7</text>
    <text x="459.5" y="853.7">Actin in interaction with mutant MYH7</text>
    <text x="459.5" y="870.5">L655 in MYH7</text>
    <text x="459.5" y="891">655M in MYH7</text>
  </g>
</g>

<!-- panel letters -->
<g font-family="Liberation Sans" font-weight="bold" font-size="12" fill="#111">
  <text x="25.8" y="21.8">A</text>
  <text x="25.8" y="529.8">B</text>
  <text x="294.8" y="529.8">C</text>
  <text x="520.6" y="529.8">D</text>
</g>
<rect x="25" y="549" width="2" height="2" fill="#ccc"/>

</svg>
</body></html>
